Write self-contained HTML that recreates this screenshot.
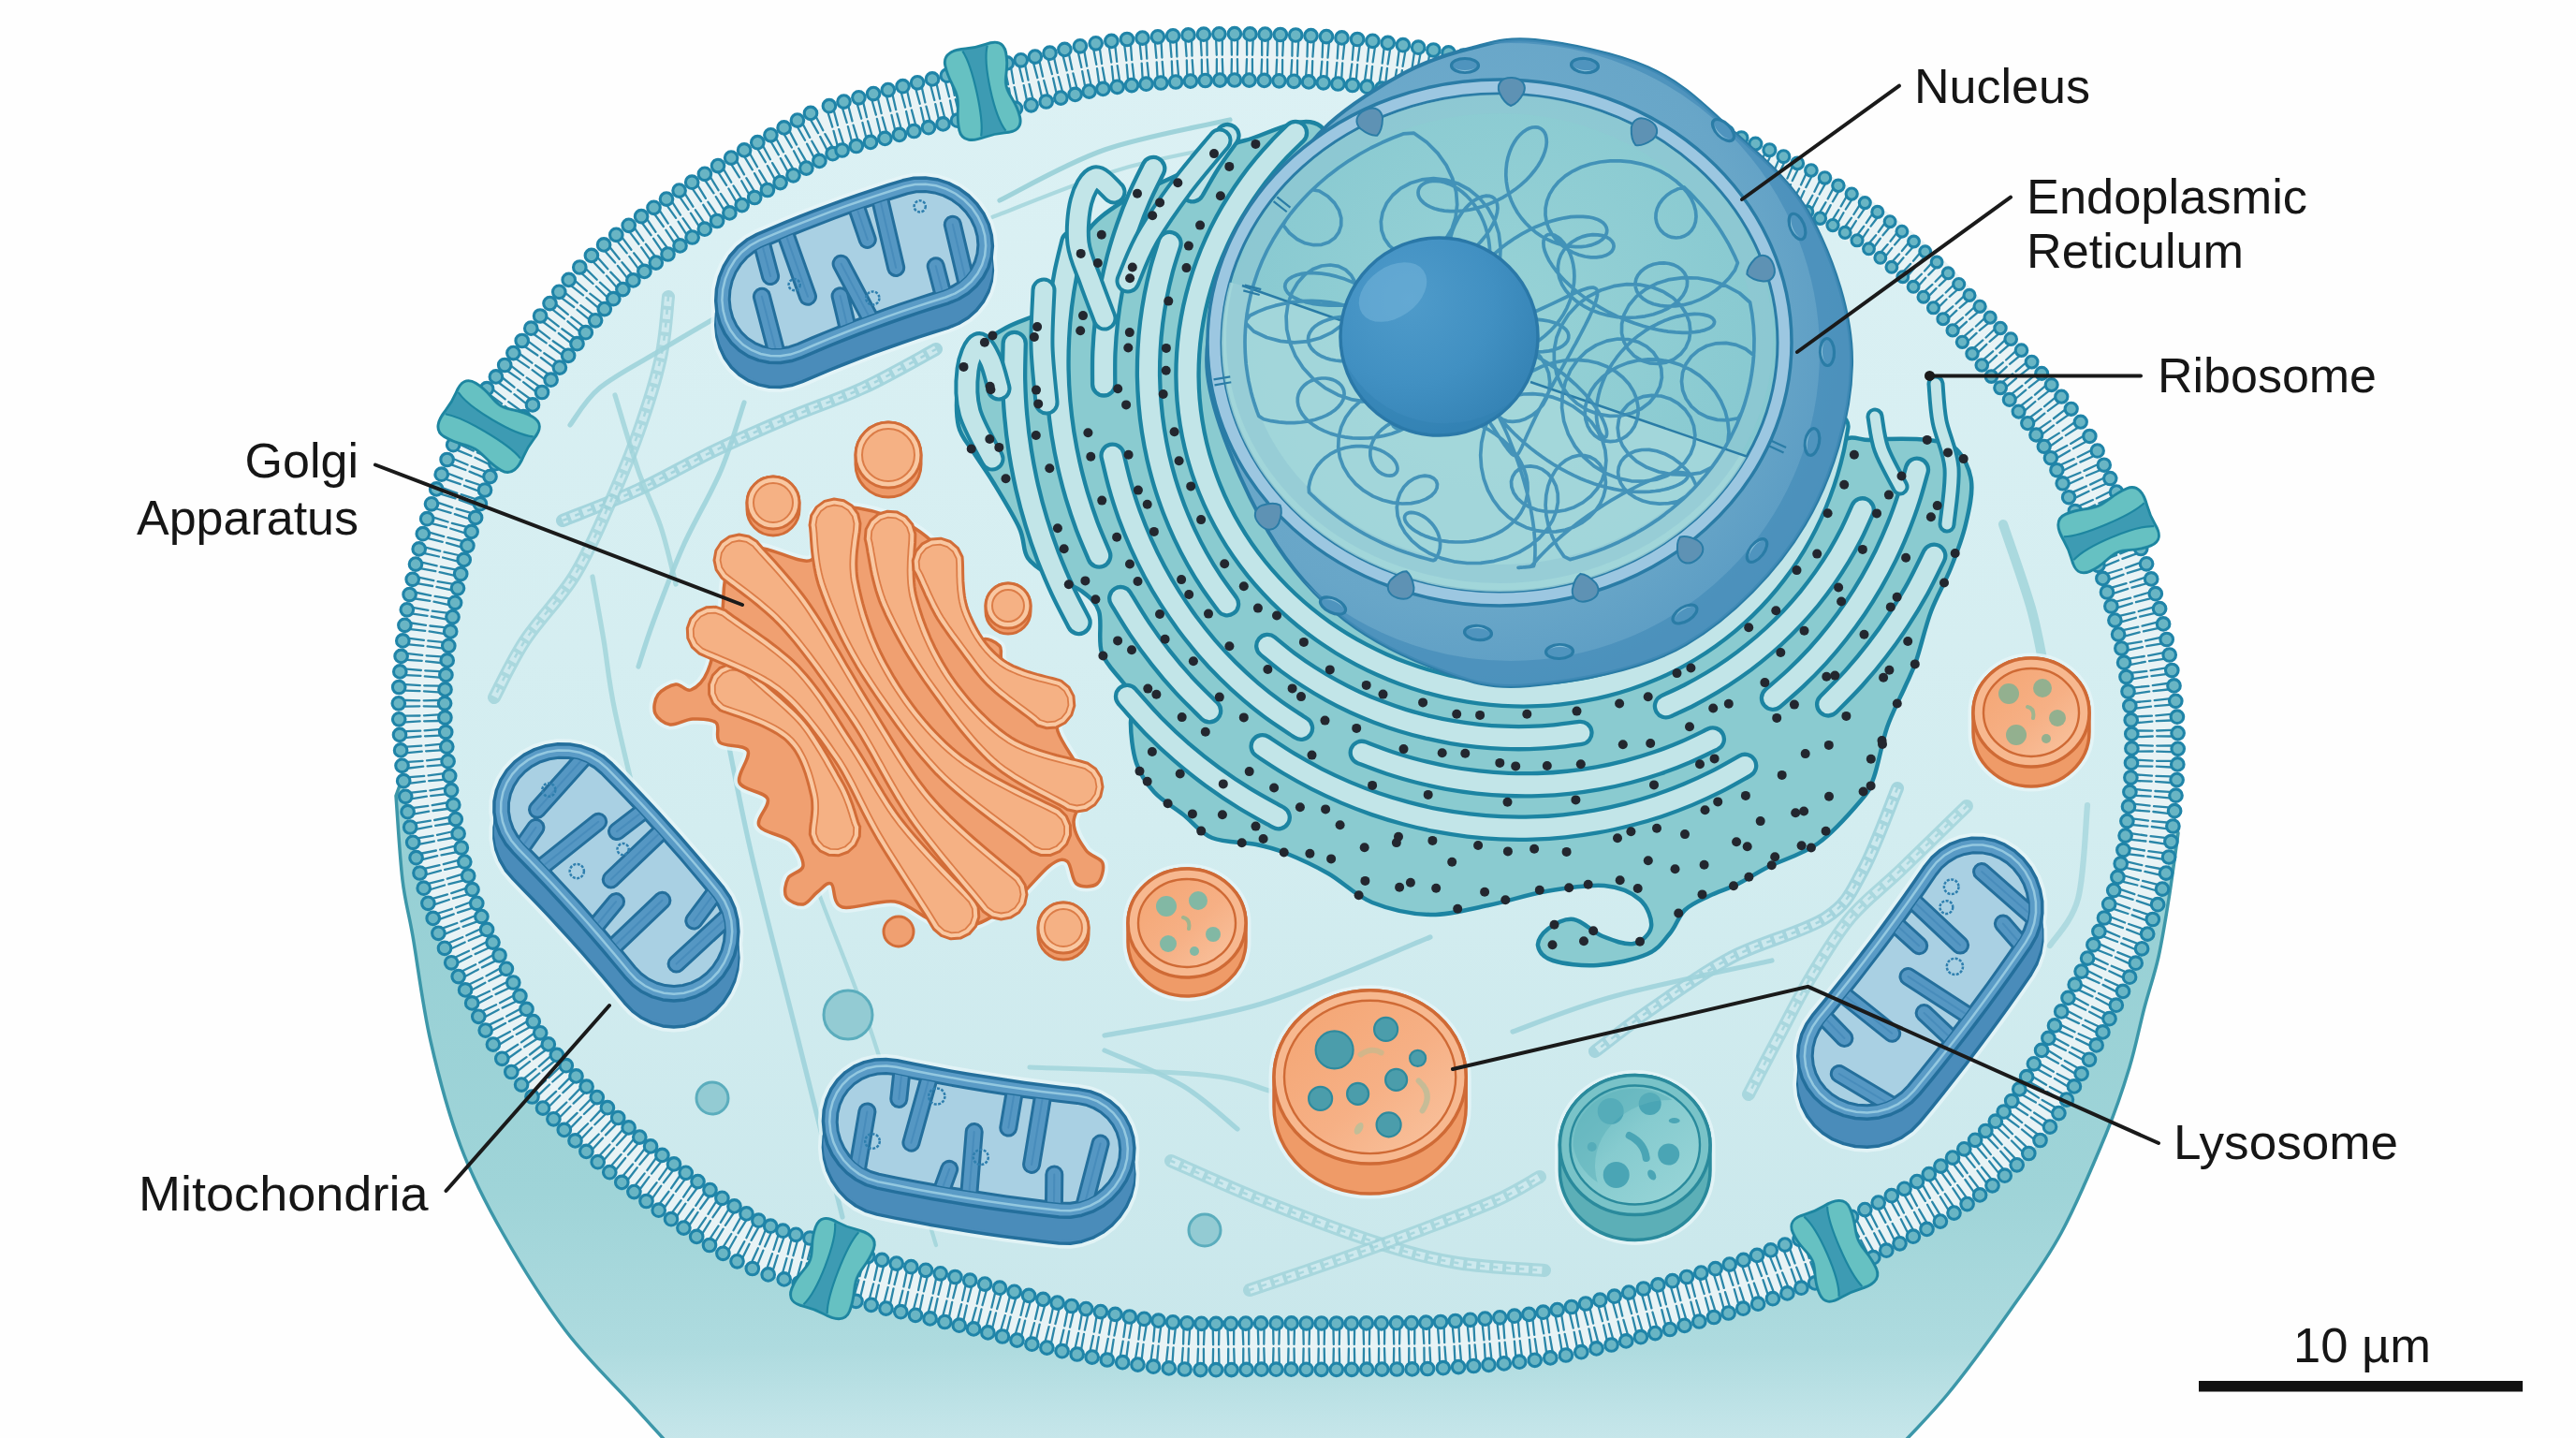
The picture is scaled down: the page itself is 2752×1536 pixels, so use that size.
<!DOCTYPE html><html><head><meta charset="utf-8"><title>Cell</title><style>html,body{margin:0;padding:0;background:#fefefe;overflow:hidden}svg{display:block}text{font-family:"Liberation Sans",sans-serif;fill:#161616}</style></head><body><svg width="2752" height="1536" viewBox="0 0 2752 1536"><defs><linearGradient id="gBody" gradientUnits="userSpaceOnUse" x1="0" y1="850" x2="0" y2="1536"><stop offset="0" stop-color="#95cfd4"/><stop offset="0.62" stop-color="#9fd4d8"/><stop offset="0.86" stop-color="#aedbdf"/><stop offset="1" stop-color="#c6e6ea"/></linearGradient><linearGradient id="gCyto" gradientUnits="userSpaceOnUse" x1="0" y1="60" x2="0" y2="1440"><stop offset="0" stop-color="#dcf1f4"/><stop offset="0.6" stop-color="#d3edf0"/><stop offset="1" stop-color="#c9e7eb"/></linearGradient><radialGradient id="gNuc" gradientUnits="userSpaceOnUse" cx="1560" cy="330" r="430"><stop offset="0" stop-color="#74b0d0"/><stop offset="0.75" stop-color="#68a6c8"/><stop offset="1" stop-color="#5a9bc3"/></radialGradient><radialGradient id="gNcl" gradientUnits="userSpaceOnUse" cx="1505" cy="320" r="150"><stop offset="0" stop-color="#4f9bca"/><stop offset="0.6" stop-color="#4190c2"/><stop offset="1" stop-color="#3684b6"/></radialGradient><radialGradient id="gNin" gradientUnits="userSpaceOnUse" cx="1600" cy="330" r="330"><stop offset="0" stop-color="#97d2d6"/><stop offset="1" stop-color="#86c8d0"/></radialGradient><clipPath id="cNuc"><path d="M1640 43C1671.7 46.3 1726.2 57 1760 72C1793.8 87 1813.8 106.2 1843 133C1872.2 159.8 1912.5 190.2 1935 233C1957.5 275.8 1979.2 335.5 1978 390C1976.8 444.5 1957.5 510.3 1928 560C1898.5 609.7 1850 659.3 1801 688C1752 716.7 1678.5 727.7 1634 732C1589.5 736.3 1568.5 727 1534 714C1499.5 701 1458.2 680.7 1427 654C1395.8 627.3 1369.8 596.3 1347 554C1324.2 511.7 1295.2 445.7 1290 400C1284.8 354.3 1302.7 314 1316 280C1329.3 246 1352.7 220.7 1370 196C1387.3 171.3 1398.3 151.7 1420 132C1441.7 112.3 1475 91.3 1500 78C1525 64.7 1546.7 57.8 1570 52C1593.3 46.2 1608.3 39.7 1640 43Z"/></clipPath><clipPath id="cRing"><ellipse cx="1602" cy="366" rx="297" ry="266"/></clipPath><linearGradient id="gLo" x1="0" y1="0" x2="1" y2="1"><stop offset="0" stop-color="#f4a573"/><stop offset="0.55" stop-color="#f6b085"/><stop offset="1" stop-color="#f9c4a0"/></linearGradient><linearGradient id="gLt" x1="0" y1="0" x2="1" y2="1"><stop offset="0" stop-color="#63b6be"/><stop offset="0.45" stop-color="#86cbcf"/><stop offset="1" stop-color="#9ad6d8"/></linearGradient><clipPath id="cm1"><path d="M969.5 206.8L978.9 204.8L988.7 204.5L998.4 205.9L1007.9 208.9L1016.8 213.4L1024.9 219.4L1031.8 226.4L1037.5 234.5L1041.6 243.2L1044.1 252.4L1044.9 261.7L1044 270.9L1041.4 279.8L1037.2 287.9L1031.5 295.2L1024.5 301.5L1016.5 306.4L1007.6 310L991.8 315L976 320.1L960.2 325.4L944.6 330.9L929 336.6L913.4 342.4L898 348.5L882.6 354.7L867.2 361L851.9 367.6L842.9 370.7L833.6 372.1L824.2 371.9L815.2 370.1L806.7 366.6L798.9 361.6L792.2 355.2L786.8 347.6L782.7 339L780.2 329.7L779.2 319.9L779.9 310L782.1 300.3L785.9 291L791.2 282.6L797.7 275.2L805.3 269.1L813.8 264.4L829.1 257.9L844.4 251.5L859.8 245.3L875.3 239.3L890.8 233.4L906.4 227.7L922.1 222.2L937.8 216.9L953.6 211.8Z"/></clipPath><clipPath id="cm2"><path d="M761.6 958.2L767.1 966.4L771.2 975.4L773.6 985.1L774.4 995.2L773.6 1005.2L771.1 1015L767 1024.2L761.5 1032.5L754.8 1039.7L747.1 1045.6L738.5 1049.9L729.4 1052.5L720.1 1053.4L710.7 1052.6L701.5 1050L693 1045.9L685.2 1040.2L678.4 1033.2L667.1 1019.4L655.6 1005.8L644 992.3L632.3 978.9L620.5 965.6L608.5 952.4L596.4 939.4L584.2 926.4L571.8 913.6L559.3 900.9L553.1 893.4L548.2 885.1L545 876.1L543.4 866.8L543.5 857.4L545.4 848.1L549 839.4L554.2 831.3L560.8 824.2L568.6 818.3L577.5 813.7L587 810.7L597 809.2L607.1 809.4L617.1 811.2L626.4 814.7L635 819.6L642.5 826L655 838.7L667.4 851.5L679.6 864.4L691.7 877.5L703.7 890.7L715.5 903.9L727.3 917.3L738.8 930.9L750.3 944.5Z"/></clipPath><clipPath id="cm3"><path d="M1150.7 1178.4L1159.9 1180.2L1168.6 1183.6L1176.4 1188.3L1183.3 1194.4L1188.9 1201.5L1193.1 1209.6L1195.7 1218.4L1196.7 1227.6L1196.1 1236.9L1193.8 1246.1L1189.9 1254.9L1184.6 1263L1178 1270.1L1170.4 1276.1L1161.8 1280.7L1152.7 1283.8L1143.2 1285.3L1133.8 1285.1L1114.2 1282.9L1094.6 1280.5L1075.1 1277.9L1055.6 1275.1L1036.1 1272.1L1016.7 1268.9L997.3 1265.6L977.9 1262L958.5 1258.2L939.2 1254.3L930.1 1251.5L921.6 1247.2L913.9 1241.4L907.2 1234.4L901.8 1226.3L897.7 1217.5L895.1 1208.2L894.2 1198.6L894.8 1189.2L897.1 1180.1L900.9 1171.7L906.1 1164.2L912.6 1157.8L920.2 1152.7L928.5 1149.1L937.5 1147L946.8 1146.5L956.1 1147.6L975.4 1151.6L994.8 1155.3L1014.2 1158.9L1033.6 1162.3L1053 1165.4L1072.5 1168.4L1092 1171.2L1111.5 1173.8L1131.1 1176.2Z"/></clipPath><clipPath id="cm4"><path d="M2068.2 934.5L2074.3 926.9L2081.6 920.6L2089.8 915.7L2098.7 912.4L2108 910.8L2117.4 910.9L2126.7 912.7L2135.6 916.3L2143.9 921.4L2151.2 928L2157.3 935.8L2162.2 944.6L2165.5 954.1L2167.2 964L2167.3 974.1L2165.7 984L2162.4 993.3L2157.6 1001.9L2146.4 1018.2L2135 1034.4L2123.5 1050.5L2111.8 1066.5L2100 1082.4L2088 1098.1L2075.8 1113.8L2063.5 1129.3L2051.1 1144.7L2038.5 1160L2031.6 1167L2023.5 1172.7L2014.4 1176.9L2004.7 1179.7L1994.7 1180.7L1984.6 1180.2L1974.8 1178L1965.6 1174.2L1957.3 1169L1950.1 1162.5L1944.2 1154.9L1939.9 1146.5L1937.2 1137.4L1936.2 1128L1937 1118.6L1939.4 1109.3L1943.5 1100.6L1949 1092.6L1961.6 1077.3L1974.1 1061.9L1986.4 1046.4L1998.5 1030.7L2010.5 1015L2022.4 999.1L2034 983.1L2045.6 967L2057 950.8Z"/></clipPath></defs><path d="M423 850C424.2 865 427 915 430 940C433 965 436 971.3 441 1000C446 1028.7 451.5 1074.7 460 1112C468.5 1149.3 479.2 1189.8 492 1224C504.8 1258.2 518.3 1284.2 537 1317C555.7 1349.8 580.5 1390 604 1421C627.5 1452 657 1479.8 678 1503C699 1526.2 721.3 1550.5 730 1560L2015 1560C2025.8 1548.3 2057.8 1516.8 2080 1490C2102.2 1463.2 2127.7 1427.8 2148 1399C2168.3 1370.2 2185 1348.3 2202 1317C2219 1285.7 2237.8 1240.5 2250 1211C2262.2 1181.5 2268.2 1162.5 2275 1140C2281.8 1117.5 2285.8 1095.7 2291 1076C2296.2 1056.3 2301.7 1041.3 2306 1022C2310.3 1002.7 2313.5 982 2317 960C2320.5 938 2325.3 901.7 2327 890L2302 800C2301.7 792.2 2302 772.2 2300 753C2298 733.8 2294.7 707.7 2290 685C2285.3 662.3 2278 636.2 2272 617C2266 597.8 2260.3 585.3 2254 570C2247.7 554.7 2242 542 2234 525C2226 508 2218.3 487.5 2206 468C2193.7 448.5 2174.3 425.7 2160 408C2145.7 390.3 2138.3 382.2 2120 362C2101.7 341.8 2075.8 310.3 2050 287C2024.2 263.7 1998.3 241.8 1965 222C1931.7 202.2 1894.2 185.3 1850 168C1805.8 150.7 1748.3 132 1700 118C1651.7 104 1602.8 92.7 1560 84C1517.2 75.3 1480.5 69.8 1443 66C1405.5 62.2 1366.7 61.5 1335 61C1303.3 60.5 1280.2 61.3 1253 63C1225.8 64.7 1198.7 66.7 1172 71C1145.3 75.3 1113 84.7 1093 89C1073 93.3 1069.7 93.2 1052 97C1034.3 100.8 1012.5 105.7 987 112C961.5 118.3 919.2 128.8 899 135C878.8 141.2 888.5 136.8 866 149C843.5 161.2 798.3 186 764 208C729.7 230 686 259.3 660 281C634 302.7 625 317.2 608 338C591 358.8 572.2 386.7 558 406C543.8 425.3 532.8 437.7 523 454C513.2 470.3 506.8 483.8 499 504C491.2 524.2 482.5 550.7 476 575C469.5 599.3 464 626.3 460 650C456 673.7 453.5 696.7 452 717C450.5 737.3 451.2 762.8 451 772Z" fill="url(#gBody)" stroke="#3c97a9" stroke-width="3.5" stroke-linejoin="round"/><path d="M1335 61C1366.7 61.5 1405.5 62.2 1443 66C1480.5 69.8 1517.2 75.3 1560 84C1602.8 92.7 1651.7 104 1700 118C1748.3 132 1805.8 150.7 1850 168C1894.2 185.3 1931.7 202.2 1965 222C1998.3 241.8 2024.2 263.7 2050 287C2075.8 310.3 2101.7 341.8 2120 362C2138.3 382.2 2145.7 390.3 2160 408C2174.3 425.7 2193.7 448.5 2206 468C2218.3 487.5 2226 508 2234 525C2242 542 2247.7 554.7 2254 570C2260.3 585.3 2266 597.8 2272 617C2278 636.2 2285.3 662.3 2290 685C2294.7 707.7 2298 733.8 2300 753C2302 772.2 2302.2 782.3 2302 800C2301.8 817.7 2301 837.8 2299 859C2297 880.2 2294.2 906.7 2290 927C2285.8 947.3 2280.3 963 2274 981C2267.7 999 2260.2 1016.8 2252 1035C2243.8 1053.2 2233.3 1073.3 2225 1090C2216.7 1106.7 2213.8 1115 2202 1135C2190.2 1155 2174.3 1187.3 2154 1210C2133.7 1232.7 2106 1253.2 2080 1271C2054 1288.8 2018 1306.2 1998 1317C1978 1327.8 1973 1330.3 1960 1336C1947 1341.7 1936.3 1345 1920 1351C1903.7 1357 1887.5 1364 1862 1372C1836.5 1380 1800.8 1390.2 1767 1399C1733.2 1407.8 1695.2 1418.8 1659 1425C1622.8 1431.2 1581.5 1433.8 1550 1436C1518.5 1438.2 1501.3 1437.7 1470 1438C1438.7 1438.3 1398.2 1438.2 1362 1438C1325.8 1437.8 1289.3 1440 1253 1437C1216.7 1434 1180.2 1427.3 1144 1420C1107.8 1412.7 1073.2 1402 1036 1393C998.8 1384 947 1372.8 921 1366C895 1359.2 900.5 1358.8 880 1352C859.5 1345.2 830.7 1342.5 798 1325C765.3 1307.5 716 1272 684 1247C652 1222 627 1196.3 606 1175C585 1153.7 572 1139.5 558 1119C544 1098.5 532.8 1073.2 522 1052C511.2 1030.8 501.3 1013.2 493 992C484.7 970.8 477.8 948.7 472 925C466.2 901.3 461.5 875.5 458 850C454.5 824.5 452 794.2 451 772C450 749.8 450.5 737.3 452 717C453.5 696.7 456 673.7 460 650C464 626.3 469.5 599.3 476 575C482.5 550.7 491.2 524.2 499 504C506.8 483.8 513.2 470.3 523 454C532.8 437.7 543.8 425.3 558 406C572.2 386.7 591 358.8 608 338C625 317.2 634 302.7 660 281C686 259.3 729.7 230 764 208C798.3 186 843.5 161.2 866 149C888.5 136.8 878.8 141.2 899 135C919.2 128.8 961.5 118.3 987 112C1012.5 105.7 1034.3 100.8 1052 97C1069.7 93.2 1073 93.3 1093 89C1113 84.7 1145.3 75.3 1172 71C1198.7 66.7 1225.8 64.7 1253 63C1280.2 61.3 1303.3 60.5 1335 61Z" fill="url(#gCyto)"/><path d="M1000 373C987.2 379.8 949.2 401.8 923 414C896.8 426.2 869.8 434.7 843 446C816.2 457.3 788.8 469.2 762 482C735.2 494.8 708.8 510.7 682 523C655.2 535.3 614.5 550.5 601 556" fill="none" stroke="#9fd2da" stroke-width="14" stroke-linecap="round" opacity="0.9"/><path d="M1000 373C987.2 379.8 949.2 401.8 923 414C896.8 426.2 869.8 434.7 843 446C816.2 457.3 788.8 469.2 762 482C735.2 494.8 708.8 510.7 682 523C655.2 535.3 614.5 550.5 601 556" fill="none" stroke="#cfeaee" stroke-width="8" stroke-dasharray="10 4" opacity="0.95"/><path d="M1000 373C987.2 379.8 949.2 401.8 923 414C896.8 426.2 869.8 434.7 843 446C816.2 457.3 788.8 469.2 762 482C735.2 494.8 708.8 510.7 682 523C655.2 535.3 614.5 550.5 601 556" fill="none" stroke="#9fd2da" stroke-width="2.5" stroke-dasharray="5 9" opacity="0.9"/><path d="M714 317C712.7 327.8 711.3 357.8 706 382C700.7 406.2 691.5 435.2 682 462C672.5 488.8 660.5 517.3 649 543C637.5 568.7 627.7 592.5 613 616C598.3 639.5 575.2 662.5 561 684C546.8 705.5 533.5 734.8 528 745" fill="none" stroke="#9fd2da" stroke-width="14" stroke-linecap="round" opacity="0.8"/><path d="M714 317C712.7 327.8 711.3 357.8 706 382C700.7 406.2 691.5 435.2 682 462C672.5 488.8 660.5 517.3 649 543C637.5 568.7 627.7 592.5 613 616C598.3 639.5 575.2 662.5 561 684C546.8 705.5 533.5 734.8 528 745" fill="none" stroke="#cfeaee" stroke-width="8" stroke-dasharray="10 4" opacity="0.95"/><path d="M714 317C712.7 327.8 711.3 357.8 706 382C700.7 406.2 691.5 435.2 682 462C672.5 488.8 660.5 517.3 649 543C637.5 568.7 627.7 592.5 613 616C598.3 639.5 575.2 662.5 561 684C546.8 705.5 533.5 734.8 528 745" fill="none" stroke="#9fd2da" stroke-width="2.5" stroke-dasharray="5 9" opacity="0.8"/><path d="M1068 214C1086.7 205 1139 174.3 1180 160C1221 145.7 1291.7 133.3 1314 128" fill="none" stroke="#9fd3da" stroke-width="5.2" stroke-linecap="round" opacity="1"/><path d="M1060 232C1083.3 223.3 1153.3 193.7 1200 180C1246.7 166.3 1316.7 155 1340 150" fill="none" stroke="#9fd3da" stroke-width="4.2" stroke-linecap="round" opacity="0.8"/><path d="M762 341C752.7 346.5 726.2 361.8 706 374C685.8 386.2 657.2 400.7 641 414C624.8 427.3 614.3 447.3 609 454" fill="none" stroke="#9fd3da" stroke-width="5.2" stroke-linecap="round" opacity="0.9"/><path d="M795 430C790.8 442.2 780.8 477.5 770 503C759.2 528.5 742 556.2 730 583C718 609.8 706 642.5 698 664C690 685.5 684.7 704 682 712" fill="none" stroke="#9fd3da" stroke-width="5.2" stroke-linecap="round" opacity="0.9"/><path d="M657 422C661.2 435.5 673.8 479.5 682 503C690.2 526.5 699.3 542.8 706 563C712.7 583.2 719.3 613.8 722 624" fill="none" stroke="#9fd3da" stroke-width="5.2" stroke-linecap="round" opacity="0.8"/><path d="M633 616C635 627.3 641 660 645 684C649 708 649.5 724 657 760C664.5 796 684.5 876.7 690 900" fill="none" stroke="#9fd3da" stroke-width="5.2" stroke-linecap="round" opacity="0.8"/><path d="M760 700C766.7 733.3 785 833.3 800 900C815 966.7 833.3 1033.3 850 1100C866.7 1166.7 891.7 1266.7 900 1300" fill="none" stroke="#9fd3da" stroke-width="5.2" stroke-linecap="round" opacity="0.9"/><path d="M800 640C808.3 680 828.3 803.3 850 880C871.7 956.7 905 1025 930 1100C955 1175 988.3 1291.7 1000 1330" fill="none" stroke="#9fd3da" stroke-width="4.2" stroke-linecap="round" opacity="0.8"/><path d="M2027 842C2020.8 856.7 2002.7 907 1990 930C1977.3 953 1974.2 964.7 1951 980C1927.8 995.3 1881.7 1006 1851 1022C1820.3 1038 1791.5 1059.2 1767 1076C1742.5 1092.8 1714.5 1115.2 1704 1123" fill="none" stroke="#9fd2da" stroke-width="14" stroke-linecap="round" opacity="0.9"/><path d="M2027 842C2020.8 856.7 2002.7 907 1990 930C1977.3 953 1974.2 964.7 1951 980C1927.8 995.3 1881.7 1006 1851 1022C1820.3 1038 1791.5 1059.2 1767 1076C1742.5 1092.8 1714.5 1115.2 1704 1123" fill="none" stroke="#cfeaee" stroke-width="8" stroke-dasharray="10 4" opacity="0.95"/><path d="M2027 842C2020.8 856.7 2002.7 907 1990 930C1977.3 953 1974.2 964.7 1951 980C1927.8 995.3 1881.7 1006 1851 1022C1820.3 1038 1791.5 1059.2 1767 1076C1742.5 1092.8 1714.5 1115.2 1704 1123" fill="none" stroke="#9fd2da" stroke-width="2.5" stroke-dasharray="5 9" opacity="0.9"/><path d="M2101 861C2089.2 872.5 2050.7 910.2 2030 930C2009.3 949.8 1992.8 961.2 1977 980C1961.2 998.8 1947.7 1022 1935 1043C1922.3 1064 1912.2 1085 1901 1106C1889.8 1127 1873.5 1158.5 1868 1169" fill="none" stroke="#9fd2da" stroke-width="14" stroke-linecap="round" opacity="0.8"/><path d="M2101 861C2089.2 872.5 2050.7 910.2 2030 930C2009.3 949.8 1992.8 961.2 1977 980C1961.2 998.8 1947.7 1022 1935 1043C1922.3 1064 1912.2 1085 1901 1106C1889.8 1127 1873.5 1158.5 1868 1169" fill="none" stroke="#cfeaee" stroke-width="8" stroke-dasharray="10 4" opacity="0.95"/><path d="M2101 861C2089.2 872.5 2050.7 910.2 2030 930C2009.3 949.8 1992.8 961.2 1977 980C1961.2 998.8 1947.7 1022 1935 1043C1922.3 1064 1912.2 1085 1901 1106C1889.8 1127 1873.5 1158.5 1868 1169" fill="none" stroke="#9fd2da" stroke-width="2.5" stroke-dasharray="5 9" opacity="0.8"/><path d="M1251 1240C1267.2 1247 1311 1267.3 1348 1282C1385 1296.7 1438.2 1316.8 1473 1328C1507.8 1339.2 1527.5 1344.2 1557 1349C1586.5 1353.8 1634.5 1355.7 1650 1357" fill="none" stroke="#9fd2da" stroke-width="14" stroke-linecap="round" opacity="0.8"/><path d="M1251 1240C1267.2 1247 1311 1267.3 1348 1282C1385 1296.7 1438.2 1316.8 1473 1328C1507.8 1339.2 1527.5 1344.2 1557 1349C1586.5 1353.8 1634.5 1355.7 1650 1357" fill="none" stroke="#cfeaee" stroke-width="8" stroke-dasharray="10 4" opacity="0.95"/><path d="M1251 1240C1267.2 1247 1311 1267.3 1348 1282C1385 1296.7 1438.2 1316.8 1473 1328C1507.8 1339.2 1527.5 1344.2 1557 1349C1586.5 1353.8 1634.5 1355.7 1650 1357" fill="none" stroke="#9fd2da" stroke-width="2.5" stroke-dasharray="5 9" opacity="0.8"/><path d="M1335 1378C1351.2 1372.5 1402 1355.5 1432 1345C1462 1334.5 1487.2 1325.5 1515 1315C1542.8 1304.5 1577.3 1291.7 1599 1282C1620.7 1272.3 1637.3 1261.2 1645 1257" fill="none" stroke="#9fd2da" stroke-width="14" stroke-linecap="round" opacity="0.8"/><path d="M1335 1378C1351.2 1372.5 1402 1355.5 1432 1345C1462 1334.5 1487.2 1325.5 1515 1315C1542.8 1304.5 1577.3 1291.7 1599 1282C1620.7 1272.3 1637.3 1261.2 1645 1257" fill="none" stroke="#cfeaee" stroke-width="8" stroke-dasharray="10 4" opacity="0.95"/><path d="M1335 1378C1351.2 1372.5 1402 1355.5 1432 1345C1462 1334.5 1487.2 1325.5 1515 1315C1542.8 1304.5 1577.3 1291.7 1599 1282C1620.7 1272.3 1637.3 1261.2 1645 1257" fill="none" stroke="#9fd2da" stroke-width="2.5" stroke-dasharray="5 9" opacity="0.8"/><path d="M1180 1106C1208 1100.3 1290 1089.5 1348 1072C1406 1054.5 1498 1012.8 1528 1001" fill="none" stroke="#9fd3da" stroke-width="5.2" stroke-linecap="round" opacity="0.9"/><path d="M1616 1102C1634.2 1095.7 1678.8 1076.7 1725 1064C1771.2 1051.3 1865 1032.3 1893 1026" fill="none" stroke="#9fd3da" stroke-width="5.2" stroke-linecap="round" opacity="0.9"/><path d="M1180 1122C1194 1128.3 1240.3 1146 1264 1160C1287.7 1174 1312.3 1198.3 1322 1206" fill="none" stroke="#9fd3da" stroke-width="5.2" stroke-linecap="round" opacity="0.9"/><path d="M1100 1140C1130.8 1141.3 1242.3 1143.8 1285 1148C1327.7 1152.2 1344.2 1162.2 1356 1165" fill="none" stroke="#9fd3da" stroke-width="5.2" stroke-linecap="round" opacity="0.8"/><path d="M2140 560C2145 575 2162.5 623.3 2170 650C2177.5 676.7 2182.5 708.3 2185 720" fill="none" stroke="#9fd3da" stroke-width="10.2" stroke-linecap="round" opacity="0.8"/><path d="M2230 860C2228.3 876.7 2226.7 935 2220 960C2213.3 985 2195 1001.7 2190 1010" fill="none" stroke="#9fd3da" stroke-width="6.2" stroke-linecap="round" opacity="0.7"/><path d="M1335 61C1366.7 61.5 1405.5 62.2 1443 66C1480.5 69.8 1517.2 75.3 1560 84C1602.8 92.7 1651.7 104 1700 118C1748.3 132 1805.8 150.7 1850 168C1894.2 185.3 1931.7 202.2 1965 222C1998.3 241.8 2024.2 263.7 2050 287C2075.8 310.3 2101.7 341.8 2120 362C2138.3 382.2 2145.7 390.3 2160 408C2174.3 425.7 2193.7 448.5 2206 468C2218.3 487.5 2226 508 2234 525C2242 542 2247.7 554.7 2254 570C2260.3 585.3 2266 597.8 2272 617C2278 636.2 2285.3 662.3 2290 685C2294.7 707.7 2298 733.8 2300 753C2302 772.2 2302.2 782.3 2302 800C2301.8 817.7 2301 837.8 2299 859C2297 880.2 2294.2 906.7 2290 927C2285.8 947.3 2280.3 963 2274 981C2267.7 999 2260.2 1016.8 2252 1035C2243.8 1053.2 2233.3 1073.3 2225 1090C2216.7 1106.7 2213.8 1115 2202 1135C2190.2 1155 2174.3 1187.3 2154 1210C2133.7 1232.7 2106 1253.2 2080 1271C2054 1288.8 2018 1306.2 1998 1317C1978 1327.8 1973 1330.3 1960 1336C1947 1341.7 1936.3 1345 1920 1351C1903.7 1357 1887.5 1364 1862 1372C1836.5 1380 1800.8 1390.2 1767 1399C1733.2 1407.8 1695.2 1418.8 1659 1425C1622.8 1431.2 1581.5 1433.8 1550 1436C1518.5 1438.2 1501.3 1437.7 1470 1438C1438.7 1438.3 1398.2 1438.2 1362 1438C1325.8 1437.8 1289.3 1440 1253 1437C1216.7 1434 1180.2 1427.3 1144 1420C1107.8 1412.7 1073.2 1402 1036 1393C998.8 1384 947 1372.8 921 1366C895 1359.2 900.5 1358.8 880 1352C859.5 1345.2 830.7 1342.5 798 1325C765.3 1307.5 716 1272 684 1247C652 1222 627 1196.3 606 1175C585 1153.7 572 1139.5 558 1119C544 1098.5 532.8 1073.2 522 1052C511.2 1030.8 501.3 1013.2 493 992C484.7 970.8 477.8 948.7 472 925C466.2 901.3 461.5 875.5 458 850C454.5 824.5 452 794.2 451 772C450 749.8 450.5 737.3 452 717C453.5 696.7 456 673.7 460 650C464 626.3 469.5 599.3 476 575C482.5 550.7 491.2 524.2 499 504C506.8 483.8 513.2 470.3 523 454C532.8 437.7 543.8 425.3 558 406C572.2 386.7 591 358.8 608 338C625 317.2 634 302.7 660 281C686 259.3 729.7 230 764 208C798.3 186 843.5 161.2 866 149C888.5 136.8 878.8 141.2 899 135C919.2 128.8 961.5 118.3 987 112C1012.5 105.7 1034.3 100.8 1052 97C1069.7 93.2 1073 93.3 1093 89C1113 84.7 1145.3 75.3 1172 71C1198.7 66.7 1225.8 64.7 1253 63C1280.2 61.3 1303.3 60.5 1335 61Z" fill="none" stroke="#e8f3f5" stroke-width="50"/><path d="M1332 43.3L1332.1 58.8M1338.6 43.4L1338 58.8M1331.4 78.6L1332 63.2M1338 78.7L1337.9 63.2M1348.1 43.6L1348.2 59M1354.7 43.7L1354.1 59.1M1347.5 78.9L1348.1 63.4M1354.1 79L1354 63.5M1364.3 43.9L1364.3 59.4M1370.9 44.1L1370.2 59.5M1363.4 79.2L1364.1 63.7M1370 79.4L1370.1 63.9M1380.6 44.4L1380.4 59.8M1387.2 44.6L1386.3 60M1379.3 79.6L1380.2 64.2M1385.9 79.9L1386.1 64.4M1396.9 45L1396.5 60.5M1403.5 45.3L1402.4 60.7M1395.2 80.3L1396.3 64.8M1401.7 80.6L1402.2 65.1M1413.2 45.9L1412.6 61.3M1419.8 46.3L1418.5 61.7M1411 81.1L1412.3 65.7M1417.5 81.5L1418.2 66.1M1429.6 47.1L1428.7 62.5M1436.2 47.6L1434.6 63M1426.7 82.2L1428.3 66.9M1433.3 82.8L1434.2 67.4M1446 48.6L1444.7 64M1452.6 49.3L1450.6 64.6M1442.3 83.7L1444.3 68.3M1448.9 84.4L1450.2 69M1462.3 50.4L1460.7 65.7M1468.8 51.1L1466.6 66.4M1458.1 85.4L1460.2 70.1M1464.6 86.2L1466.1 70.8M1478.5 52.4L1476.7 67.7M1485 53.2L1482.6 68.5M1473.8 87.4L1476.2 72.1M1480.3 88.2L1482 72.9M1494.6 54.6L1492.7 69.9M1501.2 55.6L1498.6 70.8M1489.5 89.5L1492.1 74.3M1496 90.5L1497.9 75.2M1510.8 57.1L1508.6 72.4M1517.3 58.2L1514.5 73.4M1505.1 91.9L1507.9 76.7M1511.6 93L1513.8 77.7M1526.9 59.8L1524.5 75.1M1533.4 60.9L1530.4 76.1M1520.7 94.5L1523.8 79.4M1527.2 95.7L1529.6 80.4M1542.9 62.7L1540.4 77.9M1549.4 63.9L1546.2 79M1536.4 97.4L1539.6 82.3M1542.9 98.6L1545.4 83.4M1558.9 65.8L1556.2 81M1565.4 67.1L1562 82.2M1552 100.4L1555.3 85.3M1558.5 101.7L1561.2 86.5M1574.9 69L1572 84.2M1581.3 70.4L1577.8 85.4M1567.6 103.6L1571.1 88.5M1574 104.9L1576.9 89.7M1590.7 72.4L1587.7 87.6M1597.2 73.8L1593.6 88.8M1583.2 106.9L1586.8 91.9M1589.7 108.3L1592.6 93.1M1606.6 75.9L1603.5 91M1613 77.4L1609.3 92.4M1598.8 110.3L1602.5 95.3M1605.2 111.8L1608.3 96.7M1622.4 79.6L1619.2 94.7M1628.8 81.1L1625 96M1614.3 113.9L1618.2 98.9M1620.7 115.4L1623.9 100.3M1638.2 83.3L1634.8 98.4M1644.6 84.9L1640.6 99.8M1629.8 117.6L1633.8 102.7M1636.2 119.2L1639.6 104.1M1654 87.3L1650.5 102.3M1660.4 88.9L1656.2 103.8M1645.2 121.4L1649.4 106.6M1651.6 123.1L1655.1 108M1669.7 91.3L1666.1 106.3M1676.1 93L1671.8 107.9M1660.7 125.4L1664.9 110.6M1667 127.1L1670.7 112.1M1685.4 95.6L1681.6 110.5M1691.8 97.4L1687.4 112.1M1676 129.5L1680.5 114.8M1682.4 131.3L1686.2 116.4M1701.1 100L1697.1 114.9M1707.4 101.8L1702.8 116.5M1691.3 133.8L1695.9 119.1M1697.7 135.6L1701.6 120.8M1716.7 104.6L1712.6 119.4M1723 106.5L1718.3 121.1M1706.6 138.2L1711.3 123.6M1712.9 140.1L1717 125.3M1732.2 109.3L1728 124M1738.5 111.2L1733.7 125.8M1721.9 142.8L1726.7 128.2M1728.2 144.7L1732.4 130M1747.7 114.1L1743.4 128.8M1754 116.1L1749.1 130.6M1737.2 147.4L1742.1 133M1743.5 149.4L1747.8 134.8M1763.1 119.1L1758.8 133.6M1769.4 121.1L1764.4 135.5M1752.5 152.2L1757.4 137.8M1758.7 154.2L1763.1 139.6M1778.5 124.1L1774.1 138.6M1784.8 126.2L1779.7 140.5M1767.7 157.1L1772.7 142.8M1773.9 159.1L1778.3 144.7M1793.9 129.4L1789.4 143.7M1800.1 131.5L1795 145.6M1782.8 162L1788 147.9M1789.1 164.1L1793.6 149.8M1809.2 134.8L1804.6 148.9M1815.4 136.9L1810.2 150.9M1797.9 167.1L1803.1 153.1M1804.2 169.2L1808.8 155.1M1824.5 140.3L1819.8 154.3M1830.7 142.6L1825.4 156.3M1813 172.2L1818.3 158.5M1819.2 174.5L1823.9 160.5M1839.8 146.1L1834.9 159.9M1846 148.5L1840.5 162M1827.9 177.5L1833.4 164M1834.1 179.8L1838.9 166.1M1854.9 152.2L1850 165.6M1861.1 154.6L1855.5 167.8M1842.8 182.9L1848.4 169.7M1848.9 185.4L1853.9 171.9M1869.9 158.4L1864.9 171.6M1876.1 160.9L1870.5 173.8M1857.7 188.6L1863.3 175.7M1863.8 191.1L1868.8 177.9M1884.9 164.8L1879.9 177.7M1891 167.4L1885.3 180M1872.5 194.4L1878.1 181.8M1878.6 196.9L1883.6 184.1M1899.9 171.6L1894.7 184M1905.9 174.2L1900.1 186.4M1887.1 200.3L1892.9 188.1M1893.2 203L1898.3 190.5M1914.6 178.5L1909.4 190.6M1920.6 181.3L1914.8 193.1M1901.7 206.5L1907.6 194.6M1907.7 209.2L1913 197.1M1929.3 185.9L1924 197.5M1935.3 188.8L1929.3 200.1M1916.1 212.9L1922.1 201.5M1922.1 215.8L1927.4 204.1M1943.9 193.6L1938.4 204.8M1949.8 196.6L1943.7 207.5M1930.3 219.6L1936.4 208.7M1936.2 222.6L1941.7 211.4M1958.3 201.6L1952.7 212.4M1964.1 204.9L1957.9 215.3M1944.3 226.6L1950.5 216.2M1950.1 229.9L1955.7 219.1M1972.5 210.2L1966.7 220.4M1978.1 213.6L1971.8 223.5M1958.1 234.1L1964.4 224.2M1963.7 237.5L1969.5 227.3M1986.5 219.3L1980.4 229M1992 222.9L1985.4 232.3M1971.3 242L1978 232.7M1976.8 245.7L1982.9 236M2000 228.8L1993.8 238.1M2005.4 232.7L1998.6 241.6M1984.4 250.6L1991.2 241.7M1989.8 254.4L1996 245.1M2013.3 238.8L2006.8 247.7M2018.5 242.9L2011.5 251.3M1997.1 259.6L2004.1 251.2M2002.3 263.7L2008.8 254.8M2026.1 249.1L2019.5 257.7M2031.2 253.3L2024.1 261.5M2009.6 269.2L2016.7 261.1M2014.7 273.4L2021.3 264.9M2038.6 259.7L2031.9 268M2043.6 264L2036.4 271.9M2021.7 279.3L2029 271.4M2026.7 283.6L2033.5 275.3M2050.9 270.5L2044 278.7M2055.8 274.8L2048.4 282.6M2033.7 289.7L2041.1 281.9M2038.6 294.1L2045.5 285.9M2063.2 281.5L2056 289.5M2067.9 286L2060.3 293.6M2045.3 300.3L2052.9 292.7M2050.1 304.8L2057.2 296.8M2075.2 293L2067.6 300.8M2079.7 297.7L2071.7 305.1M2056.3 311.2L2064.4 303.9M2060.9 316L2068.5 308.1M2086.6 304.7L2078.7 312.5M2091.1 309.5L2082.7 316.8M2067.1 322.8L2075.5 315.5M2071.6 327.6L2079.5 319.8M2097.8 316.6L2089.6 324.4M2102.2 321.5L2093.6 328.8M2077.7 334.6L2086.3 327.3M2082.1 339.5L2090.3 331.7M2108.8 328.5L2100.3 336.4M2113.2 333.4L2104.2 340.9M2088 346.8L2097 339.3M2092.4 351.7L2100.9 343.8M2119.7 340.3L2110.9 348.5M2124 345.3L2114.8 352.9M2098.4 359.1L2107.6 351.4M2102.8 364L2111.5 355.9M2130.5 352L2121.6 360.5M2134.9 356.8L2125.6 364.9M2109 371.5L2118.3 363.4M2113.4 376.4L2122.3 367.8M2141.6 363.7L2132.4 372.4M2146 368.6L2136.4 376.8M2119.5 383.6L2129.1 375.3M2123.9 388.5L2133.1 379.8M2152.8 375.7L2143.1 384.5M2157.1 380.7L2147 388.9M2129.8 395.6L2139.8 387.3M2134.1 400.6L2143.7 391.8M2163.7 388L2153.6 396.7M2167.9 393.1L2157.4 401.3M2139.7 407.8L2150.2 399.5M2143.9 412.9L2154 404.1M2174.2 400.3L2163.8 409.2M2178.4 405.4L2167.6 413.8M2149.6 420.4L2160.4 412M2153.8 425.5L2164.2 416.6M2184.6 412.6L2174 421.7M2188.8 417.7L2177.7 426.3M2159.5 433L2170.6 424.4M2163.7 438.1L2174.3 429M2195.1 425.2L2184.1 434.2M2199.2 430.3L2187.8 438.9M2169.3 445.5L2180.7 436.9M2173.3 450.7L2184.3 441.6M2205.4 438.1L2194 447M2209.4 443.4L2197.5 451.8M2178.6 457.9L2190.5 449.6M2182.6 463.2L2194 454.4M2215.5 451.7L2203.5 460.1M2219.1 457.2L2206.8 465.1M2187.4 470.5L2199.8 462.6M2191.1 476L2203.1 467.5M2224.9 466.3L2212.1 473.9M2228.1 472.1L2215 479.1M2195.2 483L2208.3 476M2198.4 488.8L2211.2 481.2M2233.1 481.5L2219.7 488.2M2235.9 487.5L2222.3 493.6M2202.1 496.3L2215.7 490.1M2204.9 502.2L2218.3 495.5M2240.2 496.5L2226.5 502.9M2242.8 502.5L2228.9 508.3M2208.6 510.5L2222.5 504.7M2211.2 516.5L2224.9 510.1M2246.7 511L2233 517.6M2249.4 517L2235.5 523M2215.1 525.4L2229 519.4M2217.8 531.4L2231.5 524.8M2253.5 525.5L2239.8 532.2M2256.2 531.5L2242.3 537.6M2221.8 540.1L2235.8 534M2224.6 546.1L2238.3 539.4M2279.5 585.5L2265.2 591.4M2281.9 591.6L2267.4 596.9M2246.7 598.3L2261.1 593M2249.1 604.4L2263.3 598.5M2285.4 601.4L2270.9 606.6M2287.5 607.6L2272.8 612.2M2252 612.5L2266.7 608M2254.1 618.8L2268.6 613.6M2290.5 617.2L2275.8 622M2292.4 623.5L2277.5 627.6M2256.8 627.3L2271.6 623.2M2258.7 633.7L2273.3 628.9M2295.2 633L2280.4 637.4M2296.9 639.3L2282 643.1M2261.2 642.5L2276.2 638.6M2263 648.8L2277.8 644.3M2299.5 648.8L2284.7 653M2301.2 655.2L2286.2 658.7M2265.4 657.7L2280.4 654.1M2267 664.1L2281.9 659.8M2303.6 664.8L2288.6 668.6M2305.1 671.2L2290 674.4M2269.2 672.8L2284.3 669.6M2270.7 679.3L2285.7 675.4M2307.2 681.1L2292.1 684.4M2308.5 687.6L2293.3 690.2M2272.6 687.9L2287.8 685.3M2273.9 694.4L2289 691.1M2310.3 697.4L2295.1 700.3M2311.4 703.9L2296.1 706.1M2275.5 703.3L2290.8 701M2276.6 709.8L2291.8 706.9M2312.9 713.7L2297.6 716.2M2313.8 720.2L2298.5 722.1M2277.9 718.7L2293.3 716.9M2278.9 725.2L2294.1 722.7M2315.1 730L2299.8 732.2M2315.9 736.5L2300.5 738.1M2280.1 734.3L2295.5 732.8M2280.9 740.9L2296.2 738.6M2317 746.3L2301.7 748.2M2317.7 752.8L2302.3 754.1M2281.9 750L2297.3 748.7M2282.6 756.5L2298 754.6M2318.7 762.9L2303.3 764.3M2319.1 769.5L2303.7 770.2M2283.4 765.4L2298.9 764.6M2283.9 772L2299.3 770.6M2319.6 779.9L2304.1 780.5M2319.7 786.5L2304.2 786.4M2284.3 780.5L2299.7 780.6M2284.4 787.1L2299.8 786.5M2319.7 796.5L2304.2 796.6M2319.6 803.1L2304.2 802.6M2284.4 796.1L2299.8 796.6M2284.3 802.7L2299.8 802.5M2319.4 812.9L2304 812.8M2319.2 819.5L2303.8 818.7M2284.1 811.8L2299.6 812.6M2283.9 818.4L2299.4 818.6M2318.8 829.4L2303.4 828.9M2318.5 836L2303 834.8M2283.6 827.5L2299 828.7M2283.2 834.1L2298.7 834.6M2317.8 845.9L2302.4 845M2317.3 852.4L2301.9 850.9M2282.6 843.2L2298 844.7M2282.1 849.8L2297.5 850.6M2316.4 862.3L2301 861.1M2315.8 868.8L2300.4 867M2281.3 858.8L2296.6 860.7M2280.6 865.4L2296.1 866.6M2314.8 878.5L2299.4 877.1M2314.1 885.1L2298.8 883M2279.7 874.6L2295 876.6M2279 881.2L2294.4 882.6M2312.9 894.8L2297.6 893.2M2312.1 901.4L2296.8 899M2277.9 890.3L2293.2 892.6M2277.1 896.8L2292.4 898.5M2310.7 911.2L2295.4 909.1M2309.7 917.7L2294.4 915M2275.8 905.8L2291 908.5M2274.8 912.3L2290.1 914.3M2307.8 928L2292.6 925.1M2306.5 934.4L2291.4 930.9M2273.3 920.7L2288.3 924.2M2271.9 927.2L2287.1 930M2304.1 944.6L2289.1 940.9M2302.4 951L2287.5 946.7M2270 935.5L2284.8 939.8M2268.3 941.9L2283.3 945.5M2299.4 960.9L2284.6 956.5M2297.4 967.2L2282.8 962.2M2265.8 950.1L2280.4 955.2M2263.8 956.4L2278.6 960.8M2294.2 976.6L2279.5 971.8M2292.1 982.8L2277.6 977.4M2260.9 965L2275.4 970.4M2258.7 971.2L2273.4 976M2288.8 992.1L2274.2 987M2286.5 998.3L2272.1 992.6M2255.7 979.8L2270.1 985.5M2253.4 986L2268 991.1M2282.9 1007.6L2268.4 1002.1M2280.4 1013.7L2266.2 1007.6M2250.1 994.4L2264.3 1000.5M2247.7 1000.5L2262.1 1006M2276.6 1022.9L2262.3 1017.1M2274 1028.9L2259.9 1022.5M2244.2 1008.9L2258.2 1015.3M2241.6 1015L2255.9 1020.8M2270.1 1037.9L2255.8 1031.8M2267.4 1043.9L2253.4 1037.3M2237.9 1023.4L2251.8 1030M2235.2 1029.4L2249.4 1035.5M2263.2 1052.9L2249.1 1046.5M2260.3 1058.9L2246.5 1051.9M2231.4 1037.6L2245.1 1044.6M2228.5 1043.6L2242.6 1050M2256 1067.6L2242 1061M2253.1 1073.5L2239.4 1066.3M2224.4 1051.9L2238.1 1059M2221.5 1057.8L2235.5 1064.4M2248.8 1082.1L2234.8 1075.4M2245.8 1088L2232.1 1080.7M2217.3 1066.1L2230.9 1073.4M2214.3 1072L2228.2 1078.7M2241.6 1096.3L2227.6 1089.7M2238.6 1102.2L2224.9 1095.1M2210 1080.6L2223.6 1087.8M2207 1086.5L2221 1093.1M2234.7 1110.5L2220.6 1104.2M2231.9 1116.4L2218.1 1109.6M2202.8 1095.4L2216.6 1102.3M2200 1101.4L2214.1 1107.7M2227.4 1125.7L2213.5 1118.8M2224.3 1131.5L2210.8 1124M2196.1 1109.2L2209.7 1116.7M2193.1 1115.1L2206.9 1122M2219.2 1140.5L2205.8 1133M2215.9 1146.2L2202.7 1138.1M2188.8 1122.6L2202 1130.7M2185.5 1128.3L2199 1135.8M2211.4 1154.1L2197.7 1146.9M2208.2 1159.9L2194.9 1152M2180.6 1136.9L2193.9 1144.7M2177.4 1142.6L2191 1149.9M2203.5 1168.3L2189.9 1160.9M2200.2 1174L2186.9 1166.1M2172.8 1150.8L2186.1 1158.7M2169.5 1156.5L2183.1 1163.9M2195.1 1182.6L2181.7 1174.9M2191.7 1188.2L2178.7 1179.9M2165 1164.3L2178 1172.6M2161.5 1169.9L2174.9 1177.6M2186.1 1196.9L2173.1 1188.5M2182.4 1202.4L2169.8 1193.5M2156.8 1177.2L2169.5 1186.1M2153.1 1182.6L2166.1 1191M2176 1211L2163.7 1201.8M2172 1216.2L2160 1206.4M2148.2 1189.3L2160.2 1199.1M2144.2 1194.5L2156.5 1203.7M2164.5 1224.7L2153.2 1214.2M2159.9 1229.5L2149 1218.5M2139.1 1200.2L2150 1211.2M2134.5 1205L2145.9 1215.5M2152.4 1236.9L2141.7 1225.7M2147.5 1241.3L2137.3 1229.7M2128.5 1210.9L2138.7 1222.5M2123.6 1215.4L2134.3 1226.5M2139.8 1248.2L2129.6 1236.5M2134.7 1252.4L2125.1 1240.3M2117.2 1221.1L2126.8 1233.1M2112.1 1225.3L2122.2 1236.9M2126.8 1258.8L2117.1 1246.7M2121.6 1262.8L2112.4 1250.4M2105.2 1230.8L2114.4 1243.3M2100 1234.9L2109.7 1246.9M2113.6 1268.8L2104.2 1256.5M2108.3 1272.7L2099.4 1260M2092.8 1240.3L2101.7 1253M2087.5 1244.2L2096.9 1256.5M2100.3 1278.4L2091.2 1265.9M2094.8 1282.2L2086.3 1269.3M2080.1 1249.5L2088.6 1262.3M2074.7 1253.2L2083.8 1265.7M2086.5 1287.9L2077.8 1275.1M2080.9 1291.5L2072.9 1278.3M2067.4 1258.3L2075.5 1271.4M2061.8 1261.8L2070.5 1274.7M2072.2 1296.9L2064.1 1283.7M2066.5 1300.2L2059 1286.7M2054.4 1266.4L2061.9 1279.9M2048.7 1269.8L2056.8 1282.9M2057.9 1305.1L2050.2 1291.8M2052.2 1308.3L2045 1294.7M2040.8 1274.3L2048 1288M2035 1277.5L2042.8 1290.8M2043.5 1313L2036 1299.5M2037.7 1316.1L2030.8 1302.3M2027 1281.8L2033.9 1295.6M2021.2 1284.9L2028.7 1298.4M2029.2 1320.6L2021.7 1307M2023.3 1323.6L2016.5 1309.8M2012.9 1289.3L2019.7 1303.1M2007 1292.3L2014.4 1305.9M2015 1328L2007.5 1314.4M2009.2 1331L2002.2 1317.2M1998.5 1296.7L2005.4 1310.6M1992.7 1299.8L2000.2 1313.3M2000.9 1335.5L1993.3 1322M1995.1 1338.6L1988.1 1324.8M1984.2 1304.4L1991.2 1318.2M1978.4 1307.5L1986 1321M1939.7 1362.7L1934.3 1348.2M1933.5 1364.9L1928.7 1350.2M1927.9 1329.4L1932.8 1344.1M1921.7 1331.6L1927.2 1346.1M1924.9 1368L1919.2 1353.6M1918.7 1370.3L1913.6 1355.7M1912.5 1335L1917.6 1349.5M1906.3 1337.3L1912.1 1351.6M1910 1373.7L1904.1 1359.4M1903.8 1376.1L1898.6 1361.5M1897.3 1340.7L1902.6 1355.3M1891.2 1343.1L1897 1357.4M1894.6 1379.5L1889.1 1365.1M1888.4 1381.8L1883.5 1367.1M1882.6 1346.3L1887.6 1361M1876.4 1348.6L1882 1363M1879 1385L1873.8 1370.5M1872.7 1387.1L1868.2 1372.3M1867.9 1351.5L1872.4 1366.3M1861.6 1353.6L1866.8 1368.2M1863.3 1390.1L1858.5 1375.4M1857 1392L1852.8 1377.2M1852.9 1356.3L1857.2 1371.2M1846.6 1358.3L1851.5 1372.9M1847.7 1394.8L1843 1380.1M1841.4 1396.7L1837.4 1381.8M1837.7 1361L1841.8 1375.9M1831.4 1362.8L1836.1 1377.6M1832.2 1399.4L1827.6 1384.6M1825.9 1401.2L1821.9 1386.3M1822.4 1365.5L1826.4 1380.4M1816.1 1367.3L1820.7 1382M1816.6 1403.8L1812.1 1389M1810.2 1405.6L1806.4 1390.6M1807.1 1369.8L1810.9 1384.8M1800.7 1371.6L1805.2 1386.4M1801 1408.2L1796.6 1393.4M1794.6 1409.9L1790.9 1394.9M1791.7 1374.1L1795.4 1389.1M1785.3 1375.9L1789.7 1390.7M1785.4 1412.4L1781.1 1397.6M1779 1414.1L1775.3 1399.1M1776.3 1378.3L1779.9 1393.3M1769.9 1380L1774.2 1394.8M1769.8 1416.5L1765.5 1401.7M1763.4 1418.2L1759.7 1403.2M1760.7 1382.4L1764.4 1397.4M1754.4 1384.1L1758.6 1398.9M1754.3 1420.6L1749.9 1405.8M1747.9 1422.3L1744.2 1407.3M1745.1 1386.5L1748.8 1401.5M1738.8 1388.2L1743.1 1403.1M1738.7 1424.8L1734.4 1409.9M1732.3 1426.5L1728.6 1411.5M1729.7 1390.7L1733.3 1405.7M1723.3 1392.3L1727.5 1407.2M1722.9 1428.9L1718.8 1414M1716.5 1430.5L1713.1 1415.5M1714.2 1394.7L1717.7 1409.7M1707.8 1396.3L1712 1411.2M1707.1 1432.9L1703.2 1417.9M1700.7 1434.4L1697.4 1419.3M1698.8 1398.5L1702.1 1413.6M1692.4 1400.1L1696.4 1415M1691 1436.6L1687.5 1421.6M1684.6 1438L1681.7 1422.9M1683.6 1402.1L1686.5 1417.3M1677.1 1403.5L1680.7 1418.6M1674.9 1440L1671.7 1424.9M1668.4 1441.3L1665.8 1426M1668.3 1405.4L1670.8 1420.6M1661.8 1406.6L1665 1421.7M1658.5 1443L1655.8 1427.8M1652 1444L1649.9 1428.7M1653 1408.1L1655.1 1423.4M1646.4 1409.2L1649.2 1424.4M1642.1 1445.4L1639.8 1430.1M1635.5 1446.3L1633.9 1430.9M1637.6 1410.4L1639.2 1425.8M1631.1 1411.2L1633.3 1426.5M1625.7 1447.4L1623.8 1432.1M1619.2 1448.1L1617.9 1432.7M1622 1412.3L1623.3 1427.7M1615.4 1413L1617.4 1428.4M1609.5 1449.1L1607.7 1433.7M1602.9 1449.7L1601.8 1434.3M1606.2 1414L1607.3 1429.4M1599.7 1414.6L1601.4 1429.9M1593.3 1450.5L1591.7 1435.2M1586.7 1451.1L1585.8 1435.6M1590.4 1415.4L1591.3 1430.8M1583.8 1415.9L1585.4 1431.3M1577.1 1451.8L1575.6 1436.4M1570.5 1452.3L1569.7 1436.8M1574.5 1416.6L1575.3 1432M1567.9 1417.1L1569.4 1432.5M1560.9 1452.9L1559.6 1437.5M1554.4 1453.4L1553.6 1438M1558.5 1417.7L1559.3 1433.2M1551.9 1418.2L1553.3 1433.6M1544.7 1454L1543.5 1438.6M1538.1 1454.4L1537.5 1439M1542.7 1418.8L1543.2 1434.2M1536.1 1419.2L1537.3 1434.6M1528.2 1454.9L1527.4 1439.4M1521.6 1455.1L1521.4 1439.6M1527 1419.6L1527.2 1435M1520.4 1419.8L1521.3 1435.2M1511.8 1455.3L1511.2 1439.9M1505.2 1455.4L1505.3 1440M1511.3 1420L1511.2 1435.5M1504.7 1420.1L1505.2 1435.6M1495.5 1455.5L1495.1 1440M1488.9 1455.5L1489.2 1440.1M1495.4 1420.2L1495.1 1435.6M1488.8 1420.2L1489.2 1435.7M1479.5 1455.6L1479 1440.1M1472.9 1455.6L1473.1 1440.2M1479.2 1420.3L1479 1435.7M1472.6 1420.3L1473.1 1435.8M1463.4 1455.7L1463 1440.3M1456.8 1455.8L1457 1440.3M1463.2 1420.4L1462.9 1435.9M1456.6 1420.5L1457 1435.9M1447.2 1455.8L1446.9 1440.4M1440.6 1455.8L1440.9 1440.4M1447.1 1420.5L1446.8 1436M1440.5 1420.5L1440.9 1436M1431.1 1455.8L1430.8 1440.4M1424.5 1455.8L1424.8 1440.4M1431.1 1420.5L1430.8 1436M1424.5 1420.5L1424.8 1436M1415 1455.8L1414.7 1440.4M1408.4 1455.8L1408.7 1440.4M1415 1420.5L1414.7 1436M1408.4 1420.5L1408.7 1436M1398.9 1455.8L1398.6 1440.3M1392.3 1455.8L1392.6 1440.3M1399 1420.5L1398.6 1435.9M1392.4 1420.5L1392.7 1435.9M1382.8 1455.7L1382.5 1440.3M1376.2 1455.7L1376.5 1440.3M1382.9 1420.4L1382.5 1435.9M1376.3 1420.4L1376.6 1435.9M1366.7 1455.7L1366.4 1440.2M1360.1 1455.6L1360.5 1440.2M1366.8 1420.4L1366.4 1435.8M1360.2 1420.3L1360.5 1435.8M1350.8 1455.7L1350.3 1440.2M1344.2 1455.7L1344.4 1440.3M1350.5 1420.4L1350.3 1435.8M1343.9 1420.4L1344.4 1435.9M1334.8 1455.8L1334.3 1440.4M1328.2 1455.9L1328.3 1440.5M1334.3 1420.6L1334.2 1436M1327.7 1420.7L1328.3 1436.1M1318.7 1456.1L1318.2 1440.6M1312.1 1456.2L1312.2 1440.7M1318.2 1420.8L1318.1 1436.2M1311.6 1420.9L1312.2 1436.3M1302.4 1456.2L1302.1 1440.8M1295.8 1456.3L1296.1 1440.8M1302.4 1420.9L1302.1 1436.4M1295.8 1421L1296.1 1436.4M1286 1456.2L1285.9 1440.7M1279.4 1456L1280 1440.6M1286.6 1420.9L1286 1436.3M1280 1420.7L1280.1 1436.2M1269.3 1455.7L1269.8 1440.3M1262.7 1455.4L1263.8 1440M1271.1 1420.5L1270 1435.9M1264.5 1420.1L1264.1 1435.6M1252.6 1454.7L1253.6 1439.3M1246.1 1454.1L1247.7 1438.8M1255.7 1419.5L1254 1434.9M1249.1 1418.9L1248.1 1434.4M1236.2 1453.1L1237.6 1437.7M1229.6 1452.4L1231.7 1437.1M1240.1 1418L1238.1 1433.4M1233.5 1417.3L1232.2 1432.7M1219.8 1451.1L1221.5 1435.8M1213.2 1450.2L1215.7 1435M1224.6 1416.2L1222.1 1431.4M1218 1415.3L1216.3 1430.6M1203.5 1448.8L1205.6 1433.5M1197 1447.8L1199.7 1432.6M1209 1413.9L1206.3 1429.1M1202.5 1412.9L1200.4 1428.2M1187.3 1446.2L1189.7 1430.9M1180.8 1445L1183.8 1429.9M1193.4 1411.4L1190.4 1426.6M1186.9 1410.3L1184.6 1425.5M1171.3 1443.3L1173.8 1428.1M1164.8 1442.1L1168 1427M1177.8 1408.6L1174.6 1423.7M1171.3 1407.4L1168.8 1422.6M1155.3 1440.3L1158 1425M1148.8 1439L1152.1 1423.9M1162.1 1405.6L1158.8 1420.7M1155.7 1404.3L1153 1419.6M1139.3 1437.1L1142.2 1421.9M1132.8 1435.7L1136.4 1420.6M1146.6 1402.5L1143.1 1417.6M1140.2 1401.2L1137.3 1416.3M1123.2 1433.5L1126.4 1418.4M1116.8 1432L1120.6 1417.1M1131.3 1399.2L1127.4 1414.1M1124.8 1397.7L1121.6 1412.8M1107.3 1429.7L1110.7 1414.6M1100.9 1428.1L1105 1413.2M1115.9 1395.5L1111.8 1410.4M1109.5 1393.9L1106 1408.9M1091.5 1425.7L1095.1 1410.6M1085.1 1424L1089.4 1409.1M1100.5 1391.5L1096.2 1406.4M1094.1 1389.9L1090.5 1404.9M1075.9 1421.5L1079.6 1406.5M1069.5 1419.8L1073.8 1405M1085 1387.4L1080.7 1402.3M1078.6 1385.7L1074.9 1400.8M1060.4 1417.4L1064 1402.4M1054 1415.7L1058.3 1400.9M1069.4 1383.3L1065.1 1398.1M1063 1381.6L1059.4 1396.6M1045 1413.4L1048.5 1398.4M1038.6 1411.8L1042.7 1396.9M1053.6 1379.2L1049.5 1394.1M1047.2 1377.6L1043.8 1392.6M1029.6 1409.6L1032.9 1394.5M1023.2 1408.1L1027.1 1393.1M1037.8 1375.3L1033.9 1390.2M1031.4 1373.7L1028.1 1388.8M1014.1 1405.9L1017.2 1390.8M1007.6 1404.4L1011.4 1389.5M1022 1371.5L1018.2 1386.5M1015.6 1370.1L1012.4 1385.2M998.4 1402.3L1001.6 1387.2M992 1400.8L995.8 1385.9M1006.3 1367.9L1002.5 1382.9M999.9 1366.4L996.8 1381.6M982.8 1398.7L985.9 1383.6M976.3 1397.3L980.1 1382.3M990.6 1364.3L986.9 1379.3M984.2 1362.8L981.1 1378M967.1 1395.1L970.2 1380M960.6 1393.7L964.4 1378.7M975 1360.7L971.2 1375.7M968.5 1359.3L965.4 1374.4M951.3 1391.5L954.5 1376.4M944.9 1390L948.7 1375M959.3 1357.1L955.5 1372.1M952.9 1355.6L949.7 1370.8M935.5 1387.8L938.8 1372.7M929.1 1386.3L933.1 1371.3M943.8 1353.5L939.9 1368.4M937.4 1351.9L934.1 1367M919.5 1383.9L923.2 1368.8M913.1 1382.2L917.4 1367.3M928.6 1349.7L924.3 1364.6M922.2 1348.1L918.5 1363.1M858.7 1364.4L862 1349.3M852.2 1362.9L856.2 1347.9M866.9 1330.1L863 1345.1M860.5 1328.6L857.2 1343.7M842.7 1360.5L846.3 1345.5M836.3 1358.8L840.5 1344M851.7 1326.4L847.4 1341.2M845.3 1324.7L841.7 1339.7M826.1 1355.8L830.7 1341.1M819.8 1353.7L825 1339.2M837.3 1322.4L832.1 1336.9M831.1 1320.3L826.4 1335M809.6 1349.9L815.4 1335.6M803.5 1347.3L809.9 1333.2M823.5 1317.5L817.1 1331.5M817.4 1314.9L811.6 1329.2M793.7 1342.7L800.6 1328.8M787.9 1339.6L795.3 1326.1M810.1 1311.4L802.6 1324.9M804.2 1308.3L797.4 1322.2M778.8 1334.5L786.4 1321M773.1 1331.1L781.3 1318M796.8 1304.1L788.6 1317.2M791.1 1300.7L783.5 1314.2M764.6 1325.8L772.6 1312.6M759 1322.3L767.6 1309.4M783.5 1296L774.9 1308.9M777.9 1292.5L769.9 1305.7M750.8 1316.9L759 1303.9M745.3 1313.3L754.1 1300.6M770.3 1287.5L761.5 1300.2M764.8 1283.9L756.5 1296.9M737.1 1307.8L745.6 1294.9M731.7 1304L740.8 1291.5M757.2 1278.7L748.1 1291.2M751.8 1275L743.3 1287.9M723.7 1298.4L732.4 1285.7M718.4 1294.6L727.6 1282.2M744.2 1269.7L735 1282.1M738.8 1265.8L730.1 1278.6M710.5 1289L719.3 1276.3M705.1 1285.1L714.5 1272.8M731.3 1260.4L721.9 1272.7M725.9 1256.5L717.1 1269.2M697.4 1279.3L706.3 1266.7M692.1 1275.4L701.6 1263.2M718.4 1251L708.9 1263.2M713.1 1247.1L704.2 1259.7M684.3 1269.5L693.4 1257.1M679.1 1265.5L688.7 1253.4M705.8 1241.5L696.1 1253.6M700.5 1237.5L691.4 1250M671.3 1259.5L680.7 1247.2M666.1 1255.3L676 1243.5M693.3 1231.9L683.4 1243.8M688.2 1227.8L678.8 1240M658.4 1249L668.1 1237M653.4 1244.7L663.6 1233.1M681.2 1222.1L671 1233.6M676.2 1217.8L666.5 1229.8M645.9 1238.2L655.9 1226.4M641 1233.8L651.5 1222.5M669.4 1211.9L658.9 1223.2M664.5 1207.5L654.4 1219.2M633.6 1227L644 1215.6M628.8 1222.5L639.7 1211.5M657.8 1201.4L647 1212.4M653 1196.8L642.7 1208.3M621.7 1215.7L632.3 1204.5M617 1211.1L628.1 1200.3M646.4 1190.5L635.4 1201.3M641.7 1185.9L631.1 1197.2M610.1 1204.3L620.8 1193.1M605.5 1199.6L616.6 1188.9M635.1 1179.4L623.9 1190M630.5 1174.7L619.8 1185.8M598.7 1192.8L609.5 1181.7M594.1 1188.1L605.3 1177.5M623.9 1168L612.6 1178.6M619.2 1163.3L608.5 1174.4M587.3 1181.2L598.2 1170.2M582.7 1176.4L594.1 1165.9M612.7 1156.7L601.4 1167.1M608.1 1151.9L597.3 1162.9M575.9 1169.2L587.1 1158.5M571.4 1164.3L583 1154.1M601.9 1145.3L590.3 1155.5M597.4 1140.5L586.3 1151.2M564.6 1156.6L576.3 1146.5M560.4 1151.6L572.4 1141.9M591.7 1134L579.6 1143.6M587.4 1128.9L575.8 1139.1M553.9 1143.4L566 1133.9M549.9 1138.1L562.5 1129.1M582.1 1122.3L569.6 1131.3M578.2 1117L566 1126.5M543.9 1129.7L556.5 1120.8M540.2 1124.2L553.2 1115.8M573.2 1110L560.2 1118.3M569.5 1104.5L556.9 1113.4M534.6 1115L547.8 1107M531.3 1109.2L544.9 1101.9M565.3 1097.5L551.7 1104.9M562 1091.8L548.7 1099.7M526.5 1100.3L540 1092.9M523.4 1094.4L537.3 1087.6M557.8 1084L543.9 1090.9M554.7 1078.2L541.2 1085.6M519 1085.7L532.7 1078.5M516.1 1079.7L530.1 1073.2M550.6 1070L536.6 1076.6M547.7 1064.1L534 1071.2M511.9 1071.2L525.6 1064.1M509 1065.3L523 1058.8M543.5 1055.5L529.5 1062.1M540.6 1049.6L526.9 1056.8M504.8 1057.1L518.4 1049.7M501.8 1051.3L515.6 1044.5M536.2 1040.9L522.3 1047.7M533.1 1035.1L519.5 1042.4M497.4 1042.8L511 1035.5M494.4 1037L508.2 1030.2M528.7 1026.6L514.9 1033.4M525.7 1020.8L512.1 1028.2M489.9 1028.1L503.6 1021.1M487 1022.2L501 1015.7M521.6 1012.7L507.6 1019.1M518.7 1006.7L505 1013.8M482.7 1013L496.7 1006.5M480 1007L494.3 1001M515 998.8L500.7 1004.7M512.3 992.7L498.3 999.3M476.1 997.4L490.4 991.5M473.8 991.2L488.3 986M509.1 984.7L494.6 989.9M506.7 978.5L492.4 984.4M470.3 981.7L484.8 976.4M468.2 975.5L482.9 970.8M503.7 970.2L489 974.9M501.6 964L487.1 969.3M465.1 965.9L479.8 961M463.1 959.6L478 955.4M498.8 955.5L484 959.7M496.9 949.2L482.2 954.1M460.3 950L475.1 945.5M458.6 943.6L473.6 939.8M494.4 940.6L479.4 944.4M492.6 934.2L477.8 938.6M456 934L471 929.9M454.5 927.6L469.5 924.2M490.3 925.5L475.2 928.9M488.7 919.1L473.8 923.1M452.2 917.9L467.2 914.2M450.8 911.5L465.9 908.5M486.7 910.3L471.5 913.3M485.2 903.8L470.2 907.5M448.7 901.7L463.8 898.5M447.5 895.2L462.7 892.6M483.4 895L468.2 897.6M482.1 888.5L467 891.8M445.7 885.6L460.9 882.6M444.6 879.1L459.9 876.7M480.5 879.5L465.2 881.8M479.4 873L464.2 876M443 869.4L458.2 866.7M442 862.8L457.3 860.8M477.9 864L462.6 866M476.9 857.5L461.7 860.1M440.6 853.1L455.9 850.7M439.7 846.6L455.1 844.8M475.6 848.4L460.2 850.1M474.7 841.9L459.4 844.3M438.5 836.7L453.9 834.7M437.8 830.2L453.2 828.8M473.6 832.9L458.2 834.2M472.9 826.3L457.6 828.3M436.8 820.5L452.2 818.7M436.2 813.9L451.6 812.8M472 817.1L456.6 818.3M471.3 810.6L456 812.4M435.4 804.2L450.8 802.6M434.9 797.6L450.3 796.7M470.6 801.4L455.1 802.3M470.1 794.8L454.7 796.4M434.2 787.8L449.6 786.5M433.8 781.2L449.2 780.6M469.4 785.7L454 786.3M469 779.1L453.6 780.3M433.3 771.3L448.7 770.4M433 764.7L448.5 764.5M468.6 770L453.1 770.3M468.3 763.4L452.9 764.3M432.8 754.6L448.3 754.3M432.8 748L448.3 748.3M468.1 754.6L452.7 754.3M468.1 748L452.7 748.3M433.1 737.7L448.5 738.1M433.4 731.1L448.8 732.1M468.3 739.3L452.9 738.3M468.6 732.7L453.2 732.3M434 721.2L449.4 721.9M434.5 714.6L449.9 716M469.2 723.7L453.8 722.3M469.7 717.1L454.2 716.3M435.3 704.8L450.7 705.9M435.9 698.2L451.2 699.9M470.4 708L455.1 706.3M471 701.4L455.6 700.3M436.9 688.4L452.3 689.8M437.6 681.9L452.9 683.9M472 692.3L456.6 690.3M472.7 685.8L457.3 684.4M438.8 672.1L454.2 673.8M439.7 665.5L455 667.9M473.8 676.8L458.6 674.4M474.7 670.2L459.4 668.5M441.2 655.7L456.5 657.8M442.2 649.2L457.4 651.9M476.1 661.3L460.8 658.5M477.1 654.7L461.8 652.6M443.9 639.5L459.2 641.9M445.1 633L460.2 636.1M478.6 645.8L463.5 642.7M479.8 639.3L464.6 636.8M446.9 623.4L462.1 626M448.2 616.9L463.3 620.2M481.5 630.2L466.4 626.9M482.8 623.7L467.6 621.1M450.2 607.3L465.3 610.2M451.6 600.9L466.6 604.4M484.7 614.7L469.6 611.2M486.1 608.3L470.9 605.4M453.8 591.2L468.9 594.5M455.3 584.8L470.2 588.7M488.1 599.4L473.1 595.5M489.6 593L474.5 589.7M457.7 575.2L472.7 578.8M459.4 568.8L474.2 573.1M491.8 584.2L477 579.9M493.5 577.8L478.5 574.2M462 559.3L477 563.2M463.9 552.9L478.6 557.5M495.9 569.1L481.2 564.5M497.8 562.7L482.8 558.8M466.7 543.5L481.6 547.8M468.7 537.2L483.3 542.1M500.4 554L485.8 549.1M502.4 547.7L487.5 543.4M471.7 527.8L486.5 532.4M473.9 521.5L488.4 526.8M505.2 539.1L490.7 533.8M507.3 532.8L492.6 528.2M477.1 512.2L491.8 517.2M479.4 506L493.8 511.6M510.3 524.2L495.9 518.7M512.6 518L497.9 513.1M482.9 496.7L497.4 502M485.3 490.5L499.6 496.5M515.7 509.6L501.5 503.6M518.2 503.5L503.7 498.1M489.3 481.1L503.5 487M491.9 475L505.9 481.6M521.5 495.4L507.5 488.8M524.2 489.4L509.9 483.4M523.6 422L536.1 431.1M527.6 416.8L539.7 426.4M551.7 443.5L539.6 433.8M555.7 438.2L543.2 429.1M533.4 409.3L545.9 418.4M537.5 404L549.5 413.7M561.5 430.7L549.4 421.1M565.5 425.5L553 416.4M542.9 396.8L555.6 405.6M546.8 391.4L559.1 400.8M571.4 417.6L559.1 408.2M575.3 412.2L562.6 403.4M552.2 383.9L565 392.6M556 378.5L568.4 387.7M580.9 404.4L568.6 395.1M584.8 399L572 390.3M561.5 370.8L574.3 379.5M565.4 365.4L577.7 374.6M590.3 391.3L577.9 382M594.1 385.9L581.3 377.2M571 357.5L583.7 366.4M574.9 352.2L587.2 361.6M599.5 378.3L587.2 369M603.4 373L590.7 364.2M580.7 344.3L593.2 353.4M584.7 339.1L596.8 348.6M608.9 365.6L596.8 356M612.9 360.3L600.3 351.3M590.9 331.1L603.1 340.6M595 326L606.8 335.9M618.3 353.3L606.5 343.3M622.5 348.2L610.3 338.7M600.8 318.8L613.2 328M604.9 313.6L616.8 323.4M628.6 340.6L616.6 330.8M632.6 335.4L620.3 326.1M611 305.8L623.1 315.4M615.2 300.7L626.9 310.8M638.3 328.2L626.5 318.2M642.5 323.1L630.3 313.6M622.1 292.7L633.6 303M626.7 287.9L637.7 298.7M647.9 316.8L636.9 306M652.4 312L640.9 301.7M634.3 280.2L645 291.4M639.1 275.8L649.3 287.3M658.2 306.2L648 294.6M663.1 301.7L652.3 290.6M647 268.9L657.1 280.6M652.1 264.7L661.7 276.8M669.4 296.1L659.9 284M674.5 291.9L664.5 280.2M660 258.4L669.7 270.4M665.2 254.4L674.4 266.8M681.5 286.4L672.3 273.9M686.7 282.3L677.1 270.3M673.1 248.4L682.5 260.7M678.5 244.5L687.3 257.2M694 276.9L685.1 264.2M699.3 273L689.9 260.7M686.4 238.8L695.6 251.2M691.8 235L700.5 247.8M706.8 267.6L698.1 254.8M712.2 263.8L703 251.4M699.8 229.5L708.8 242M705.2 225.7L713.7 238.6M719.8 258.5L711.3 245.6M725.2 254.8L716.2 242.2M713.2 220.3L722.1 232.9M718.7 216.6L727 229.6M732.9 249.6L724.6 236.6M738.4 245.9L729.5 233.2M726.7 211.2L735.5 223.9M732.2 207.6L740.4 220.7M746.1 240.7L737.9 227.6M751.7 237.1L742.9 224.3M740.3 202.3L749 215.1M745.8 198.7L753.9 211.9M759.5 231.9L751.3 218.8M765 228.3L756.3 215.6M753.9 193.5L762.5 206.4M759.5 190L767.5 203.2M772.9 223.3L764.8 210.1M778.4 219.7L769.9 206.9M767.8 184.8L776.1 197.8M773.4 181.3L781.2 194.7M786.2 214.9L778.4 201.5M791.8 211.5L783.5 198.4M781.8 176.3L789.9 189.4M787.5 172.9L795 186.4M799.8 206.7L792.2 193.2M805.4 203.3L797.3 190.2M795.8 168.1L803.8 181.3M801.5 164.8L809 178.3M813.5 198.6L806 185.1M819.2 195.3L811.2 182.1M809.9 160L817.8 173.2M815.6 156.7L822.9 170.3M827.3 190.6L819.9 177.1M833 187.4L825.1 174.1M824 152L831.8 165.3M829.7 148.8L837 162.4M841.2 182.8L833.9 169.1M846.9 179.6L839.1 166.3M838.1 144.1L845.9 157.5M843.9 140.9L851.1 154.6M855.2 175L848 161.3M860.9 171.8L853.2 158.5M852.3 136.3L860 149.8M858.1 133.2L865.2 146.9M869.2 167.4L862.1 153.6M875 164.2L867.3 150.8M866.4 128.6L874.1 142.1M872.2 125.5L879.3 139.2M883.3 159.6L876.2 145.9M889.1 156.5L881.4 143.1M884.7 120.8L889.3 135.6M891 119L895 133.9M894.5 154.7L890.5 139.8M900.9 152.9L896.2 138.1M900.2 116.2L904.7 131M906.6 114.4L910.5 129.4M909.8 150.2L905.9 135.2M916.1 148.4L911.6 133.6M916 111.9L920.3 126.7M922.4 110.2L926 125.2M925.1 146L921.4 131M931.4 144.3L927.1 129.4M931.7 107.7L935.9 122.6M938.1 106.1L941.6 121.1M940.5 141.9L936.9 126.9M946.9 140.3L942.7 125.4M947.3 103.7L951.4 118.6M953.7 102.1L957.2 117.2M956 138L952.5 122.9M962.4 136.3L958.3 121.4M963 99.8L967.1 114.7M969.4 98.2L972.8 113.3M971.5 134L968.1 119M977.9 132.4L973.9 117.5M978.6 95.9L982.7 110.8M985 94.3L988.4 109.4M987.1 130.2L983.7 115.1M993.5 128.6L989.5 113.6M994.4 92L998.3 107M1000.8 90.5L1004.1 105.6M1002.6 126.3L999.3 111.2M1009 124.8L1005.1 109.9M1010.2 88.3L1014 103.3M1016.6 86.8L1019.8 101.9M1018.1 122.7L1015 107.5M1024.6 121.2L1020.8 106.2M1073.8 74.9L1077 90M1080.3 73.6L1082.9 88.9M1080.5 109.5L1077.9 94.3M1086.9 108.3L1083.7 93.2M1089 71.8L1092.7 86.8M1095.4 70.4L1098.5 85.5M1096.8 106.2L1093.7 91.1M1103.2 104.8L1099.5 89.8M1104.3 68.2L1108.3 83.1M1110.7 66.6L1114.1 81.7M1112.8 102.5L1109.4 87.4M1119.2 100.9L1115.2 86M1119.9 64.3L1124 79.2M1126.3 62.7L1129.7 77.8M1128.4 98.6L1125 83.5M1134.8 97L1130.8 82.1M1135.8 60.4L1139.6 75.4M1142.2 58.9L1145.4 74.1M1143.8 94.8L1140.6 79.7M1150.2 93.3L1146.4 78.4M1152 56.8L1155.4 71.9M1158.5 55.5L1161.2 70.7M1159 91.4L1156.2 76.2M1165.4 90.1L1162.1 75M1168.5 53.7L1171.3 68.9M1175 52.6L1177.1 68M1174.1 88.5L1172 73.2M1180.6 87.5L1177.8 72.3M1185 51.3L1187.3 66.5M1191.5 50.4L1193.2 65.8M1189.4 86.3L1187.8 70.9M1196 85.4L1193.7 70.2M1201.4 49.3L1203.3 64.7M1208 48.7L1209.2 64.1M1205 84.5L1203.7 69.1M1211.5 83.8L1209.7 68.5M1217.8 47.8L1219.4 63.2M1224.3 47.3L1225.3 62.7M1220.6 83L1219.7 67.6M1227.2 82.4L1225.6 67.1M1234 46.5L1235.4 61.9M1240.6 46.1L1241.4 61.5M1236.5 81.8L1235.7 66.3M1243 81.3L1241.7 65.9M1250.2 45.5L1251.5 60.9M1256.8 45.1L1257.4 60.5M1252.4 80.7L1251.8 65.3M1259 80.3L1257.7 64.9M1266.5 44.6L1267.6 60M1273.1 44.2L1273.5 59.7M1268.2 79.8L1267.8 64.4M1274.8 79.5L1273.7 64.1M1282.8 43.8L1283.7 59.3M1289.4 43.6L1289.6 59.1M1284 79.1L1283.8 63.7M1290.6 78.9L1289.8 63.5M1299.2 43.4L1299.8 58.8M1305.8 43.3L1305.8 58.7M1299.8 78.7L1299.9 63.2M1306.4 78.6L1305.8 63.1M1315.6 43.2L1315.9 58.7M1322.2 43.2L1321.9 58.7M1315.6 78.5L1315.9 63.1M1322.2 78.5L1321.9 63.1" fill="none" stroke="#2a86a8" stroke-width="2.3" stroke-linecap="round"/><g fill="#69b5c4" stroke="#1f84a8" stroke-width="3.1"><circle cx="1335.4" cy="36.4" r="6.8"/><circle cx="1334.6" cy="85.6" r="6.8"/><circle cx="1351.5" cy="36.6" r="6.8"/><circle cx="1350.6" cy="85.9" r="6.8"/><circle cx="1367.8" cy="37" r="6.8"/><circle cx="1366.5" cy="86.3" r="6.8"/><circle cx="1384.2" cy="37.5" r="6.8"/><circle cx="1382.3" cy="86.8" r="6.8"/><circle cx="1400.5" cy="38.2" r="6.8"/><circle cx="1398.1" cy="87.4" r="6.8"/><circle cx="1417" cy="39.1" r="6.8"/><circle cx="1413.8" cy="88.3" r="6.8"/><circle cx="1433.5" cy="40.4" r="6.8"/><circle cx="1429.4" cy="89.5" r="6.8"/><circle cx="1450.1" cy="42" r="6.8"/><circle cx="1444.8" cy="91" r="6.8"/><circle cx="1466.4" cy="43.8" r="6.8"/><circle cx="1460.5" cy="92.7" r="6.8"/><circle cx="1482.7" cy="45.9" r="6.8"/><circle cx="1476.1" cy="94.7" r="6.8"/><circle cx="1498.9" cy="48.2" r="6.8"/><circle cx="1491.7" cy="96.9" r="6.8"/><circle cx="1515.2" cy="50.7" r="6.8"/><circle cx="1507.2" cy="99.4" r="6.8"/><circle cx="1531.4" cy="53.5" r="6.8"/><circle cx="1522.7" cy="102" r="6.8"/><circle cx="1547.5" cy="56.4" r="6.8"/><circle cx="1538.3" cy="104.9" r="6.8"/><circle cx="1563.5" cy="59.6" r="6.8"/><circle cx="1553.8" cy="107.9" r="6.8"/><circle cx="1579.5" cy="62.9" r="6.8"/><circle cx="1569.4" cy="111.1" r="6.8"/><circle cx="1595.4" cy="66.3" r="6.8"/><circle cx="1584.9" cy="114.4" r="6.8"/><circle cx="1611.4" cy="69.8" r="6.8"/><circle cx="1600.4" cy="117.9" r="6.8"/><circle cx="1627.2" cy="73.5" r="6.8"/><circle cx="1615.9" cy="121.5" r="6.8"/><circle cx="1643" cy="77.3" r="6.8"/><circle cx="1631.4" cy="125.2" r="6.8"/><circle cx="1658.9" cy="81.3" r="6.8"/><circle cx="1646.7" cy="129" r="6.8"/><circle cx="1674.7" cy="85.4" r="6.8"/><circle cx="1662" cy="133" r="6.8"/><circle cx="1690.5" cy="89.7" r="6.8"/><circle cx="1677.3" cy="137.1" r="6.8"/><circle cx="1706.2" cy="94.2" r="6.8"/><circle cx="1692.6" cy="141.4" r="6.8"/><circle cx="1721.8" cy="98.9" r="6.8"/><circle cx="1707.8" cy="145.8" r="6.8"/><circle cx="1737.4" cy="103.6" r="6.8"/><circle cx="1723" cy="150.4" r="6.8"/><circle cx="1752.9" cy="108.5" r="6.8"/><circle cx="1738.3" cy="155" r="6.8"/><circle cx="1768.3" cy="113.5" r="6.8"/><circle cx="1753.5" cy="159.8" r="6.8"/><circle cx="1783.8" cy="118.6" r="6.7"/><circle cx="1768.6" cy="164.6" r="6.7"/><circle cx="1799.2" cy="124" r="6.7"/><circle cx="1783.7" cy="169.5" r="6.7"/><circle cx="1814.5" cy="129.4" r="6.7"/><circle cx="1798.8" cy="174.6" r="6.7"/><circle cx="1829.9" cy="135.1" r="6.7"/><circle cx="1813.8" cy="179.7" r="6.7"/><circle cx="1845.2" cy="141.1" r="6.6"/><circle cx="1828.6" cy="184.9" r="6.6"/><circle cx="1860.4" cy="147.3" r="6.6"/><circle cx="1843.5" cy="190.3" r="6.6"/><circle cx="1875.4" cy="153.6" r="6.5"/><circle cx="1858.3" cy="195.8" r="6.5"/><circle cx="1890.4" cy="160.3" r="6.5"/><circle cx="1873" cy="201.5" r="6.5"/><circle cx="1905.4" cy="167.2" r="6.4"/><circle cx="1887.6" cy="207.3" r="6.4"/><circle cx="1920.2" cy="174.4" r="6.4"/><circle cx="1902.2" cy="213.4" r="6.4"/><circle cx="1934.9" cy="182" r="6.3"/><circle cx="1916.5" cy="219.7" r="6.3"/><circle cx="1949.5" cy="189.9" r="6.2"/><circle cx="1930.6" cy="226.3" r="6.2"/><circle cx="1963.9" cy="198.3" r="6.2"/><circle cx="1944.4" cy="233.2" r="6.2"/><circle cx="1978.2" cy="207.1" r="6.1"/><circle cx="1958" cy="240.6" r="6.1"/><circle cx="1992.3" cy="216.6" r="6"/><circle cx="1971.1" cy="248.4" r="6"/><circle cx="2005.8" cy="226.4" r="6"/><circle cx="1984" cy="256.8" r="6"/><circle cx="2019.1" cy="236.7" r="5.9"/><circle cx="1996.5" cy="265.8" r="5.9"/><circle cx="2031.9" cy="247.2" r="5.9"/><circle cx="2008.8" cy="275.3" r="5.9"/><circle cx="2044.5" cy="258" r="5.9"/><circle cx="2020.9" cy="285.3" r="5.9"/><circle cx="2056.7" cy="268.8" r="5.9"/><circle cx="2032.8" cy="295.7" r="5.9"/><circle cx="2069.1" cy="280" r="5.9"/><circle cx="2044.1" cy="306.3" r="5.9"/><circle cx="2081.2" cy="291.8" r="5.9"/><circle cx="2054.9" cy="317.2" r="5.9"/><circle cx="2092.7" cy="303.5" r="6"/><circle cx="2065.5" cy="328.8" r="6"/><circle cx="2104" cy="315.4" r="6"/><circle cx="2075.9" cy="340.7" r="6"/><circle cx="2115.1" cy="327.3" r="6.1"/><circle cx="2086.1" cy="352.9" r="6.1"/><circle cx="2126.1" cy="339.1" r="6.1"/><circle cx="2096.4" cy="365.3" r="6.1"/><circle cx="2137" cy="350.5" r="6.2"/><circle cx="2107" cy="377.8" r="6.2"/><circle cx="2148.2" cy="362.2" r="6.3"/><circle cx="2117.3" cy="390" r="6.3"/><circle cx="2159.5" cy="374.2" r="6.3"/><circle cx="2127.4" cy="402.1" r="6.3"/><circle cx="2170.6" cy="386.6" r="6.4"/><circle cx="2137.1" cy="414.3" r="6.4"/><circle cx="2181.2" cy="398.9" r="6.5"/><circle cx="2146.8" cy="426.9" r="6.5"/><circle cx="2191.7" cy="411.1" r="6.5"/><circle cx="2156.6" cy="439.6" r="6.5"/><circle cx="2202.3" cy="423.7" r="6.6"/><circle cx="2166.2" cy="452.1" r="6.6"/><circle cx="2212.7" cy="436.8" r="6.6"/><circle cx="2175.3" cy="464.5" r="6.6"/><circle cx="2222.8" cy="450.7" r="6.6"/><circle cx="2183.7" cy="476.9" r="6.6"/><circle cx="2232.4" cy="465.9" r="6.7"/><circle cx="2190.9" cy="489.2" r="6.7"/><circle cx="2240.7" cy="481.5" r="6.7"/><circle cx="2197.4" cy="502.2" r="6.7"/><circle cx="2247.8" cy="496.7" r="6.7"/><circle cx="2203.6" cy="516.3" r="6.7"/><circle cx="2254.3" cy="511.1" r="6.7"/><circle cx="2210.1" cy="531.2" r="6.7"/><circle cx="2261.1" cy="525.6" r="6.8"/><circle cx="2216.9" cy="546" r="6.8"/><circle cx="2287.2" cy="586" r="6.8"/><circle cx="2241.4" cy="603.9" r="6.8"/><circle cx="2293.1" cy="602.3" r="6.8"/><circle cx="2246.4" cy="617.9" r="6.8"/><circle cx="2298.2" cy="618.4" r="6.8"/><circle cx="2251" cy="632.5" r="6.8"/><circle cx="2302.8" cy="634.2" r="6.8"/><circle cx="2255.4" cy="647.5" r="6.8"/><circle cx="2307.1" cy="650.2" r="6.8"/><circle cx="2259.4" cy="662.6" r="6.8"/><circle cx="2311.1" cy="666.4" r="6.8"/><circle cx="2263.1" cy="677.6" r="6.8"/><circle cx="2314.7" cy="683" r="6.8"/><circle cx="2266.4" cy="692.5" r="6.8"/><circle cx="2317.7" cy="699.5" r="6.8"/><circle cx="2269.1" cy="707.7" r="6.8"/><circle cx="2320.3" cy="716" r="6.8"/><circle cx="2271.5" cy="723" r="6.8"/><circle cx="2322.5" cy="732.4" r="6.8"/><circle cx="2273.5" cy="738.5" r="6.8"/><circle cx="2324.3" cy="748.8" r="6.8"/><circle cx="2275.3" cy="754" r="6.8"/><circle cx="2325.9" cy="765.7" r="6.8"/><circle cx="2276.7" cy="769.2" r="6.8"/><circle cx="2326.6" cy="783.1" r="6.8"/><circle cx="2277.3" cy="783.9" r="6.8"/><circle cx="2326.7" cy="799.8" r="6.8"/><circle cx="2277.4" cy="799.4" r="6.8"/><circle cx="2326.3" cy="816.4" r="6.8"/><circle cx="2277" cy="814.9" r="6.8"/><circle cx="2325.6" cy="833.1" r="6.8"/><circle cx="2276.4" cy="830.5" r="6.8"/><circle cx="2324.5" cy="849.7" r="6.8"/><circle cx="2275.4" cy="845.9" r="6.8"/><circle cx="2323.1" cy="866.2" r="6.8"/><circle cx="2274" cy="861.4" r="6.8"/><circle cx="2321.4" cy="882.5" r="6.8"/><circle cx="2272.4" cy="877.1" r="6.8"/><circle cx="2319.4" cy="899" r="6.8"/><circle cx="2270.6" cy="892.6" r="6.8"/><circle cx="2317.1" cy="915.5" r="6.8"/><circle cx="2268.4" cy="908" r="6.8"/><circle cx="2314" cy="932.6" r="6.8"/><circle cx="2265.7" cy="922.5" r="6.8"/><circle cx="2310" cy="949.6" r="6.8"/><circle cx="2262.4" cy="936.9" r="6.8"/><circle cx="2305.1" cy="966.2" r="6.8"/><circle cx="2258.2" cy="951.1" r="6.8"/><circle cx="2299.8" cy="982" r="6.8"/><circle cx="2253.2" cy="965.8" r="6.8"/><circle cx="2294.2" cy="997.6" r="6.8"/><circle cx="2248" cy="980.5" r="6.8"/><circle cx="2288.1" cy="1013.3" r="6.8"/><circle cx="2242.4" cy="994.9" r="6.8"/><circle cx="2281.7" cy="1028.7" r="6.8"/><circle cx="2236.4" cy="1009.2" r="6.8"/><circle cx="2275.1" cy="1043.7" r="6.8"/><circle cx="2230.1" cy="1023.6" r="6.8"/><circle cx="2268" cy="1058.9" r="6.8"/><circle cx="2223.6" cy="1037.6" r="6.8"/><circle cx="2260.8" cy="1073.7" r="6.8"/><circle cx="2216.7" cy="1051.7" r="6.8"/><circle cx="2253.5" cy="1088.2" r="6.8"/><circle cx="2209.5" cy="1065.9" r="6.8"/><circle cx="2246.4" cy="1102.4" r="6.8"/><circle cx="2202.2" cy="1080.4" r="6.8"/><circle cx="2239.6" cy="1116.4" r="6.8"/><circle cx="2195" cy="1095.4" r="6.8"/><circle cx="2232" cy="1131.8" r="6.8"/><circle cx="2188.4" cy="1108.9" r="6.8"/><circle cx="2223.6" cy="1146.9" r="6.8"/><circle cx="2181.1" cy="1121.9" r="6.8"/><circle cx="2215.9" cy="1160.4" r="6.8"/><circle cx="2172.9" cy="1136.3" r="6.8"/><circle cx="2207.9" cy="1174.6" r="6.8"/><circle cx="2165.1" cy="1150.2" r="6.8"/><circle cx="2199.4" cy="1189.1" r="6.8"/><circle cx="2157.3" cy="1163.4" r="6.8"/><circle cx="2190" cy="1203.6" r="6.8"/><circle cx="2149.2" cy="1176" r="6.8"/><circle cx="2179.5" cy="1218" r="6.8"/><circle cx="2140.7" cy="1187.5" r="6.8"/><circle cx="2167.3" cy="1232" r="6.8"/><circle cx="2131.8" cy="1197.7" r="6.8"/><circle cx="2154.7" cy="1244.3" r="6.8"/><circle cx="2121.3" cy="1208" r="6.8"/><circle cx="2141.7" cy="1255.7" r="6.8"/><circle cx="2110.1" cy="1217.8" r="6.8"/><circle cx="2128.5" cy="1266.3" r="6.8"/><circle cx="2098.3" cy="1227.3" r="6.8"/><circle cx="2115.1" cy="1276.4" r="6.8"/><circle cx="2086" cy="1236.6" r="6.8"/><circle cx="2101.6" cy="1286.1" r="6.8"/><circle cx="2073.4" cy="1245.6" r="6.8"/><circle cx="2087.5" cy="1295.6" r="6.8"/><circle cx="2060.8" cy="1254.2" r="6.8"/><circle cx="2072.9" cy="1304.6" r="6.8"/><circle cx="2048" cy="1262.1" r="6.8"/><circle cx="2058.5" cy="1312.9" r="6.8"/><circle cx="2034.5" cy="1269.8" r="6.8"/><circle cx="2043.9" cy="1320.7" r="6.8"/><circle cx="2020.8" cy="1277.2" r="6.8"/><circle cx="2029.5" cy="1328.3" r="6.8"/><circle cx="2006.7" cy="1284.6" r="6.8"/><circle cx="2015.3" cy="1335.7" r="6.8"/><circle cx="1992.3" cy="1292.1" r="6.8"/><circle cx="2001.3" cy="1343.2" r="6.8"/><circle cx="1978" cy="1299.8" r="6.8"/><circle cx="1939" cy="1370.4" r="6.8"/><circle cx="1922.5" cy="1323.9" r="6.8"/><circle cx="1924.3" cy="1375.7" r="6.8"/><circle cx="1906.9" cy="1329.6" r="6.8"/><circle cx="1909.4" cy="1381.4" r="6.8"/><circle cx="1891.7" cy="1335.4" r="6.8"/><circle cx="1893.9" cy="1387.2" r="6.8"/><circle cx="1877.1" cy="1340.9" r="6.8"/><circle cx="1878.1" cy="1392.7" r="6.8"/><circle cx="1862.6" cy="1345.9" r="6.8"/><circle cx="1862.2" cy="1397.7" r="6.8"/><circle cx="1847.7" cy="1350.6" r="6.8"/><circle cx="1846.6" cy="1402.5" r="6.8"/><circle cx="1832.6" cy="1355.2" r="6.8"/><circle cx="1831" cy="1407" r="6.8"/><circle cx="1817.3" cy="1359.6" r="6.8"/><circle cx="1815.3" cy="1411.5" r="6.8"/><circle cx="1802" cy="1364" r="6.8"/><circle cx="1799.6" cy="1415.8" r="6.8"/><circle cx="1786.7" cy="1368.2" r="6.8"/><circle cx="1784" cy="1420" r="6.8"/><circle cx="1771.3" cy="1372.4" r="6.8"/><circle cx="1768.3" cy="1424.1" r="6.8"/><circle cx="1755.8" cy="1376.5" r="6.8"/><circle cx="1752.9" cy="1428.2" r="6.8"/><circle cx="1740.1" cy="1380.6" r="6.8"/><circle cx="1737.2" cy="1432.4" r="6.8"/><circle cx="1724.7" cy="1384.7" r="6.8"/><circle cx="1721.5" cy="1436.5" r="6.8"/><circle cx="1709.3" cy="1388.7" r="6.8"/><circle cx="1705.5" cy="1440.4" r="6.8"/><circle cx="1694" cy="1392.5" r="6.8"/><circle cx="1689.3" cy="1444.2" r="6.8"/><circle cx="1678.9" cy="1396" r="6.8"/><circle cx="1672.9" cy="1447.5" r="6.8"/><circle cx="1663.7" cy="1399.1" r="6.8"/><circle cx="1656.3" cy="1450.4" r="6.8"/><circle cx="1648.6" cy="1401.7" r="6.8"/><circle cx="1639.7" cy="1452.8" r="6.8"/><circle cx="1633.4" cy="1403.9" r="6.8"/><circle cx="1623.2" cy="1454.7" r="6.8"/><circle cx="1617.9" cy="1405.7" r="6.8"/><circle cx="1606.8" cy="1456.4" r="6.8"/><circle cx="1602.3" cy="1407.3" r="6.8"/><circle cx="1590.5" cy="1457.8" r="6.8"/><circle cx="1586.5" cy="1408.6" r="6.8"/><circle cx="1574.3" cy="1459" r="6.8"/><circle cx="1570.7" cy="1409.8" r="6.8"/><circle cx="1558.1" cy="1460.1" r="6.8"/><circle cx="1554.8" cy="1411" r="6.8"/><circle cx="1541.8" cy="1461.2" r="6.8"/><circle cx="1539" cy="1412" r="6.8"/><circle cx="1525.1" cy="1462" r="6.8"/><circle cx="1523.5" cy="1412.7" r="6.8"/><circle cx="1508.6" cy="1462.4" r="6.8"/><circle cx="1507.9" cy="1413.1" r="6.8"/><circle cx="1492.3" cy="1462.5" r="6.8"/><circle cx="1492" cy="1413.2" r="6.8"/><circle cx="1476.3" cy="1462.6" r="6.8"/><circle cx="1475.8" cy="1413.3" r="6.8"/><circle cx="1460.1" cy="1462.7" r="6.8"/><circle cx="1459.8" cy="1413.4" r="6.8"/><circle cx="1444" cy="1462.8" r="6.8"/><circle cx="1443.8" cy="1413.5" r="6.8"/><circle cx="1427.8" cy="1462.8" r="6.8"/><circle cx="1427.8" cy="1413.5" r="6.8"/><circle cx="1411.7" cy="1462.8" r="6.8"/><circle cx="1411.7" cy="1413.5" r="6.8"/><circle cx="1395.5" cy="1462.8" r="6.8"/><circle cx="1395.7" cy="1413.5" r="6.8"/><circle cx="1379.4" cy="1462.7" r="6.8"/><circle cx="1379.6" cy="1413.4" r="6.8"/><circle cx="1363.3" cy="1462.7" r="6.8"/><circle cx="1363.6" cy="1413.4" r="6.8"/><circle cx="1347.6" cy="1462.7" r="6.8"/><circle cx="1347.1" cy="1413.4" r="6.8"/><circle cx="1331.6" cy="1462.9" r="6.8"/><circle cx="1330.9" cy="1413.6" r="6.8"/><circle cx="1315.5" cy="1463.1" r="6.8"/><circle cx="1314.9" cy="1413.8" r="6.8"/><circle cx="1299.1" cy="1463.2" r="6.8"/><circle cx="1299.1" cy="1413.9" r="6.8"/><circle cx="1282.5" cy="1463.1" r="6.8"/><circle cx="1283.5" cy="1413.8" r="6.8"/><circle cx="1265.6" cy="1462.5" r="6.8"/><circle cx="1268.2" cy="1413.3" r="6.8"/><circle cx="1248.8" cy="1461.4" r="6.8"/><circle cx="1253" cy="1412.3" r="6.8"/><circle cx="1232.1" cy="1459.7" r="6.8"/><circle cx="1237.6" cy="1410.7" r="6.8"/><circle cx="1215.5" cy="1457.6" r="6.8"/><circle cx="1222.3" cy="1408.8" r="6.8"/><circle cx="1199.2" cy="1455.2" r="6.8"/><circle cx="1206.8" cy="1406.5" r="6.8"/><circle cx="1182.8" cy="1452.5" r="6.8"/><circle cx="1191.4" cy="1403.9" r="6.8"/><circle cx="1166.7" cy="1449.6" r="6.8"/><circle cx="1175.8" cy="1401.1" r="6.8"/><circle cx="1150.7" cy="1446.5" r="6.8"/><circle cx="1160.2" cy="1398.1" r="6.8"/><circle cx="1134.6" cy="1443.2" r="6.8"/><circle cx="1144.8" cy="1395" r="6.8"/><circle cx="1118.4" cy="1439.6" r="6.8"/><circle cx="1129.6" cy="1391.6" r="6.8"/><circle cx="1102.4" cy="1435.7" r="6.8"/><circle cx="1114.4" cy="1387.9" r="6.8"/><circle cx="1086.5" cy="1431.6" r="6.8"/><circle cx="1099.1" cy="1383.9" r="6.8"/><circle cx="1070.9" cy="1427.5" r="6.8"/><circle cx="1083.6" cy="1379.8" r="6.8"/><circle cx="1055.4" cy="1423.4" r="6.8"/><circle cx="1068" cy="1375.7" r="6.8"/><circle cx="1040.1" cy="1419.4" r="6.8"/><circle cx="1052.1" cy="1371.6" r="6.8"/><circle cx="1024.8" cy="1415.7" r="6.8"/><circle cx="1036.2" cy="1367.7" r="6.8"/><circle cx="1009.3" cy="1412" r="6.8"/><circle cx="1020.4" cy="1364" r="6.8"/><circle cx="993.6" cy="1408.4" r="6.8"/><circle cx="1004.7" cy="1360.3" r="6.8"/><circle cx="978" cy="1404.8" r="6.8"/><circle cx="989" cy="1356.8" r="6.8"/><circle cx="962.3" cy="1401.2" r="6.8"/><circle cx="973.3" cy="1353.2" r="6.8"/><circle cx="946.5" cy="1397.6" r="6.8"/><circle cx="957.7" cy="1349.6" r="6.8"/><circle cx="930.7" cy="1393.8" r="6.8"/><circle cx="942.2" cy="1345.9" r="6.8"/><circle cx="914.5" cy="1389.8" r="6.8"/><circle cx="927.2" cy="1342.1" r="6.8"/><circle cx="853.8" cy="1370.5" r="6.8"/><circle cx="865.4" cy="1322.5" r="6.8"/><circle cx="837.7" cy="1366.4" r="6.8"/><circle cx="850.3" cy="1318.8" r="6.8"/><circle cx="820.7" cy="1361.4" r="6.8"/><circle cx="836.4" cy="1314.7" r="6.8"/><circle cx="803.8" cy="1355" r="6.8"/><circle cx="823.2" cy="1309.7" r="6.8"/><circle cx="787.5" cy="1347.3" r="6.8"/><circle cx="810.4" cy="1303.7" r="6.8"/><circle cx="772.4" cy="1338.8" r="6.8"/><circle cx="797.5" cy="1296.4" r="6.8"/><circle cx="758" cy="1330" r="6.8"/><circle cx="784.5" cy="1288.4" r="6.8"/><circle cx="744.2" cy="1320.9" r="6.8"/><circle cx="771.4" cy="1279.8" r="6.8"/><circle cx="730.4" cy="1311.6" r="6.8"/><circle cx="758.5" cy="1271.1" r="6.8"/><circle cx="717" cy="1302.2" r="6.8"/><circle cx="745.5" cy="1262.1" r="6.8"/><circle cx="703.7" cy="1292.7" r="6.8"/><circle cx="732.7" cy="1252.8" r="6.8"/><circle cx="690.5" cy="1283" r="6.8"/><circle cx="720" cy="1243.4" r="6.8"/><circle cx="677.4" cy="1273.1" r="6.8"/><circle cx="707.4" cy="1233.9" r="6.8"/><circle cx="664.3" cy="1262.9" r="6.8"/><circle cx="695.1" cy="1224.4" r="6.8"/><circle cx="651.3" cy="1252.2" r="6.8"/><circle cx="683.3" cy="1214.6" r="6.8"/><circle cx="638.7" cy="1241.2" r="6.8"/><circle cx="671.6" cy="1204.4" r="6.8"/><circle cx="626.4" cy="1229.9" r="6.8"/><circle cx="660.2" cy="1194" r="6.8"/><circle cx="614.5" cy="1218.4" r="6.8"/><circle cx="648.9" cy="1183.2" r="6.8"/><circle cx="602.8" cy="1206.9" r="6.8"/><circle cx="637.8" cy="1172.1" r="6.8"/><circle cx="591.4" cy="1195.3" r="6.8"/><circle cx="626.6" cy="1160.7" r="6.8"/><circle cx="580" cy="1183.6" r="6.8"/><circle cx="615.5" cy="1149.4" r="6.8"/><circle cx="568.5" cy="1171.5" r="6.8"/><circle cx="604.8" cy="1138.2" r="6.8"/><circle cx="557.1" cy="1158.6" r="6.8"/><circle cx="594.9" cy="1126.9" r="6.8"/><circle cx="546.3" cy="1145" r="6.8"/><circle cx="585.8" cy="1115.4" r="6.8"/><circle cx="536.3" cy="1130.8" r="6.8"/><circle cx="577.2" cy="1103.3" r="6.8"/><circle cx="526.9" cy="1115.6" r="6.8"/><circle cx="569.7" cy="1091.2" r="6.8"/><circle cx="518.7" cy="1100.6" r="6.8"/><circle cx="562.5" cy="1077.9" r="6.8"/><circle cx="511.3" cy="1085.8" r="6.8"/><circle cx="555.4" cy="1063.9" r="6.8"/><circle cx="504.2" cy="1071.4" r="6.8"/><circle cx="548.3" cy="1049.5" r="6.8"/><circle cx="497.1" cy="1057.4" r="6.8"/><circle cx="540.9" cy="1034.8" r="6.8"/><circle cx="489.7" cy="1043.1" r="6.8"/><circle cx="533.5" cy="1020.5" r="6.8"/><circle cx="482.2" cy="1028.3" r="6.8"/><circle cx="526.5" cy="1006.6" r="6.8"/><circle cx="475" cy="1012.8" r="6.8"/><circle cx="520.1" cy="992.9" r="6.8"/><circle cx="468.4" cy="996.8" r="6.8"/><circle cx="514.4" cy="979.1" r="6.8"/><circle cx="462.7" cy="980.9" r="6.8"/><circle cx="509.3" cy="964.8" r="6.8"/><circle cx="457.4" cy="964.8" r="6.8"/><circle cx="504.5" cy="950.2" r="6.8"/><circle cx="452.7" cy="948.7" r="6.8"/><circle cx="500.2" cy="935.5" r="6.8"/><circle cx="448.5" cy="932.5" r="6.8"/><circle cx="496.3" cy="920.6" r="6.8"/><circle cx="444.6" cy="916.2" r="6.8"/><circle cx="492.8" cy="905.5" r="6.8"/><circle cx="441.2" cy="899.8" r="6.8"/><circle cx="489.6" cy="890.4" r="6.8"/><circle cx="438.2" cy="883.5" r="6.8"/><circle cx="486.8" cy="875.1" r="6.8"/><circle cx="435.6" cy="867.2" r="6.8"/><circle cx="484.3" cy="859.7" r="6.8"/><circle cx="433.2" cy="850.8" r="6.8"/><circle cx="482.1" cy="844.2" r="6.8"/><circle cx="431.2" cy="834.2" r="6.8"/><circle cx="480.2" cy="828.8" r="6.8"/><circle cx="429.5" cy="817.8" r="6.8"/><circle cx="478.6" cy="813.2" r="6.8"/><circle cx="428.1" cy="801.4" r="6.8"/><circle cx="477.3" cy="797.6" r="6.8"/><circle cx="427" cy="784.9" r="6.8"/><circle cx="476.2" cy="782" r="6.8"/><circle cx="426.2" cy="768.3" r="6.8"/><circle cx="475.4" cy="766.5" r="6.8"/><circle cx="425.8" cy="751.3" r="6.8"/><circle cx="475.1" cy="751.3" r="6.8"/><circle cx="426.2" cy="734" r="6.8"/><circle cx="475.5" cy="736.4" r="6.8"/><circle cx="427.3" cy="717.4" r="6.8"/><circle cx="476.4" cy="720.9" r="6.8"/><circle cx="428.6" cy="700.9" r="6.8"/><circle cx="477.7" cy="705.4" r="6.8"/><circle cx="430.3" cy="684.4" r="6.8"/><circle cx="479.3" cy="689.8" r="6.8"/><circle cx="432.4" cy="667.8" r="6.8"/><circle cx="481.2" cy="674.4" r="6.8"/><circle cx="434.8" cy="651.3" r="6.8"/><circle cx="483.5" cy="659.1" r="6.8"/><circle cx="437.6" cy="635" r="6.8"/><circle cx="486.1" cy="643.8" r="6.8"/><circle cx="440.7" cy="618.8" r="6.8"/><circle cx="489" cy="628.3" r="6.8"/><circle cx="444" cy="602.6" r="6.8"/><circle cx="492.2" cy="613" r="6.8"/><circle cx="447.7" cy="586.4" r="6.8"/><circle cx="495.7" cy="597.9" r="6.8"/><circle cx="451.8" cy="570.2" r="6.8"/><circle cx="499.4" cy="582.8" r="6.8"/><circle cx="456.2" cy="554.2" r="6.8"/><circle cx="503.6" cy="567.9" r="6.8"/><circle cx="461" cy="538.3" r="6.8"/><circle cx="508.1" cy="552.9" r="6.8"/><circle cx="466.2" cy="522.4" r="6.8"/><circle cx="512.9" cy="538.2" r="6.8"/><circle cx="471.7" cy="506.7" r="6.8"/><circle cx="518" cy="523.5" r="6.8"/><circle cx="477.6" cy="491" r="6.8"/><circle cx="523.5" cy="509.1" r="6.8"/><circle cx="484.2" cy="475.2" r="6.8"/><circle cx="529.3" cy="495.2" r="6.8"/><circle cx="520.1" cy="415.2" r="6.8"/><circle cx="559.2" cy="445.1" r="6.8"/><circle cx="529.9" cy="402.4" r="6.8"/><circle cx="569" cy="432.4" r="6.8"/><circle cx="539.2" cy="390" r="6.8"/><circle cx="579" cy="419" r="6.8"/><circle cx="548.4" cy="377.1" r="6.8"/><circle cx="588.6" cy="405.7" r="6.8"/><circle cx="557.7" cy="364" r="6.8"/><circle cx="597.9" cy="392.6" r="6.8"/><circle cx="567.3" cy="350.7" r="6.8"/><circle cx="607.1" cy="379.8" r="6.8"/><circle cx="577.1" cy="337.5" r="6.8"/><circle cx="616.5" cy="367.2" r="6.8"/><circle cx="587.5" cy="324.1" r="6.8"/><circle cx="625.8" cy="355.2" r="6.8"/><circle cx="597.3" cy="311.8" r="6.8"/><circle cx="636.1" cy="342.3" r="6.8"/><circle cx="607.7" cy="298.9" r="6.8"/><circle cx="645.8" cy="330.1" r="6.8"/><circle cx="619.3" cy="285.5" r="6.8"/><circle cx="655.3" cy="319.2" r="6.8"/><circle cx="631.9" cy="272.9" r="6.8"/><circle cx="665.4" cy="309.1" r="6.8"/><circle cx="645.1" cy="261.4" r="6.8"/><circle cx="676.4" cy="299.4" r="6.8"/><circle cx="658.3" cy="250.8" r="6.8"/><circle cx="688.4" cy="289.9" r="6.8"/><circle cx="671.7" cy="240.8" r="6.8"/><circle cx="700.8" cy="280.6" r="6.8"/><circle cx="685.1" cy="231.2" r="6.8"/><circle cx="713.5" cy="271.5" r="6.8"/><circle cx="698.5" cy="221.8" r="6.8"/><circle cx="726.5" cy="262.4" r="6.8"/><circle cx="712" cy="212.6" r="6.8"/><circle cx="739.6" cy="253.5" r="6.8"/><circle cx="725.6" cy="203.6" r="6.8"/><circle cx="752.8" cy="244.7" r="6.8"/><circle cx="739.2" cy="194.7" r="6.8"/><circle cx="766.1" cy="236" r="6.8"/><circle cx="752.9" cy="185.8" r="6.8"/><circle cx="779.4" cy="227.4" r="6.8"/><circle cx="767" cy="177.1" r="6.8"/><circle cx="792.7" cy="219.1" r="6.8"/><circle cx="781.1" cy="168.6" r="6.8"/><circle cx="806.2" cy="211" r="6.8"/><circle cx="795.1" cy="160.4" r="6.8"/><circle cx="819.9" cy="203" r="6.8"/><circle cx="809.3" cy="152.2" r="6.8"/><circle cx="833.6" cy="195.1" r="6.8"/><circle cx="823.4" cy="144.3" r="6.8"/><circle cx="847.5" cy="187.3" r="6.8"/><circle cx="837.6" cy="136.4" r="6.8"/><circle cx="861.4" cy="179.6" r="6.8"/><circle cx="851.9" cy="128.6" r="6.8"/><circle cx="875.4" cy="171.9" r="6.8"/><circle cx="866" cy="120.9" r="6.8"/><circle cx="889.6" cy="164.2" r="6.8"/><circle cx="885.9" cy="113.2" r="6.8"/><circle cx="899.6" cy="160.5" r="6.8"/><circle cx="901.5" cy="108.6" r="6.8"/><circle cx="914.8" cy="156" r="6.8"/><circle cx="917.4" cy="104.3" r="6.8"/><circle cx="930" cy="151.9" r="6.8"/><circle cx="933.1" cy="100.1" r="6.8"/><circle cx="945.4" cy="147.9" r="6.8"/><circle cx="948.8" cy="96.1" r="6.8"/><circle cx="960.9" cy="143.9" r="6.8"/><circle cx="964.5" cy="92.2" r="6.8"/><circle cx="976.4" cy="140" r="6.8"/><circle cx="980.1" cy="88.3" r="6.8"/><circle cx="992" cy="136.2" r="6.8"/><circle cx="996" cy="84.4" r="6.8"/><circle cx="1007.5" cy="132.4" r="6.8"/><circle cx="1011.8" cy="80.7" r="6.8"/><circle cx="1022.9" cy="128.7" r="6.8"/><circle cx="1075.7" cy="67.4" r="6.8"/><circle cx="1085" cy="115.8" r="6.8"/><circle cx="1090.7" cy="64.3" r="6.8"/><circle cx="1101.6" cy="112.3" r="6.8"/><circle cx="1105.8" cy="60.6" r="6.8"/><circle cx="1117.7" cy="108.5" r="6.8"/><circle cx="1121.5" cy="56.7" r="6.8"/><circle cx="1133.3" cy="104.6" r="6.8"/><circle cx="1137.4" cy="52.9" r="6.8"/><circle cx="1148.6" cy="100.9" r="6.8"/><circle cx="1153.9" cy="49.3" r="6.8"/><circle cx="1163.6" cy="97.6" r="6.8"/><circle cx="1170.7" cy="46.3" r="6.8"/><circle cx="1178.4" cy="94.9" r="6.8"/><circle cx="1187.4" cy="43.9" r="6.8"/><circle cx="1193.6" cy="92.8" r="6.8"/><circle cx="1204" cy="42" r="6.8"/><circle cx="1209" cy="91.1" r="6.8"/><circle cx="1220.5" cy="40.6" r="6.8"/><circle cx="1224.5" cy="89.7" r="6.8"/><circle cx="1236.9" cy="39.3" r="6.8"/><circle cx="1240.2" cy="88.5" r="6.8"/><circle cx="1253.1" cy="38.3" r="6.8"/><circle cx="1256.1" cy="87.5" r="6.8"/><circle cx="1269.5" cy="37.4" r="6.8"/><circle cx="1271.9" cy="86.6" r="6.8"/><circle cx="1285.9" cy="36.7" r="6.8"/><circle cx="1287.6" cy="86" r="6.8"/><circle cx="1302.4" cy="36.3" r="6.8"/><circle cx="1303.2" cy="85.6" r="6.8"/><circle cx="1318.9" cy="36.2" r="6.8"/><circle cx="1318.9" cy="85.5" r="6.8"/></g><g transform="translate(1048.8 97.7) rotate(-12.3) scale(0.9 0.93)"><path d="M-36 -38C-36 -52 -22 -54 -8 -52C0 -51 8 -51 16 -52C30 -54 38 -50 38 -38C38 -20 30 -12 30 0C30 12 38 20 38 38C38 50 30 54 16 52C8 51 0 51 -8 52C-22 54 -36 52 -36 38C-36 20 -30 12 -30 0C-30 -12 -36 -20 -36 -38Z" fill="#3d9bb3" stroke="#1d86a0" stroke-width="3" stroke-linejoin="round"/><path d="M-34 -38C-34 -50 -22 -52 -12 -50C-4 -30 -4 30 -12 50C-22 52 -34 50 -34 38C-34 20 -28 12 -28 0C-28 -12 -34 -20 -34 -38Z" fill="#66c1c2"/><path d="M36 -38C36 -50 28 -52 18 -50C8 -30 8 30 18 50C28 52 36 50 36 38C36 20 28 12 28 0C28 -12 36 -20 36 -38Z" fill="#66c1c2"/><path d="M-12 -50C-4 -30 -4 30 -12 50M18 -50C8 -30 8 30 18 50" fill="none" stroke="#1d86a0" stroke-width="2.4"/></g><g transform="translate(521.4 456.6) rotate(-59.4) scale(0.9 0.93)"><path d="M-36 -38C-36 -52 -22 -54 -8 -52C0 -51 8 -51 16 -52C30 -54 38 -50 38 -38C38 -20 30 -12 30 0C30 12 38 20 38 38C38 50 30 54 16 52C8 51 0 51 -8 52C-22 54 -36 52 -36 38C-36 20 -30 12 -30 0C-30 -12 -36 -20 -36 -38Z" fill="#3d9bb3" stroke="#1d86a0" stroke-width="3" stroke-linejoin="round"/><path d="M-34 -38C-34 -50 -22 -52 -12 -50C-4 -30 -4 30 -12 50C-22 52 -34 50 -34 38C-34 20 -28 12 -28 0C-28 -12 -34 -20 -34 -38Z" fill="#66c1c2"/><path d="M36 -38C36 -50 28 -52 18 -50C8 -30 8 30 18 50C28 52 36 50 36 38C36 20 28 12 28 0C28 -12 36 -20 36 -38Z" fill="#66c1c2"/><path d="M-12 -50C-4 -30 -4 30 -12 50M18 -50C8 -30 8 30 18 50" fill="none" stroke="#1d86a0" stroke-width="2.4"/></g><g transform="translate(2252 565.2) rotate(67.2) scale(0.9 0.93)"><path d="M-36 -38C-36 -52 -22 -54 -8 -52C0 -51 8 -51 16 -52C30 -54 38 -50 38 -38C38 -20 30 -12 30 0C30 12 38 20 38 38C38 50 30 54 16 52C8 51 0 51 -8 52C-22 54 -36 52 -36 38C-36 20 -30 12 -30 0C-30 -12 -36 -20 -36 -38Z" fill="#3d9bb3" stroke="#1d86a0" stroke-width="3" stroke-linejoin="round"/><path d="M-34 -38C-34 -50 -22 -52 -12 -50C-4 -30 -4 30 -12 50C-22 52 -34 50 -34 38C-34 20 -28 12 -28 0C-28 -12 -34 -20 -34 -38Z" fill="#66c1c2"/><path d="M36 -38C36 -50 28 -52 18 -50C8 -30 8 30 18 50C28 52 36 50 36 38C36 20 28 12 28 0C28 -12 36 -20 36 -38Z" fill="#66c1c2"/><path d="M-12 -50C-4 -30 -4 30 -12 50M18 -50C8 -30 8 30 18 50" fill="none" stroke="#1d86a0" stroke-width="2.4"/></g><g transform="translate(890.4 1355.7) rotate(-158.8) scale(0.9 0.93)"><path d="M-36 -38C-36 -52 -22 -54 -8 -52C0 -51 8 -51 16 -52C30 -54 38 -50 38 -38C38 -20 30 -12 30 0C30 12 38 20 38 38C38 50 30 54 16 52C8 51 0 51 -8 52C-22 54 -36 52 -36 38C-36 20 -30 12 -30 0C-30 -12 -36 -20 -36 -38Z" fill="#3d9bb3" stroke="#1d86a0" stroke-width="3" stroke-linejoin="round"/><path d="M-34 -38C-34 -50 -22 -52 -12 -50C-4 -30 -4 30 -12 50C-22 52 -34 50 -34 38C-34 20 -28 12 -28 0C-28 -12 -34 -20 -34 -38Z" fill="#66c1c2"/><path d="M36 -38C36 -50 28 -52 18 -50C8 -30 8 30 18 50C28 52 36 50 36 38C36 20 28 12 28 0C28 -12 36 -20 36 -38Z" fill="#66c1c2"/><path d="M-12 -50C-4 -30 -4 30 -12 50M18 -50C8 -30 8 30 18 50" fill="none" stroke="#1d86a0" stroke-width="2.4"/></g><g transform="translate(1960.8 1335.7) rotate(156.4) scale(0.9 0.93)"><path d="M-36 -38C-36 -52 -22 -54 -8 -52C0 -51 8 -51 16 -52C30 -54 38 -50 38 -38C38 -20 30 -12 30 0C30 12 38 20 38 38C38 50 30 54 16 52C8 51 0 51 -8 52C-22 54 -36 52 -36 38C-36 20 -30 12 -30 0C-30 -12 -36 -20 -36 -38Z" fill="#3d9bb3" stroke="#1d86a0" stroke-width="3" stroke-linejoin="round"/><path d="M-34 -38C-34 -50 -22 -52 -12 -50C-4 -30 -4 30 -12 50C-22 52 -34 50 -34 38C-34 20 -28 12 -28 0C-28 -12 -34 -20 -34 -38Z" fill="#66c1c2"/><path d="M36 -38C36 -50 28 -52 18 -50C8 -30 8 30 18 50C28 52 36 50 36 38C36 20 28 12 28 0C28 -12 36 -20 36 -38Z" fill="#66c1c2"/><path d="M-12 -50C-4 -30 -4 30 -12 50M18 -50C8 -30 8 30 18 50" fill="none" stroke="#1d86a0" stroke-width="2.4"/></g><path d="M1420 150C1408.3 108.3 1356.3 144.2 1330 150C1303.7 155.8 1283.7 174.2 1262 185C1240.3 195.8 1217 204.2 1200 215C1183 225.8 1168.3 235.8 1160 250C1151.7 264.2 1156.7 286.7 1150 300C1143.3 313.3 1132.5 321.7 1120 330C1107.5 338.3 1088.3 342.5 1075 350C1061.7 357.5 1048.5 365 1040 375C1031.5 385 1026.7 396.7 1024 410C1021.3 423.3 1021.3 442.8 1024 455C1026.7 467.2 1033.8 473 1040 483C1046.2 493 1052.8 501.5 1061 515C1069.2 528.5 1082.8 550.5 1089 564C1095.2 577.5 1092.2 587.3 1098 596C1103.8 604.7 1114.5 610.2 1124 616C1133.5 621.8 1146.7 624.8 1155 631C1163.3 637.2 1170.3 642 1174 653C1177.7 664 1172.8 684.5 1177 697C1181.2 709.5 1192.7 719.5 1199 728C1205.3 736.5 1213.5 740.8 1215 748C1216.5 755.2 1208.2 759.8 1208 771C1207.8 782.2 1209.8 802.5 1214 815C1218.2 827.5 1224.7 836.8 1233 846C1241.3 855.2 1253.7 861.8 1264 870C1274.3 878.2 1282 889.7 1295 895C1308 900.3 1329 899.3 1342 902C1355 904.7 1360.2 905.8 1373 911C1385.8 916.2 1403.5 924.2 1419 933C1434.5 941.8 1447.8 956.7 1466 964C1484.2 971.3 1507.3 976.5 1528 977C1548.7 977.5 1569.3 971.2 1590 967C1610.7 962.8 1631.3 955.5 1652 952C1672.7 948.5 1697.3 944.5 1714 946C1730.7 947.5 1743.7 953.7 1752 961C1760.3 968.3 1765.2 982.2 1764 990C1762.8 997.8 1753.7 1006.3 1745 1008C1736.3 1009.7 1722.7 1004.3 1712 1000C1701.3 995.7 1690.7 983.3 1681 982C1671.3 980.7 1660.3 987.3 1654 992C1647.7 996.7 1642.2 1004.3 1643 1010C1643.8 1015.7 1648.3 1022.5 1659 1026C1669.7 1029.5 1690.2 1032.2 1707 1031C1723.8 1029.8 1747.2 1024.7 1760 1019C1772.8 1013.3 1777.3 1004.8 1784 997C1790.7 989.2 1793 978.7 1800 972C1807 965.3 1816.5 961.7 1826 957C1835.5 952.3 1846.5 949.2 1857 944C1867.5 938.8 1874.8 933.2 1889 926C1903.2 918.8 1925.5 912.8 1942 901C1958.5 889.2 1978 866.8 1988 855C1998 843.2 1997.3 843 2002 830C2006.7 817 2010.5 793 2016 777C2021.5 761 2029.8 745.8 2035 734C2040.2 722.2 2042.3 719.5 2047 706C2051.7 692.5 2056.8 669.5 2063 653C2069.2 636.5 2077.8 622.5 2084 607C2090.2 591.5 2096.3 575.5 2100 560C2103.7 544.5 2107.7 527.3 2106 514C2104.3 500.7 2097.7 487.3 2090 480C2082.3 472.7 2075 471.7 2060 470C2045 468.3 2016.7 468.3 2000 470C1983.3 471.7 1976.7 458.3 1960 480C1943.3 501.7 1943.3 563.3 1900 600C1856.7 636.7 1766.7 691.7 1700 700C1633.3 708.3 1550 700 1500 650C1450 600 1413.3 483.3 1400 400C1386.7 316.7 1431.7 191.7 1420 150Z" fill="#8acbd0" stroke="#1c84a2" stroke-width="4.5" stroke-linejoin="round"/><path d="M1962.4 455.4C1961.6 459.4 1959.7 471.4 1957.9 479.4C1956.1 487.3 1954.1 495.2 1951.7 503C1949.4 510.8 1946.8 518.6 1943.9 526.2C1941.1 533.9 1937.9 541.5 1934.5 548.9C1931.1 556.3 1927.4 563.7 1923.4 570.8C1919.5 578 1915.2 585.1 1910.7 591.9C1906.3 598.8 1901.5 605.5 1896.5 612.1C1891.6 618.6 1886.3 625 1880.8 631.1C1875.4 637.2 1869.7 643.2 1863.8 648.9C1857.9 654.6 1851.7 660.1 1845.4 665.4C1839.1 670.6 1832.5 675.6 1825.8 680.4C1819.1 685.2 1812.2 689.7 1805.2 693.9C1798.1 698.2 1790.9 702.1 1783.6 705.9C1776.3 709.6 1768.8 713 1761.2 716.1C1753.7 719.3 1746 722.2 1738.2 724.7C1730.4 727.3 1722.6 729.6 1714.6 731.6C1706.7 733.7 1698.7 735.4 1690.7 736.8C1682.7 738.3 1674.6 739.4 1666.5 740.3C1658.4 741.2 1650.3 741.8 1642.1 742.1C1634 742.5 1625.9 742.5 1617.8 742.3C1609.6 742.1 1601.5 741.6 1593.5 740.8C1585.4 740 1577.3 739 1569.3 737.7C1561.4 736.4 1553.4 734.9 1545.5 733.1C1537.6 731.2 1529.8 729.2 1522 726.9C1514.3 724.6 1506.6 722 1499 719.2C1491.5 716.4 1483.9 713.3 1476.6 710C1469.2 706.7 1461.9 703.2 1454.7 699.4C1447.6 695.6 1440.5 691.6 1433.6 687.4C1426.7 683.1 1419.9 678.7 1413.3 674C1406.7 669.3 1400.2 664.4 1393.9 659.2C1387.6 654.1 1381.5 648.7 1375.5 643.1C1369.6 637.6 1363.8 631.8 1358.3 625.8C1352.7 619.8 1347.3 613.7 1342.2 607.3C1337.1 600.9 1332.2 594.4 1327.5 587.6C1322.9 580.9 1318.4 574 1314.3 566.9C1310.1 559.9 1306.2 552.6 1302.6 545.3C1298.9 537.9 1295.5 530.4 1292.5 522.8C1289.4 515.2 1286.6 507.4 1284.1 499.6C1281.6 491.8 1279.3 483.8 1277.4 475.8C1275.5 467.8 1273.9 459.8 1272.6 451.6C1271.3 443.5 1270.3 435.3 1269.6 427.1C1268.9 418.9 1268.6 410.7 1268.5 402.5C1268.4 394.3 1268.7 386.1 1269.2 377.9C1269.7 369.7 1270.6 361.5 1271.7 353.4C1272.9 345.3 1274.3 337.2 1276 329.2C1277.8 321.2 1279.8 313.2 1282.1 305.4C1284.4 297.5 1286.9 289.8 1289.8 282.1C1292.6 274.5 1295.7 266.9 1299.1 259.5C1302.4 252.1 1306 244.8 1309.9 237.6C1313.7 230.5 1317.8 223.4 1322.2 216.6C1326.5 209.7 1331 203 1335.8 196.4C1340.5 189.8 1345.5 183.4 1350.7 177.2C1355.8 171 1361.2 164.9 1366.8 159C1372.3 153.1 1381.1 144.8 1384 141.9" fill="none" stroke="#1c84a2" stroke-width="28.5" stroke-linecap="round" stroke-linejoin="round" /><path d="M1962.4 455.4C1961.6 459.4 1959.7 471.4 1957.9 479.4C1956.1 487.3 1954.1 495.2 1951.7 503C1949.4 510.8 1946.8 518.6 1943.9 526.2C1941.1 533.9 1937.9 541.5 1934.5 548.9C1931.1 556.3 1927.4 563.7 1923.4 570.8C1919.5 578 1915.2 585.1 1910.7 591.9C1906.3 598.8 1901.5 605.5 1896.5 612.1C1891.6 618.6 1886.3 625 1880.8 631.1C1875.4 637.2 1869.7 643.2 1863.8 648.9C1857.9 654.6 1851.7 660.1 1845.4 665.4C1839.1 670.6 1832.5 675.6 1825.8 680.4C1819.1 685.2 1812.2 689.7 1805.2 693.9C1798.1 698.2 1790.9 702.1 1783.6 705.9C1776.3 709.6 1768.8 713 1761.2 716.1C1753.7 719.3 1746 722.2 1738.2 724.7C1730.4 727.3 1722.6 729.6 1714.6 731.6C1706.7 733.7 1698.7 735.4 1690.7 736.8C1682.7 738.3 1674.6 739.4 1666.5 740.3C1658.4 741.2 1650.3 741.8 1642.1 742.1C1634 742.5 1625.9 742.5 1617.8 742.3C1609.6 742.1 1601.5 741.6 1593.5 740.8C1585.4 740 1577.3 739 1569.3 737.7C1561.4 736.4 1553.4 734.9 1545.5 733.1C1537.6 731.2 1529.8 729.2 1522 726.9C1514.3 724.6 1506.6 722 1499 719.2C1491.5 716.4 1483.9 713.3 1476.6 710C1469.2 706.7 1461.9 703.2 1454.7 699.4C1447.6 695.6 1440.5 691.6 1433.6 687.4C1426.7 683.1 1419.9 678.7 1413.3 674C1406.7 669.3 1400.2 664.4 1393.9 659.2C1387.6 654.1 1381.5 648.7 1375.5 643.1C1369.6 637.6 1363.8 631.8 1358.3 625.8C1352.7 619.8 1347.3 613.7 1342.2 607.3C1337.1 600.9 1332.2 594.4 1327.5 587.6C1322.9 580.9 1318.4 574 1314.3 566.9C1310.1 559.9 1306.2 552.6 1302.6 545.3C1298.9 537.9 1295.5 530.4 1292.5 522.8C1289.4 515.2 1286.6 507.4 1284.1 499.6C1281.6 491.8 1279.3 483.8 1277.4 475.8C1275.5 467.8 1273.9 459.8 1272.6 451.6C1271.3 443.5 1270.3 435.3 1269.6 427.1C1268.9 418.9 1268.6 410.7 1268.5 402.5C1268.4 394.3 1268.7 386.1 1269.2 377.9C1269.7 369.7 1270.6 361.5 1271.7 353.4C1272.9 345.3 1274.3 337.2 1276 329.2C1277.8 321.2 1279.8 313.2 1282.1 305.4C1284.4 297.5 1286.9 289.8 1289.8 282.1C1292.6 274.5 1295.7 266.9 1299.1 259.5C1302.4 252.1 1306 244.8 1309.9 237.6C1313.7 230.5 1317.8 223.4 1322.2 216.6C1326.5 209.7 1331 203 1335.8 196.4C1340.5 189.8 1345.5 183.4 1350.7 177.2C1355.8 171 1361.2 164.9 1366.8 159C1372.3 153.1 1381.1 144.8 1384 141.9" fill="none" stroke="#c2e5e8" stroke-width="19.9" stroke-linecap="round" stroke-linejoin="round" /><path d="M1989.7 544.4C1987.8 548.6 1982.3 561.4 1978.1 569.7C1973.9 577.9 1969.4 586.1 1964.7 594C1959.9 601.9 1954.8 609.7 1949.5 617.3C1944.2 624.8 1938.6 632.2 1932.8 639.4C1926.9 646.5 1920.8 653.5 1914.5 660.2C1908.2 666.9 1901.6 673.4 1894.9 679.6C1888.1 685.9 1881.1 691.9 1873.9 697.6C1866.8 703.4 1859.4 708.9 1851.9 714.1C1844.3 719.4 1836.6 724.4 1828.8 729.1C1820.9 733.8 1812.9 738.3 1804.8 742.5C1796.6 746.7 1784.1 752.3 1780 754.3" fill="none" stroke="#1c84a2" stroke-width="28.5" stroke-linecap="round" stroke-linejoin="round" /><path d="M1989.7 544.4C1987.8 548.6 1982.3 561.4 1978.1 569.7C1973.9 577.9 1969.4 586.1 1964.7 594C1959.9 601.9 1954.8 609.7 1949.5 617.3C1944.2 624.8 1938.6 632.2 1932.8 639.4C1926.9 646.5 1920.8 653.5 1914.5 660.2C1908.2 666.9 1901.6 673.4 1894.9 679.6C1888.1 685.9 1881.1 691.9 1873.9 697.6C1866.8 703.4 1859.4 708.9 1851.9 714.1C1844.3 719.4 1836.6 724.4 1828.8 729.1C1820.9 733.8 1812.9 738.3 1804.8 742.5C1796.6 746.7 1784.1 752.3 1780 754.3" fill="none" stroke="#c2e5e8" stroke-width="19.9" stroke-linecap="round" stroke-linejoin="round" /><path d="M1688.4 782.9C1683.9 783.5 1670.2 785.5 1661.1 786.4C1652 787.2 1642.9 787.7 1633.7 788C1624.6 788.2 1615.4 788.2 1606.3 787.8C1597.1 787.5 1588 786.8 1578.9 785.8C1569.8 784.9 1560.8 783.7 1551.7 782.1C1542.7 780.6 1533.7 778.7 1524.9 776.6C1516 774.5 1507.1 772.1 1498.4 769.4C1489.6 766.7 1480.9 763.7 1472.4 760.4C1463.8 757.1 1455.3 753.5 1447 749.7C1438.7 745.8 1430.5 741.7 1422.4 737.2C1414.4 732.8 1406.4 728.1 1398.7 723.1C1390.9 718.2 1383.3 712.9 1375.9 707.4C1368.6 701.9 1357.9 692.9 1354.3 690" fill="none" stroke="#1c84a2" stroke-width="28.5" stroke-linecap="round" stroke-linejoin="round" /><path d="M1688.4 782.9C1683.9 783.5 1670.2 785.5 1661.1 786.4C1652 787.2 1642.9 787.7 1633.7 788C1624.6 788.2 1615.4 788.2 1606.3 787.8C1597.1 787.5 1588 786.8 1578.9 785.8C1569.8 784.9 1560.8 783.7 1551.7 782.1C1542.7 780.6 1533.7 778.7 1524.9 776.6C1516 774.5 1507.1 772.1 1498.4 769.4C1489.6 766.7 1480.9 763.7 1472.4 760.4C1463.8 757.1 1455.3 753.5 1447 749.7C1438.7 745.8 1430.5 741.7 1422.4 737.2C1414.4 732.8 1406.4 728.1 1398.7 723.1C1390.9 718.2 1383.3 712.9 1375.9 707.4C1368.6 701.9 1357.9 692.9 1354.3 690" fill="none" stroke="#c2e5e8" stroke-width="19.9" stroke-linecap="round" stroke-linejoin="round" /><path d="M1311 645.2C1308.2 641.2 1299.4 629.6 1294 621.5C1288.6 613.4 1283.5 605 1278.8 596.6C1274 588.1 1269.6 579.4 1265.5 570.7C1261.4 561.9 1257.6 552.9 1254.1 543.9C1250.7 534.8 1247.5 525.7 1244.7 516.4C1241.9 507.2 1239.5 497.8 1237.3 488.4C1235.2 479 1233.4 469.5 1231.9 459.9C1230.4 450.4 1229.3 440.8 1228.5 431.2C1227.7 421.6 1227.2 412 1227 402.3C1226.9 392.7 1227.1 383.1 1227.6 373.5C1228.1 363.8 1228.9 354.2 1230.1 344.7C1231.3 335.1 1232.8 325.6 1234.6 316.1C1236.4 306.6 1238.6 297.2 1241 287.9C1243.5 278.5 1248.1 264.8 1249.5 260.1" fill="none" stroke="#1c84a2" stroke-width="28.5" stroke-linecap="round" stroke-linejoin="round" /><path d="M1311 645.2C1308.2 641.2 1299.4 629.6 1294 621.5C1288.6 613.4 1283.5 605 1278.8 596.6C1274 588.1 1269.6 579.4 1265.5 570.7C1261.4 561.9 1257.6 552.9 1254.1 543.9C1250.7 534.8 1247.5 525.7 1244.7 516.4C1241.9 507.2 1239.5 497.8 1237.3 488.4C1235.2 479 1233.4 469.5 1231.9 459.9C1230.4 450.4 1229.3 440.8 1228.5 431.2C1227.7 421.6 1227.2 412 1227 402.3C1226.9 392.7 1227.1 383.1 1227.6 373.5C1228.1 363.8 1228.9 354.2 1230.1 344.7C1231.3 335.1 1232.8 325.6 1234.6 316.1C1236.4 306.6 1238.6 297.2 1241 287.9C1243.5 278.5 1248.1 264.8 1249.5 260.1" fill="none" stroke="#c2e5e8" stroke-width="19.9" stroke-linecap="round" stroke-linejoin="round" /><path d="M1274 203.2C1276.9 198.2 1285.2 183 1291.4 173.4C1297.6 163.7 1308 149.8 1311.4 145.1" fill="none" stroke="#1c84a2" stroke-width="28.5" stroke-linecap="round" stroke-linejoin="round" /><path d="M1274 203.2C1276.9 198.2 1285.2 183 1291.4 173.4C1297.6 163.7 1308 149.8 1311.4 145.1" fill="none" stroke="#c2e5e8" stroke-width="19.9" stroke-linecap="round" stroke-linejoin="round" /><path d="M2047.9 501.7C2046.4 506.9 2042.3 522.6 2038.9 532.9C2035.6 543.2 2031.8 553.4 2027.8 563.4C2023.7 573.5 2019.3 583.4 2014.6 593.2C2009.8 602.9 2004.7 612.5 1999.3 621.9C1993.8 631.3 1988.1 640.5 1982 649.5C1975.9 658.5 1969.4 667.3 1962.7 675.8C1956 684.4 1948.9 692.7 1941.6 700.8C1934.2 708.8 1926.6 716.6 1918.6 724.1C1910.7 731.6 1898.1 742.1 1894 745.7" fill="none" stroke="#1c84a2" stroke-width="28.5" stroke-linecap="round" stroke-linejoin="round" /><path d="M2047.9 501.7C2046.4 506.9 2042.3 522.6 2038.9 532.9C2035.6 543.2 2031.8 553.4 2027.8 563.4C2023.7 573.5 2019.3 583.4 2014.6 593.2C2009.8 602.9 2004.7 612.5 1999.3 621.9C1993.8 631.3 1988.1 640.5 1982 649.5C1975.9 658.5 1969.4 667.3 1962.7 675.8C1956 684.4 1948.9 692.7 1941.6 700.8C1934.2 708.8 1926.6 716.6 1918.6 724.1C1910.7 731.6 1898.1 742.1 1894 745.7" fill="none" stroke="#c2e5e8" stroke-width="19.9" stroke-linecap="round" stroke-linejoin="round" /><path d="M1829.8 789.5C1824.9 791.8 1810.4 799.2 1800.4 803.4C1790.5 807.7 1780.3 811.6 1770.1 815C1759.9 818.5 1749.5 821.6 1739.1 824.3C1728.6 827 1718 829.4 1707.4 831.3C1696.8 833.2 1686.1 834.7 1675.4 835.8C1664.7 837 1654 837.7 1643.2 838.1C1632.5 838.4 1621.7 838.4 1611 837.9C1600.3 837.5 1589.5 836.7 1578.9 835.5C1568.2 834.3 1557.6 832.8 1547.1 830.9C1536.5 828.9 1526 826.6 1515.7 824C1505.3 821.4 1495 818.3 1484.9 815C1474.7 811.7 1459.8 805.8 1454.8 803.9" fill="none" stroke="#1c84a2" stroke-width="28.5" stroke-linecap="round" stroke-linejoin="round" /><path d="M1829.8 789.5C1824.9 791.8 1810.4 799.2 1800.4 803.4C1790.5 807.7 1780.3 811.6 1770.1 815C1759.9 818.5 1749.5 821.6 1739.1 824.3C1728.6 827 1718 829.4 1707.4 831.3C1696.8 833.2 1686.1 834.7 1675.4 835.8C1664.7 837 1654 837.7 1643.2 838.1C1632.5 838.4 1621.7 838.4 1611 837.9C1600.3 837.5 1589.5 836.7 1578.9 835.5C1568.2 834.3 1557.6 832.8 1547.1 830.9C1536.5 828.9 1526 826.6 1515.7 824C1505.3 821.4 1495 818.3 1484.9 815C1474.7 811.7 1459.8 805.8 1454.8 803.9" fill="none" stroke="#c2e5e8" stroke-width="19.9" stroke-linecap="round" stroke-linejoin="round" /><path d="M1390 777.8C1385.4 774.7 1371.3 765.8 1362.3 759.3C1353.4 752.8 1344.6 745.9 1336.2 738.7C1327.8 731.5 1319.6 724 1311.8 716.2C1304 708.4 1296.4 700.3 1289.2 691.9C1282 683.5 1275.1 674.9 1268.5 666C1262 657.1 1255.8 648 1249.9 638.7C1244 629.4 1238.5 619.9 1233.3 610.2C1228.1 600.5 1223.3 590.6 1218.8 580.5C1214.4 570.5 1210.3 560.3 1206.5 550C1202.8 539.6 1199.4 529.2 1196.5 518.6C1193.5 508.1 1189.9 492 1188.6 486.7" fill="none" stroke="#1c84a2" stroke-width="28.5" stroke-linecap="round" stroke-linejoin="round" /><path d="M1390 777.8C1385.4 774.7 1371.3 765.8 1362.3 759.3C1353.4 752.8 1344.6 745.9 1336.2 738.7C1327.8 731.5 1319.6 724 1311.8 716.2C1304 708.4 1296.4 700.3 1289.2 691.9C1282 683.5 1275.1 674.9 1268.5 666C1262 657.1 1255.8 648 1249.9 638.7C1244 629.4 1238.5 619.9 1233.3 610.2C1228.1 600.5 1223.3 590.6 1218.8 580.5C1214.4 570.5 1210.3 560.3 1206.5 550C1202.8 539.6 1199.4 529.2 1196.5 518.6C1193.5 508.1 1189.9 492 1188.6 486.7" fill="none" stroke="#c2e5e8" stroke-width="19.9" stroke-linecap="round" stroke-linejoin="round" /><path d="M1179.2 410.4C1179.2 404.7 1178.9 387.7 1179.4 376.3C1179.9 365 1180.8 353.6 1182.1 342.3C1183.4 331.1 1185.1 319.8 1187.2 308.6C1189.4 297.5 1191.9 286.4 1194.8 275.4C1197.8 264.4 1201.1 253.5 1204.9 242.7C1208.6 232 1212.8 221.3 1217.3 210.9C1221.9 200.4 1229.7 185.2 1232.2 180" fill="none" stroke="#1c84a2" stroke-width="28.5" stroke-linecap="round" stroke-linejoin="round" /><path d="M1179.2 410.4C1179.2 404.7 1178.9 387.7 1179.4 376.3C1179.9 365 1180.8 353.6 1182.1 342.3C1183.4 331.1 1185.1 319.8 1187.2 308.6C1189.4 297.5 1191.9 286.4 1194.8 275.4C1197.8 264.4 1201.1 253.5 1204.9 242.7C1208.6 232 1212.8 221.3 1217.3 210.9C1221.9 200.4 1229.7 185.2 1232.2 180" fill="none" stroke="#c2e5e8" stroke-width="19.9" stroke-linecap="round" stroke-linejoin="round" /><path d="M2066.2 593.7C2063.3 599.5 2054.9 617.2 2048.6 628.7C2042.3 640.1 2035.5 651.3 2028.3 662.2C2021.2 673.1 2013.6 683.8 2005.6 694.1C1997.7 704.5 1989.3 714.5 1980.6 724.2C1971.8 733.9 1957.8 747.7 1953.2 752.4" fill="none" stroke="#1c84a2" stroke-width="28.5" stroke-linecap="round" stroke-linejoin="round" /><path d="M2066.2 593.7C2063.3 599.5 2054.9 617.2 2048.6 628.7C2042.3 640.1 2035.5 651.3 2028.3 662.2C2021.2 673.1 2013.6 683.8 2005.6 694.1C1997.7 704.5 1989.3 714.5 1980.6 724.2C1971.8 733.9 1957.8 747.7 1953.2 752.4" fill="none" stroke="#c2e5e8" stroke-width="19.9" stroke-linecap="round" stroke-linejoin="round" /><path d="M1864.1 817.9C1859.2 820.6 1844.4 829.2 1834.3 834.4C1824.1 839.5 1813.8 844.3 1803.3 848.7C1792.8 853 1782.1 857.1 1771.3 860.7C1760.5 864.3 1749.5 867.5 1738.5 870.3C1727.5 873.1 1716.3 875.6 1705.1 877.5C1693.9 879.5 1682.5 881.1 1671.2 882.3C1659.9 883.5 1648.5 884.2 1637.1 884.5C1625.7 884.9 1614.3 884.8 1602.9 884.3C1591.5 883.8 1580.2 882.8 1568.9 881.5C1557.6 880.2 1546.3 878.4 1535.1 876.3C1524 874.1 1512.9 871.6 1501.9 868.6C1490.9 865.7 1480.1 862.4 1469.3 858.7C1458.6 855 1448 850.9 1437.6 846.5C1427.2 842 1416.9 837.2 1406.8 832.1C1396.7 826.9 1386.8 821.4 1377.1 815.6C1367.5 809.8 1353.4 800.3 1348.7 797.2" fill="none" stroke="#1c84a2" stroke-width="28.5" stroke-linecap="round" stroke-linejoin="round" /><path d="M1864.1 817.9C1859.2 820.6 1844.4 829.2 1834.3 834.4C1824.1 839.5 1813.8 844.3 1803.3 848.7C1792.8 853 1782.1 857.1 1771.3 860.7C1760.5 864.3 1749.5 867.5 1738.5 870.3C1727.5 873.1 1716.3 875.6 1705.1 877.5C1693.9 879.5 1682.5 881.1 1671.2 882.3C1659.9 883.5 1648.5 884.2 1637.1 884.5C1625.7 884.9 1614.3 884.8 1602.9 884.3C1591.5 883.8 1580.2 882.8 1568.9 881.5C1557.6 880.2 1546.3 878.4 1535.1 876.3C1524 874.1 1512.9 871.6 1501.9 868.6C1490.9 865.7 1480.1 862.4 1469.3 858.7C1458.6 855 1448 850.9 1437.6 846.5C1427.2 842 1416.9 837.2 1406.8 832.1C1396.7 826.9 1386.8 821.4 1377.1 815.6C1367.5 809.8 1353.4 800.3 1348.7 797.2" fill="none" stroke="#c2e5e8" stroke-width="19.9" stroke-linecap="round" stroke-linejoin="round" /><path d="M1292.1 759.2C1287.6 754.6 1273.7 741.3 1265 731.9C1256.3 722.5 1248 712.7 1240.1 702.6C1232.2 692.6 1224.6 682.2 1217.5 671.6C1210.3 661 1200.6 644.5 1197.3 639.1" fill="none" stroke="#1c84a2" stroke-width="28.5" stroke-linecap="round" stroke-linejoin="round" /><path d="M1292.1 759.2C1287.6 754.6 1273.7 741.3 1265 731.9C1256.3 722.5 1248 712.7 1240.1 702.6C1232.2 692.6 1224.6 682.2 1217.5 671.6C1210.3 661 1200.6 644.5 1197.3 639.1" fill="none" stroke="#c2e5e8" stroke-width="19.9" stroke-linecap="round" stroke-linejoin="round" /><path d="M1174.2 593.5C1172 588.2 1165.2 572.6 1161.2 562C1157.3 551.3 1153.7 540.5 1150.4 529.6C1147.2 518.8 1144.3 507.7 1141.8 496.6C1139.3 485.6 1137.2 474.3 1135.4 463.1C1133.7 451.9 1132.3 440.5 1131.3 429.2C1130.3 417.8 1129.7 406.4 1129.5 395C1129.3 383.6 1129.5 372.1 1130.1 360.7C1130.6 349.3 1131.6 337.9 1133 326.6C1134.4 315.2 1136.2 303.9 1138.4 292.6C1140.6 281.4 1144.9 264.7 1146.2 259.1" fill="none" stroke="#1c84a2" stroke-width="28.5" stroke-linecap="round" stroke-linejoin="round" /><path d="M1174.2 593.5C1172 588.2 1165.2 572.6 1161.2 562C1157.3 551.3 1153.7 540.5 1150.4 529.6C1147.2 518.8 1144.3 507.7 1141.8 496.6C1139.3 485.6 1137.2 474.3 1135.4 463.1C1133.7 451.9 1132.3 440.5 1131.3 429.2C1130.3 417.8 1129.7 406.4 1129.5 395C1129.3 383.6 1129.5 372.1 1130.1 360.7C1130.6 349.3 1131.6 337.9 1133 326.6C1134.4 315.2 1136.2 303.9 1138.4 292.6C1140.6 281.4 1144.9 264.7 1146.2 259.1" fill="none" stroke="#c2e5e8" stroke-width="19.9" stroke-linecap="round" stroke-linejoin="round" /><path d="M1152.5 664.9C1149.6 659.1 1140.3 642 1134.9 630.3C1129.4 618.6 1124.4 606.6 1119.7 594.6C1115.1 582.5 1110.9 570.3 1107.2 557.9C1103.4 545.6 1100.1 533.1 1097.2 520.5C1094.4 507.9 1091.9 495.2 1089.9 482.5C1087.9 469.8 1086.3 457 1085.2 444.1C1084 431.3 1083.4 418.4 1083.1 405.5C1082.9 392.7 1083.6 373.3 1083.7 366.9" fill="none" stroke="#1c84a2" stroke-width="28.5" stroke-linecap="round" stroke-linejoin="round" /><path d="M1152.5 664.9C1149.6 659.1 1140.3 642 1134.9 630.3C1129.4 618.6 1124.4 606.6 1119.7 594.6C1115.1 582.5 1110.9 570.3 1107.2 557.9C1103.4 545.6 1100.1 533.1 1097.2 520.5C1094.4 507.9 1091.9 495.2 1089.9 482.5C1087.9 469.8 1086.3 457 1085.2 444.1C1084 431.3 1083.4 418.4 1083.1 405.5C1082.9 392.7 1083.6 373.3 1083.7 366.9" fill="none" stroke="#c2e5e8" stroke-width="19.9" stroke-linecap="round" stroke-linejoin="round" /><path d="M1365.7 873.2C1359.7 869.8 1341.3 860 1329.5 852.7C1317.7 845.5 1306.2 837.7 1295 829.5C1283.8 821.2 1272.9 812.5 1262.4 803.5C1251.9 794.4 1241.8 784.8 1232 774.9C1222.3 765 1208.7 749.2 1204.1 744" fill="none" stroke="#1c84a2" stroke-width="28.5" stroke-linecap="round" stroke-linejoin="round" /><path d="M1365.7 873.2C1359.7 869.8 1341.3 860 1329.5 852.7C1317.7 845.5 1306.2 837.7 1295 829.5C1283.8 821.2 1272.9 812.5 1262.4 803.5C1251.9 794.4 1241.8 784.8 1232 774.9C1222.3 765 1208.7 749.2 1204.1 744" fill="none" stroke="#c2e5e8" stroke-width="19.9" stroke-linecap="round" stroke-linejoin="round" /><path d="M2068 410C2068.7 416.7 2069.2 435 2072 450C2074.8 465 2083.7 481.7 2085 500C2086.3 518.3 2080.8 550 2080 560" fill="none" stroke="#1c84a2" stroke-width="19" stroke-linecap="round" stroke-linejoin="round" /><path d="M2068 410C2068.7 416.7 2069.2 435 2072 450C2074.8 465 2083.7 481.7 2085 500C2086.3 518.3 2080.8 550 2080 560" fill="none" stroke="#c2e5e8" stroke-width="11" stroke-linecap="round" stroke-linejoin="round" /><path d="M2003 445C2004.2 450.8 2005.5 467.5 2010 480C2014.5 492.5 2026.7 513.3 2030 520" fill="none" stroke="#1c84a2" stroke-width="19" stroke-linecap="round" stroke-linejoin="round" /><path d="M2003 445C2004.2 450.8 2005.5 467.5 2010 480C2014.5 492.5 2026.7 513.3 2030 520" fill="none" stroke="#c2e5e8" stroke-width="11" stroke-linecap="round" stroke-linejoin="round" /><path d="M1303 150C1296.2 158.3 1275 182.5 1262 200C1249 217.5 1234.5 238.3 1225 255C1215.5 271.7 1208.3 292.5 1205 300" fill="none" stroke="#1c84a2" stroke-width="27" stroke-linecap="round" stroke-linejoin="round" /><path d="M1303 150C1296.2 158.3 1275 182.5 1262 200C1249 217.5 1234.5 238.3 1225 255C1215.5 271.7 1208.3 292.5 1205 300" fill="none" stroke="#c2e5e8" stroke-width="19" stroke-linecap="round" stroke-linejoin="round" /><path d="M1190 205C1186.7 202.5 1175.8 188.3 1170 190C1164.2 191.7 1158 203.3 1155 215C1152 226.7 1150.3 245.8 1152 260C1153.7 274.2 1160.3 286.7 1165 300C1169.7 313.3 1177.5 333.3 1180 340" fill="none" stroke="#1c84a2" stroke-width="27" stroke-linecap="round" stroke-linejoin="round" /><path d="M1190 205C1186.7 202.5 1175.8 188.3 1170 190C1164.2 191.7 1158 203.3 1155 215C1152 226.7 1150.3 245.8 1152 260C1153.7 274.2 1160.3 286.7 1165 300C1169.7 313.3 1177.5 333.3 1180 340" fill="none" stroke="#c2e5e8" stroke-width="19" stroke-linecap="round" stroke-linejoin="round" /><path d="M1115 310C1114.7 320 1112.5 350 1113 370C1113.5 390 1117.2 420 1118 430" fill="none" stroke="#1c84a2" stroke-width="27" stroke-linecap="round" stroke-linejoin="round" /><path d="M1115 310C1114.7 320 1112.5 350 1113 370C1113.5 390 1117.2 420 1118 430" fill="none" stroke="#c2e5e8" stroke-width="19" stroke-linecap="round" stroke-linejoin="round" /><path d="M1067 415C1065.5 410 1061.7 392.8 1058 385C1054.3 377.2 1049 366.3 1045 368C1041 369.7 1035.5 383 1034 395C1032.5 407 1031.7 424.2 1036 440C1040.3 455.8 1056 481.7 1060 490" fill="none" stroke="#1c84a2" stroke-width="27" stroke-linecap="round" stroke-linejoin="round" /><path d="M1067 415C1065.5 410 1061.7 392.8 1058 385C1054.3 377.2 1049 366.3 1045 368C1041 369.7 1035.5 383 1034 395C1032.5 407 1031.7 424.2 1036 440C1040.3 455.8 1056 481.7 1060 490" fill="none" stroke="#c2e5e8" stroke-width="19" stroke-linecap="round" stroke-linejoin="round" /><g fill="#23272f"><circle cx="1980.9" cy="485.7" r="5"/><circle cx="1970.2" cy="517.8" r="5"/><circle cx="1952.6" cy="548.3" r="5"/><circle cx="1941.2" cy="591.6" r="5"/><circle cx="1919.5" cy="609.1" r="5"/><circle cx="1897.3" cy="652.3" r="5"/><circle cx="1868.2" cy="670.2" r="5"/><circle cx="1806.4" cy="713.5" r="5"/><circle cx="1791.5" cy="719.1" r="5"/><circle cx="1760.7" cy="744.2" r="5"/><circle cx="1730.1" cy="751.5" r="5"/><circle cx="1684.5" cy="759.6" r="5"/><circle cx="1631.3" cy="762.7" r="5"/><circle cx="1581.1" cy="763.9" r="5"/><circle cx="1556.2" cy="762.7" r="5"/><circle cx="1520.1" cy="750.4" r="5"/><circle cx="1477.5" cy="741.6" r="5"/><circle cx="1459.7" cy="731.9" r="5"/><circle cx="1420.8" cy="715.4" r="5"/><circle cx="1392.9" cy="685.9" r="5"/><circle cx="1364" cy="657.5" r="5"/><circle cx="1343.9" cy="649.6" r="5"/><circle cx="1328.8" cy="626.2" r="5"/><circle cx="1308.2" cy="602.2" r="5"/><circle cx="1283.1" cy="555.1" r="5"/><circle cx="1272.2" cy="519.4" r="5"/><circle cx="1259.6" cy="492.3" r="5"/><circle cx="1254.6" cy="461.2" r="5"/><circle cx="1242.7" cy="421" r="5"/><circle cx="1245.7" cy="395.7" r="5"/><circle cx="1245.9" cy="371.9" r="5"/><circle cx="1248.3" cy="321.6" r="5"/><circle cx="1267.5" cy="286.1" r="5"/><circle cx="1269.9" cy="262.6" r="5"/><circle cx="1282.1" cy="240.6" r="5"/><circle cx="1303.9" cy="209.3" r="5"/><circle cx="1313.3" cy="177.9" r="5"/><circle cx="1341.4" cy="153.9" r="5"/><circle cx="2031.5" cy="508.5" r="5"/><circle cx="2017.9" cy="528.6" r="5"/><circle cx="2005" cy="548.4" r="5"/><circle cx="1989.9" cy="586.9" r="5"/><circle cx="1964.1" cy="627.5" r="5"/><circle cx="1967.1" cy="642.5" r="5"/><circle cx="1927.5" cy="673.8" r="5"/><circle cx="1902.3" cy="697" r="5"/><circle cx="1885.4" cy="729.1" r="5"/><circle cx="1846.8" cy="751.8" r="5"/><circle cx="1830.2" cy="756.5" r="5"/><circle cx="1805" cy="776.3" r="5"/><circle cx="1763.2" cy="794" r="5"/><circle cx="1733.8" cy="795.2" r="5"/><circle cx="1688.8" cy="816.2" r="5"/><circle cx="1652.8" cy="818" r="5"/><circle cx="1619.2" cy="818.4" r="5"/><circle cx="1602.3" cy="814.9" r="5"/><circle cx="1565.3" cy="804.8" r="5"/><circle cx="1540.7" cy="804.3" r="5"/><circle cx="1499.5" cy="800.1" r="5"/><circle cx="1449.2" cy="777.9" r="5"/><circle cx="1415.5" cy="769.6" r="5"/><circle cx="1390" cy="744.1" r="5"/><circle cx="1380.6" cy="735.4" r="5"/><circle cx="1354.4" cy="715" r="5"/><circle cx="1313.4" cy="690.2" r="5"/><circle cx="1291" cy="655.6" r="5"/><circle cx="1270.2" cy="635" r="5"/><circle cx="1262.1" cy="619.1" r="5"/><circle cx="1232.9" cy="567.9" r="5"/><circle cx="1225.7" cy="538.8" r="5"/><circle cx="1215.9" cy="523.6" r="5"/><circle cx="1205.6" cy="485.8" r="5"/><circle cx="1203.1" cy="432.4" r="5"/><circle cx="1194.2" cy="415.3" r="5"/><circle cx="1205.3" cy="371.5" r="5"/><circle cx="1206.8" cy="355.1" r="5"/><circle cx="1207.1" cy="297.3" r="5"/><circle cx="1209.8" cy="285.5" r="5"/><circle cx="1231.2" cy="230.3" r="5"/><circle cx="1239.1" cy="216.4" r="5"/><circle cx="1258.3" cy="195.2" r="5"/><circle cx="2081" cy="483.4" r="5"/><circle cx="2069.7" cy="540.1" r="5"/><circle cx="2062.9" cy="552.3" r="5"/><circle cx="2036.1" cy="595.8" r="5"/><circle cx="2026.6" cy="637.7" r="5"/><circle cx="2019.8" cy="648.4" r="5"/><circle cx="1991.5" cy="677.7" r="5"/><circle cx="1960.3" cy="721.6" r="5"/><circle cx="1951.3" cy="722.8" r="5"/><circle cx="1916.9" cy="752.6" r="5"/><circle cx="1898.2" cy="766.9" r="5"/><circle cx="1831.6" cy="810.4" r="5"/><circle cx="1816" cy="816.3" r="5"/><circle cx="1767" cy="838.4" r="5"/><circle cx="1683.4" cy="854.4" r="5"/><circle cx="1610.5" cy="856.7" r="5"/><circle cx="1525.7" cy="848.9" r="5"/><circle cx="1466.1" cy="838.9" r="5"/><circle cx="1401.5" cy="806.6" r="5"/><circle cx="1328.8" cy="766.4" r="5"/><circle cx="1302.8" cy="744.6" r="5"/><circle cx="1274.9" cy="706.3" r="5"/><circle cx="1244.6" cy="682.7" r="5"/><circle cx="1239" cy="656" r="5"/><circle cx="1215.5" cy="621" r="5"/><circle cx="1207" cy="602.5" r="5"/><circle cx="1193.1" cy="573.8" r="5"/><circle cx="1177.2" cy="534.6" r="5"/><circle cx="1165.3" cy="487.7" r="5"/><circle cx="1162.4" cy="462.3" r="5"/><circle cx="1154.2" cy="353.3" r="5"/><circle cx="1157" cy="337.1" r="5"/><circle cx="1172.8" cy="281" r="5"/><circle cx="1176.8" cy="250.8" r="5"/><circle cx="2088.7" cy="591" r="5"/><circle cx="2038.2" cy="685" r="5"/><circle cx="2018.4" cy="715.8" r="5"/><circle cx="2012.1" cy="723.8" r="5"/><circle cx="1972.4" cy="764.9" r="5"/><circle cx="1953.8" cy="795.9" r="5"/><circle cx="1928.7" cy="805.1" r="5"/><circle cx="1903.7" cy="827.9" r="5"/><circle cx="1864.9" cy="849.9" r="5"/><circle cx="1835.2" cy="856.4" r="5"/><circle cx="1821.5" cy="865.2" r="5"/><circle cx="1770" cy="884.8" r="5"/><circle cx="1742.4" cy="888.2" r="5"/><circle cx="1728" cy="895.2" r="5"/><circle cx="1673.6" cy="909.9" r="5"/><circle cx="1639.1" cy="906.7" r="5"/><circle cx="1610.9" cy="909.4" r="5"/><circle cx="1579.1" cy="903" r="5"/><circle cx="1530.4" cy="897.9" r="5"/><circle cx="1491.9" cy="900.1" r="5"/><circle cx="1494" cy="893.8" r="5"/><circle cx="1431.6" cy="881.3" r="5"/><circle cx="1416.1" cy="864.4" r="5"/><circle cx="1388.9" cy="862.2" r="5"/><circle cx="1361.1" cy="841.5" r="5"/><circle cx="1334.7" cy="824.1" r="5"/><circle cx="1287.8" cy="781.8" r="5"/><circle cx="1262.7" cy="766.1" r="5"/><circle cx="1235.4" cy="741.7" r="5"/><circle cx="1226.3" cy="735.6" r="5"/><circle cx="1209" cy="694.2" r="5"/><circle cx="1194.1" cy="684.4" r="5"/><circle cx="1170.4" cy="640.3" r="5"/><circle cx="1159.4" cy="620.4" r="5"/><circle cx="1136.7" cy="586.2" r="5"/><circle cx="1129.9" cy="564.2" r="5"/><circle cx="1121.3" cy="500.2" r="5"/><circle cx="1106.8" cy="465" r="5"/><circle cx="1109.2" cy="431.4" r="5"/><circle cx="1107" cy="416.6" r="5"/><circle cx="1104.9" cy="360" r="5"/><circle cx="1108.1" cy="349.1" r="5"/><circle cx="2010.5" cy="791" r="5"/><circle cx="1998.8" cy="810.8" r="5"/><circle cx="1954" cy="850.7" r="5"/><circle cx="1927.1" cy="866.5" r="5"/><circle cx="1918.2" cy="868.3" r="5"/><circle cx="1866.7" cy="904.2" r="5"/><circle cx="1855.1" cy="899.2" r="5"/><circle cx="1820.6" cy="923.7" r="5"/><circle cx="1789.5" cy="928.3" r="5"/><circle cx="1749.7" cy="949" r="5"/><circle cx="1730.7" cy="940.3" r="5"/><circle cx="1608.3" cy="961.2" r="5"/><circle cx="1586.1" cy="952.8" r="5"/><circle cx="1534.2" cy="948.8" r="5"/><circle cx="1506.9" cy="942.7" r="5"/><circle cx="1495.1" cy="947.7" r="5"/><circle cx="1458.4" cy="940.9" r="5"/><circle cx="1422.1" cy="917.4" r="5"/><circle cx="1399.4" cy="911.7" r="5"/><circle cx="1349.6" cy="896" r="5"/><circle cx="1341.5" cy="882.6" r="5"/><circle cx="1305.9" cy="870.2" r="5"/><circle cx="1260.7" cy="826.5" r="5"/><circle cx="1074.5" cy="511.2" r="5"/><circle cx="1067.3" cy="477.9" r="5"/><circle cx="1057.3" cy="469" r="5"/><circle cx="1058.4" cy="416.3" r="5"/><circle cx="1057.7" cy="412.7" r="5"/><circle cx="1051.9" cy="365.7" r="5"/><circle cx="1793.2" cy="975.5" r="5"/><circle cx="1692" cy="1005.2" r="5"/><circle cx="1658.5" cy="1009.2" r="5"/><circle cx="1752" cy="1005.8" r="5"/><circle cx="1306.8" cy="837.4" r="5"/><circle cx="1924.6" cy="903.2" r="5"/><circle cx="1225.7" cy="834.8" r="5"/><circle cx="1696.7" cy="944.8" r="5"/><circle cx="1230.9" cy="803" r="5"/><circle cx="1868.4" cy="936.8" r="5"/><circle cx="1273.9" cy="869.4" r="5"/><circle cx="1644.8" cy="950.8" r="5"/><circle cx="1457.7" cy="905.3" r="5"/><circle cx="1950.6" cy="887.7" r="5"/><circle cx="1800" cy="891.1" r="5"/><circle cx="1896.2" cy="915.3" r="5"/><circle cx="1990.6" cy="845.5" r="5"/><circle cx="1557.2" cy="970.8" r="5"/><circle cx="1880.7" cy="877.1" r="5"/><circle cx="1551.2" cy="920.7" r="5"/><circle cx="1818.5" cy="955.4" r="5"/><circle cx="1760.8" cy="919.3" r="5"/><circle cx="1297" cy="164.1" r="5"/><circle cx="1215" cy="206.7" r="5"/><circle cx="1154.7" cy="270.9" r="5"/><circle cx="1060.4" cy="358.5" r="5"/><circle cx="1029.5" cy="391.9" r="5"/><circle cx="1037.7" cy="479.5" r="5"/><circle cx="1141.8" cy="624.2" r="5"/><circle cx="1178.4" cy="700.5" r="5"/><circle cx="1217.5" cy="823.7" r="5"/><circle cx="1247.6" cy="858.2" r="5"/><circle cx="1283.2" cy="887.6" r="5"/><circle cx="1326.7" cy="900.2" r="5"/><circle cx="1371.7" cy="910.5" r="5"/><circle cx="1451.6" cy="956.2" r="5"/><circle cx="1676.2" cy="948.2" r="5"/><circle cx="1702.2" cy="994.2" r="5"/><circle cx="1660.5" cy="987.7" r="5"/><circle cx="1852" cy="946.3" r="5"/><circle cx="1892.7" cy="924.3" r="5"/><circle cx="1934.9" cy="905.5" r="5"/><circle cx="1998.6" cy="839.4" r="5"/><circle cx="2011" cy="794.9" r="5"/><circle cx="2026.8" cy="751.5" r="5"/><circle cx="2045.8" cy="709.4" r="5"/><circle cx="2077" cy="622.5" r="5"/><circle cx="2097.7" cy="490.1" r="5"/><circle cx="2058.8" cy="469.9" r="5"/></g><path d="M1640 43C1671.7 46.3 1726.2 57 1760 72C1793.8 87 1813.8 106.2 1843 133C1872.2 159.8 1912.5 190.2 1935 233C1957.5 275.8 1979.2 335.5 1978 390C1976.8 444.5 1957.5 510.3 1928 560C1898.5 609.7 1850 659.3 1801 688C1752 716.7 1678.5 727.7 1634 732C1589.5 736.3 1568.5 727 1534 714C1499.5 701 1458.2 680.7 1427 654C1395.8 627.3 1369.8 596.3 1347 554C1324.2 511.7 1295.2 445.7 1290 400C1284.8 354.3 1302.7 314 1316 280C1329.3 246 1352.7 220.7 1370 196C1387.3 171.3 1398.3 151.7 1420 132C1441.7 112.3 1475 91.3 1500 78C1525 64.7 1546.7 57.8 1570 52C1593.3 46.2 1608.3 39.7 1640 43Z" fill="url(#gNuc)" stroke="#2a7ca6" stroke-width="4"/><g clip-path="url(#cNuc)"><circle cx="1614" cy="376" r="353" fill="none" stroke="#478db9" stroke-width="46" opacity="0.75"/></g><g transform="translate(1565 70) rotate(0)"><ellipse rx="14.5" ry="7.5" fill="#4f94be" stroke="#2a7ca6" stroke-width="3.2"/><path d="M-11 2A12 5 0 0 0 11 2A13 9 0 0 1 -11 2Z" fill="#8dc2dc" opacity="0.9"/></g><g transform="translate(1693 70) rotate(5)"><ellipse rx="14.5" ry="7.5" fill="#4f94be" stroke="#2a7ca6" stroke-width="3.2"/><path d="M-11 2A12 5 0 0 0 11 2A13 9 0 0 1 -11 2Z" fill="#8dc2dc" opacity="0.9"/></g><g transform="translate(1841 139) rotate(45)"><ellipse rx="14.5" ry="7.5" fill="#4f94be" stroke="#2a7ca6" stroke-width="3.2"/><path d="M-11 2A12 5 0 0 0 11 2A13 9 0 0 1 -11 2Z" fill="#8dc2dc" opacity="0.9"/></g><g transform="translate(1920 242) rotate(68)"><ellipse rx="14.5" ry="7.5" fill="#4f94be" stroke="#2a7ca6" stroke-width="3.2"/><path d="M-11 2A12 5 0 0 0 11 2A13 9 0 0 1 -11 2Z" fill="#8dc2dc" opacity="0.9"/></g><g transform="translate(1952 376) rotate(88)"><ellipse rx="14.5" ry="7.5" fill="#4f94be" stroke="#2a7ca6" stroke-width="3.2"/><path d="M-11 2A12 5 0 0 0 11 2A13 9 0 0 1 -11 2Z" fill="#8dc2dc" opacity="0.9"/></g><g transform="translate(1936 472) rotate(100)"><ellipse rx="14.5" ry="7.5" fill="#4f94be" stroke="#2a7ca6" stroke-width="3.2"/><path d="M-11 2A12 5 0 0 0 11 2A13 9 0 0 1 -11 2Z" fill="#8dc2dc" opacity="0.9"/></g><g transform="translate(1877 588) rotate(128)"><ellipse rx="14.5" ry="7.5" fill="#4f94be" stroke="#2a7ca6" stroke-width="3.2"/><path d="M-11 2A12 5 0 0 0 11 2A13 9 0 0 1 -11 2Z" fill="#8dc2dc" opacity="0.9"/></g><g transform="translate(1800 656) rotate(148)"><ellipse rx="14.5" ry="7.5" fill="#4f94be" stroke="#2a7ca6" stroke-width="3.2"/><path d="M-11 2A12 5 0 0 0 11 2A13 9 0 0 1 -11 2Z" fill="#8dc2dc" opacity="0.9"/></g><g transform="translate(1666 696) rotate(178)"><ellipse rx="14.5" ry="7.5" fill="#4f94be" stroke="#2a7ca6" stroke-width="3.2"/><path d="M-11 2A12 5 0 0 0 11 2A13 9 0 0 1 -11 2Z" fill="#8dc2dc" opacity="0.9"/></g><g transform="translate(1579 676) rotate(185)"><ellipse rx="14.5" ry="7.5" fill="#4f94be" stroke="#2a7ca6" stroke-width="3.2"/><path d="M-11 2A12 5 0 0 0 11 2A13 9 0 0 1 -11 2Z" fill="#8dc2dc" opacity="0.9"/></g><g transform="translate(1424 647) rotate(205)"><ellipse rx="14.5" ry="7.5" fill="#4f94be" stroke="#2a7ca6" stroke-width="3.2"/><path d="M-11 2A12 5 0 0 0 11 2A13 9 0 0 1 -11 2Z" fill="#8dc2dc" opacity="0.9"/></g><ellipse cx="1602" cy="366" rx="312" ry="281" fill="#9cc7e1" stroke="#2a7ca6" stroke-width="3.5"/><ellipse cx="1602" cy="366" rx="297" ry="266" fill="url(#gNin)" stroke="#2a7ca6" stroke-width="3"/><g clip-path="url(#cRing)"><path d="M1250 285L1327 305L1432 342L1540 420L1635 408L1908 502L2000 540L2000 800L1250 800Z" fill="#a9d9dc" opacity="0.75"/><ellipse cx="1602" cy="362" rx="282" ry="251" fill="none" stroke="#8fc6d4" stroke-width="20" opacity="0.55"/><path d="M1327 305L1432 342M1635 408L1908 502" stroke="#2a7ca6" stroke-width="2.5" fill="none"/><path d="M1366.6 245.3L1373.3 235.5L1380 226.7L1386.5 218.9L1392.6 212.2L1397.8 206.8L1402 202.7L1409.4 204L1418.6 209.8L1425.7 216.9L1430.5 224.8L1432.8 233L1432.7 241L1430.3 248.2L1425.8 254.3L1419.5 258.8L1411.9 261.3L1403.4 261.7L1394.4 259.8L1385.7 255.5L1377.6 249L1370.8 240.4L1373.9 234.8L1378.8 228.2L1384.9 220.8L1392.1 212.7L1400.3 204.3L1409.4 195.8L1419.3 187.4L1430 179.3L1441.2 171.6L1452.7 164.5L1464.5 158L1476.4 152.3L1488 147.2L1499.1 142.9L1510.6 142.2L1524.3 152L1535.9 163.6L1545.2 176.6L1551.7 190.5L1555.6 204.7L1556.7 218.7L1555.1 232.1L1551.2 244.1L1545.1 254.5L1537.4 262.9L1528.4 268.9L1518.8 272.5L1509 273.5L1499.7 272.1L1491.3 268.3L1484.3 262.4L1479.1 254.9L1476 246.1L1475.3 236.6L1477.1 226.7L1481.3 217.2L1487.9 208.5L1496.5 201.1L1507 195.5L1518.8 191.9L1531.5 190.7L1544.5 192.1L1557.4 196L1569.5 202.5L1580.4 211.4L1589.6 222.4L1596.6 235.2L1601.2 249.3L1603.1 264.3L1602.3 279.7L1598.7 294.8L1592.5 309.3L1583.9 322.5L1573.2 334.2L1561 343.8L1547.5 351.2L1533.4 356.2L1519.3 358.8L1505.7 358.9L1493.1 356.7L1482 352.5L1472.8 346.7L1465.9 339.6L1461.4 331.7L1459.5 323.5L1460.1 315.5L1463.2 308.3L1468.6 302.2L1475.8 297.7L1484.5 295.2L1494.2 294.8L1504.4 296.7L1514.4 301L1523.9 307.5L1532.2 316.1L1538.9 326.5L1543.5 338.3L1545.8 351.1L1545.6 364.4L1542.6 377.6L1536.9 390.3L1528.7 401.9L1518.2 411.9L1505.7 420L1491.6 425.7L1476.4 428.9L1460.6 429.3L1444.9 426.9L1429.6 421.9L1415.5 414.3L1402.9 404.6L1392.2 392.9L1383.8 379.9L1378 366L1374.7 351.8L1374.1 337.8L1376 324.5L1380.2 312.4L1386.3 302L1393.9 293.6L1402.6 287.6L1411.9 284L1421.2 283L1429.9 284.4L1437.5 288.2L1443.6 294.1L1447.8 301.6L1449.8 310.4L1449.3 319.9L1446.2 329.8L1440.6 339.3L1432.6 348L1422.4 355.4L1410.4 361L1397 364.6L1382.6 365.8L1367.9 364.4L1353.3 360.5L1339.5 354L1331 345.4L1332.1 335.9L1333.9 325.3L1336.4 314L1339.7 302.3L1343.7 290.4L1348.5 278.5L1354 266.9L1360.1 255.8ZM1572.7 300.3L1570.5 304.8L1569 308.8L1568 312.3L1567.6 315.4L1567.8 317.8L1568.4 319.6L1569.5 320.7L1570.9 321.2L1572.7 320.9L1574.7 320L1576.8 318.3L1579 315.9L1581.3 312.9L1583.4 309.2L1585.5 304.9L1587.4 300L1589 294.7L1590.2 288.9L1591.2 282.8L1591.7 276.4L1591.7 269.7L1591.3 263L1590.4 256.2L1589 249.4L1587.1 242.7L1584.7 236.2L1581.9 230L1578.6 224.1L1574.9 218.6L1570.9 213.6L1566.6 209L1562.1 205L1557.4 201.5L1552.6 198.7L1547.8 196.4L1543.1 194.8L1538.5 193.7L1534.1 193.3L1530 193.4L1526.3 194L1523 195.1L1520.2 196.6L1517.9 198.5L1516.3 200.7L1515.3 203.1L1515 205.7L1515.3 208.5L1516.4 211.2L1518.2 213.9L1520.7 216.4L1523.9 218.8L1527.8 220.9L1532.3 222.7L1537.4 224.1L1543 225.1L1549.1 225.7L1555.5 225.7L1562.3 225.2L1569.3 224.2L1576.5 222.6L1583.8 220.5L1591.1 217.8L1598.2 214.7L1605.2 211.1L1611.9 207L1618.3 202.6L1624.3 197.9L1629.9 192.9L1634.8 187.7L1639.3 182.3L1643.1 177L1646.3 171.6L1648.8 166.4L1650.6 161.4L1651.8 156.6L1652.3 152.2L1652.1 148.2L1651.4 144.6L1650.1 141.6L1648.3 139.2L1646.1 137.4L1643.4 136.2L1640.5 135.8L1637.3 136L1633.9 137L1630.5 138.7L1627.1 141L1623.7 144.1L1620.5 147.8L1617.6 152.1L1615 156.9L1612.8 162.3L1611 168L1609.7 174.2L1609 180.6L1608.8 187.2L1609.3 194L1610.4 200.8L1612.1 207.6L1614.5 214.2L1617.5 220.7L1621.1 227L1625.2 232.8L1629.9 238.3L1635 243.4L1640.4 247.9L1646.3 252L1652.3 255.4L1658.6 258.3L1664.9 260.5L1671.2 262.2L1677.4 263.2L1683.4 263.7L1689.2 263.6L1694.6 263L1699.5 261.9L1704 260.3L1707.9 258.5L1711.1 256.3L1713.7 253.8L1715.5 251.2L1716.5 248.5L1716.8 245.8L1716.2 243.1L1714.9 240.5L1712.7 238.1L1709.8 236L1706.1 234.2L1701.7 232.8L1696.7 231.8L1691 231.3L1684.9 231.3L1678.2 231.7L1671.2 232.8L1663.9 234.4L1656.3 236.5L1648.7 239.1L1641 242.2L1633.3 245.9L1625.8 249.9L1618.5 254.3L1611.5 259.1L1604.8 264.1L1598.6 269.3L1592.8 274.6L1587.6 280L1583 285.3L1578.9 290.5L1575.5 295.6ZM1807 246.2L1803.6 249.6L1799.7 252L1795.3 253.5L1790.7 254L1786.1 253.4L1781.7 251.9L1777.7 249.5L1774.3 246.2L1771.6 242.3L1769.8 237.9L1768.9 233L1769.1 227.9L1770.4 222.7L1772.8 217.6L1776.3 212.8L1780.8 208.5L1786.2 204.8L1792.4 201.8L1799 199.9L1801.8 202.5L1805.1 205.7L1808.9 209.5L1813 213.9L1817.3 218.7L1821.7 223.9L1826.2 229.5L1830.6 235.4L1835 241.6L1839.2 248L1843.2 254.6L1847 261.2L1850.4 267.9L1853.6 274.4L1856.4 280.8L1853.4 288.6L1847.6 296.4L1840.8 303.6L1833.2 310L1824.9 315.5L1816.3 319.9L1807.3 323.4L1798.4 325.7L1789.6 327L1781.3 327.2L1773.5 326.4L1766.5 324.7L1760.4 322.2L1755.4 319.1L1751.4 315.3L1748.7 311.2L1747.3 306.8L1747 302.3L1747.9 297.9L1749.9 293.8L1753 290L1756.8 286.8L1761.4 284.2L1766.5 282.3L1771.9 281.2L1777.4 280.9L1782.9 281.5L1788 282.9L1792.6 285.1L1796.5 288.1L1799.6 291.7L1801.6 295.9L1802.6 300.5L1802.3 305.5L1800.7 310.5L1797.9 315.6L1793.8 320.5L1788.5 325.1L1782.1 329.3L1774.7 332.8L1766.4 335.7L1757.4 337.8L1747.9 339L1738.1 339.3L1728.1 338.6L1718.3 337L1708.9 334.5L1699.9 331.1L1691.7 326.8L1684.3 321.9L1678 316.3L1672.7 310.3L1668.7 303.9L1666 297.4L1664.5 290.8L1664.4 284.3L1665.4 278.1L1667.5 272.3L1670.7 267.1L1674.7 262.4L1679.4 258.5L1684.7 255.3L1690.2 252.9L1695.9 251.4L1701.5 250.7L1706.9 250.8L1711.8 251.6L1716 253.1L1719.5 255.1L1722 257.5L1723.6 260.2L1724.1 263L1723.5 265.8L1721.9 268.5L1719.1 270.9L1715.4 272.8L1710.8 274.2L1705.5 274.9L1699.6 274.9L1693.3 274L1686.8 272.2L1680.3 269.6L1673.9 266L1668 261.6L1662.7 256.4L1658.2 250.5L1654.6 244L1652.2 237.1L1651 229.8L1651.1 222.3L1652.6 214.8L1655.5 207.4L1659.8 200.4L1665.4 193.8L1672.3 187.9L1680.3 182.8L1689.2 178.5L1699 175.2L1709.4 173L1720.3 171.9L1731.3 171.8L1742.3 172.9L1753.1 175.1L1763.5 178.3L1773.2 182.4L1782 187.3L1789.9 192.9L1796.7 199L1802.4 205.4L1806.7 212.1L1809.7 218.7L1811.5 225.2L1812 231.3L1811.4 236.9L1809.7 242ZM1479.3 344.3L1487.3 347.5L1495 351.2L1502.3 355.6L1509.1 360.4L1515.3 365.8L1520.8 371.5L1525.5 377.7L1529.3 384.1L1532.3 390.7L1534.3 397.5L1535.3 404.4L1535.3 411.3L1534.3 418L1532.3 424.7L1529.4 431L1525.5 437L1520.8 442.7L1515.3 447.9L1509 452.6L1502.1 456.7L1494.7 460.3L1486.8 463.2L1478.6 465.4L1470.2 467L1461.7 468L1453.2 468.2L1444.8 467.8L1436.7 466.8L1428.9 465.2L1421.6 463.1L1414.8 460.4L1408.5 457.4L1403 453.9L1398.2 450.2L1394.2 446.1L1391 442L1388.6 437.7L1387 433.4L1386.3 429.2L1386.3 425.2L1387.1 421.3L1388.6 417.7L1390.7 414.4L1393.4 411.5L1396.6 409L1400.1 407L1404 405.5L1408 404.5L1412.1 404L1416.2 404L1420.2 404.6L1423.9 405.6L1427.3 407.2L1430.2 409.1L1432.7 411.5L1434.5 414.2L1435.7 417.2L1436.1 420.5L1435.8 423.9L1434.7 427.4L1432.8 430.9L1430 434.3L1426.5 437.7L1422.1 440.8L1417.1 443.6L1411.3 446.1L1404.9 448.2L1397.9 449.9L1390.5 451L1382.7 451.6L1374.6 451.6L1366.4 450.9L1358.2 449.7L1350 447.8L1344.8 444.4L1343 439.6L1341.3 434.6L1339.6 429.4L1338 424L1336.5 418.4L1335.2 412.7L1333.9 406.9L1332.9 401L1332 395L1331.2 389L1330.7 383L1330.3 377L1330.1 371L1330 365L1330.1 359.1L1330.4 353.3L1330.8 347.6L1331.3 342.1L1335.4 337L1343.9 332.9L1352.9 329.3L1362.4 326.4L1372.1 324.2L1381.9 322.6L1391.8 321.6L1401.5 321.4L1411.1 321.8L1420.3 322.8L1429 324.4L1437.2 326.5L1444.7 329.2L1451.5 332.2L1457.5 335.7L1462.6 339.5L1466.8 343.5L1470.1 347.6L1472.4 351.9L1473.7 356.2L1474 360.4L1473.5 364.4L1472 368.3L1469.8 371.9L1466.8 375.2L1463.1 378.1L1458.8 380.6L1454 382.6L1448.8 384.1L1443.4 385.1L1437.8 385.6L1432.2 385.6L1426.7 385L1421.3 384L1416.3 382.4L1411.7 380.5L1407.6 378.1L1404.1 375.4L1401.2 372.4L1399.1 369.1L1397.9 365.7L1397.5 362.2L1397.9 358.7L1399.3 355.3L1401.5 351.9L1404.6 348.8L1408.6 346L1413.4 343.5L1418.9 341.4L1425 339.7L1431.8 338.6L1439.1 338L1446.8 338L1454.7 338.7L1462.9 339.9L1471.1 341.8ZM1860.8 440.2L1857 446.7L1845.7 448.8L1834.5 448.4L1824.1 445.6L1814.8 440.8L1807 434.1L1801.3 426L1797.7 417L1796.5 407.4L1797.6 397.9L1801.1 388.9L1806.8 380.9L1814.3 374.3L1823.3 369.5L1833.4 366.8L1844 366.4L1854.7 368.4L1864.9 372.8L1873.6 379.5L1872.9 387.6L1871.7 397L1869.9 407.4L1867.4 418.7L1864.1 430.4L1859.9 442.5L1855 454.6L1849.2 466.5L1842.9 478L1836 488.9L1828.8 499.1L1816.6 505.1L1801.3 507.1L1786.3 506.7L1772.2 504L1759.5 499.3L1748.5 492.8L1739.7 484.8L1733.3 475.9L1729.4 466.4L1728.2 456.9L1729.5 447.7L1733.1 439.5L1738.9 432.5L1746.4 427.1L1755.1 423.7L1764.7 422.3L1774.5 423L1784 425.9L1792.7 430.8L1800.2 437.5L1805.9 445.6L1809.5 454.9L1810.9 464.9L1809.7 475L1806.1 484.8L1800 493.9L1791.7 501.8L1781.4 508L1769.5 512.2L1756.4 514.2L1742.7 513.8L1728.8 510.9L1715.4 505.5L1702.9 497.8L1691.7 488L1682.5 476.5L1675.4 463.6L1670.7 449.8L1668.6 435.5L1669.2 421.4L1672.3 407.9L1677.8 395.4L1685.4 384.5L1694.7 375.4L1705.3 368.6L1716.6 364.1L1728.2 362L1739.4 362.5L1749.9 365.2L1759.1 370.1L1766.5 376.7L1771.8 384.8L1774.8 393.9L1775.4 403.4L1773.4 412.9L1768.9 421.9L1762.2 430L1753.6 436.5L1743.3 441.3L1731.9 444L1719.8 444.4L1707.7 442.4L1695.9 438L1685.1 431.3L1675.8 422.6L1668.4 412L1663.1 400.1L1660.4 387.2L1660.3 373.9L1662.9 360.5L1668.1 347.7L1675.8 335.8L1685.6 325.3L1697.2 316.6L1710.1 310L1723.9 305.7L1738 303.7L1751.9 304.1L1765 306.8L1776.9 311.5L1787.2 318L1795.4 326L1801.3 334.9L1804.8 344.4L1805.9 354L1804.5 363.1L1800.9 371.3L1795.4 378.3L1788.3 383.7L1780 387.1L1771.1 388.5L1762.1 387.8L1753.4 384.9L1745.7 380L1739.4 373.3L1734.9 365.2L1732.5 355.9L1732.6 346L1735.1 335.8L1740.3 326L1747.9 316.9L1757.9 309L1769.8 302.8L1783.4 298.6L1798.2 296.6L1813.6 297L1829.1 299.9L1844.2 305.3L1858.3 313L1869.6 323L1871.8 335.4L1873.3 348.3L1874 361.4L1873.8 374.5L1872.9 387.3L1871.3 399.6L1869.2 411.3L1866.5 422.1L1863.7 431.8ZM1538.6 581.3L1538.3 585.6L1537.3 589.8L1535.7 593.8L1533.3 597.7L1531.1 598.7L1528.6 598.1L1525.5 597.3L1521.9 596.3L1517.7 595.1L1513 593.7L1507.9 592.1L1502.5 590.3L1496.7 588.2L1490.6 585.9L1484.3 583.3L1477.9 580.5L1471.4 577.4L1464.8 574.1L1458.2 570.6L1451.7 566.9L1445.3 563L1439 558.9L1432.9 554.8L1427.1 550.5L1421.5 546.3L1416.2 542L1411.2 537.8L1406.6 533.6L1402.4 529.7L1398.5 525.9L1398.2 520.1L1399.5 513.8L1401.5 507.9L1404.3 502.3L1407.6 497.3L1411.6 492.7L1416 488.7L1420.9 485.2L1426.1 482.3L1431.6 480L1437.3 478.3L1443.1 477.2L1448.8 476.6L1454.5 476.6L1460.1 477.1L1465.4 478L1470.3 479.4L1474.9 481.1L1479.1 483.2L1482.7 485.5L1485.9 487.9L1488.5 490.5L1490.5 493.1L1491.9 495.7L1492.7 498.2L1493 500.5L1492.7 502.7L1491.9 504.5L1490.6 506L1489 507.2L1487 507.9L1484.7 508.2L1482.2 508L1479.5 507.4L1476.9 506.3L1474.2 504.7L1471.7 502.7L1469.4 500.2L1467.4 497.4L1465.8 494.1L1464.6 490.6L1463.9 486.8L1463.8 482.7L1464.3 478.6L1465.5 474.3L1467.3 470L1469.9 465.8L1473.2 461.8L1477.2 457.9L1482 454.3L1487.4 451.1L1493.4 448.2L1500 445.8L1507.2 444L1514.9 442.7L1522.9 441.9L1531.3 441.8L1539.8 442.4L1548.5 443.6L1557.3 445.4L1565.9 447.9L1574.4 451.1L1582.6 454.8L1590.5 459.2L1597.9 464L1604.8 469.4L1611 475.2L1616.5 481.4L1621.3 487.8L1625.2 494.5L1628.3 501.4L1630.5 508.4L1631.8 515.4L1632.1 522.3L1631.6 529L1630.1 535.6L1627.8 541.8L1624.6 547.8L1620.6 553.3L1615.9 558.3L1610.6 562.9L1604.6 567L1598.2 570.4L1591.4 573.3L1584.3 575.6L1576.9 577.3L1569.5 578.5L1562.1 579L1554.7 579L1547.5 578.6L1540.6 577.6L1534.1 576.2L1528 574.5L1522.3 572.4L1517.3 570.2L1512.9 567.7L1509.1 565.1L1506 562.5L1503.6 559.9L1501.8 557.4L1500.8 555.1L1500.5 553L1500.8 551.1L1501.7 549.6L1503.1 548.5L1505 547.7L1507.4 547.4L1510.1 547.6L1513.1 548.2L1516.2 549.3L1519.4 550.9L1522.7 552.9L1525.8 555.4L1528.8 558.3L1531.5 561.5L1533.9 565.1L1535.9 568.9L1537.3 572.9L1538.3 577.1ZM1695.8 514.1L1703 516.7L1710.2 518.9L1717.3 520.8L1724.3 522.4L1731.3 523.7L1738 524.6L1744.6 525.1L1751 525.4L1757.1 525.4L1762.9 525.1L1768.5 524.5L1773.7 523.8L1778.5 522.8L1783 521.6L1787 520.3L1790.6 518.9L1793.8 517.4L1796.6 515.9L1798.8 514.3L1800.6 512.8L1801.9 511.3L1802.8 509.9L1803.1 508.6L1803 507.5L1802.3 506.5L1801.2 505.7L1799.7 505.1L1797.7 504.8L1795.2 504.6L1792.3 504.8L1789 505.2L1785.4 505.9L1781.3 506.8L1777 508.1L1772.3 509.6L1767.3 511.4L1762.1 513.5L1756.7 515.8L1751 518.4L1745.2 521.3L1739.3 524.3L1733.2 527.6L1727.1 531.1L1721 534.7L1714.8 538.5L1708.7 542.4L1702.6 546.5L1696.6 550.6L1690.7 554.8L1685 559.1L1679.4 563.4L1674 567.7L1668.8 572L1663.9 576.3L1659.2 580.5L1654.7 584.7L1650.6 588.7L1646.7 592.7L1643.1 596.6L1639.9 600.3L1636.9 603.9L1634 605.3L1631.3 605.6L1629 605.8L1627.1 606L1625.5 606.1L1624.2 606.2L1623.3 606.3L1622.6 606.3L1622.2 606.3L1622 606.3L1622 606.3L1622.2 606.3L1622.7 606.3L1623.2 606.3L1624 606.2L1624.8 606.1L1625.8 606.1L1626.9 606L1628 605.9L1629.2 605.8L1630.5 605.7L1631.8 605.6L1633.1 605.4L1634.4 605.3L1635.7 605.1L1637.1 605L1638.3 604.8L1639.2 602.4L1639.6 597.8L1639.9 592.8L1640 587.5L1639.9 581.9L1639.6 576.1L1639.1 570L1638.5 563.7L1637.6 557.1L1636.5 550.4L1635.3 543.6L1633.8 536.6L1632.2 529.5L1630.4 522.4L1628.4 515.2L1626.3 508.1L1624.1 501L1621.8 494L1619.4 487.2L1616.9 480.5L1614.3 474L1611.8 467.8L1609.2 461.8L1606.6 456.2L1604.1 450.9L1601.7 446L1599.4 441.5L1597.2 437.5L1595.1 433.9L1593.2 430.7L1591.5 428.1L1590 426L1588.8 424.4L1587.8 423.3L1587.1 422.7L1586.8 422.7L1586.7 423.1L1587 424.1L1587.6 425.5L1588.6 427.4L1590 429.7L1591.7 432.4L1593.8 435.5L1596.3 439L1599.2 442.7L1602.5 446.7L1606.2 451L1610.2 455.4L1614.6 460L1619.3 464.7L1624.3 469.4L1629.7 474.1L1635.4 478.9L1641.4 483.5L1647.6 488L1654 492.4L1660.6 496.7L1667.4 500.7L1674.4 504.4L1681.4 507.9L1688.6 511.2ZM1585.2 441.8L1581.9 437.1L1578.6 432.2L1575.1 427.3L1571.5 422.3L1567.8 417.2L1564 412L1560.1 406.9L1556.2 401.8L1552.2 396.8L1548.3 391.9L1544.3 387L1540.3 382.4L1536.3 377.8L1532.4 373.5L1528.6 369.4L1524.8 365.6L1521.2 361.9L1517.8 358.6L1514.4 355.6L1511.3 352.8L1508.4 350.4L1505.7 348.3L1503.2 346.5L1501 345L1499 343.8L1497.4 342.9L1496.1 342.3L1495 342L1494.4 342L1494 342.2L1494 342.6L1494.4 343.2L1495.1 344L1496.2 344.9L1497.7 345.9L1499.5 347L1501.8 348.2L1504.3 349.4L1507.3 350.6L1510.5 351.8L1514.2 352.8L1518.1 353.8L1522.4 354.7L1527 355.5L1531.8 356L1536.9 356.4L1542.3 356.6L1547.9 356.6L1553.7 356.3L1559.7 355.9L1565.8 355.2L1572.1 354.2L1578.5 353.1L1585 351.7L1591.5 350.1L1598 348.3L1604.6 346.3L1611.1 344.1L1617.6 341.8L1624 339.4L1630.3 336.9L1636.5 334.3L1642.5 331.7L1648.4 329L1654.1 326.4L1659.5 323.8L1664.7 321.4L1669.7 319L1674.4 316.8L1678.8 314.7L1682.9 312.8L1686.7 311.2L1690.2 309.8L1693.3 308.7L1696.1 307.9L1698.6 307.3L1700.8 307.1L1702.6 307.2L1704 307.7L1705.2 308.5L1706 309.6L1706.4 311.1L1706.6 312.9L1706.5 315.1L1706 317.6L1705.3 320.4L1704.3 323.5L1703 326.9L1701.5 330.5L1699.8 334.5L1697.9 338.6L1695.8 342.9L1693.5 347.5L1691.1 352.2L1688.6 357L1685.9 362L1683.2 367.1L1680.3 372.2L1677.5 377.4L1674.6 382.6L1671.6 387.9L1668.7 393.1L1665.8 398.3L1663 403.4L1660.1 408.5L1657.4 413.5L1654.7 418.4L1652.1 423.2L1649.6 427.9L1647.1 432.5L1644.8 436.9L1642.6 441.2L1640.6 445.3L1638.6 449.3L1636.8 453.1L1635.1 456.7L1633.5 460.2L1632 463.4L1630.6 466.5L1629.3 469.4L1628.2 472L1627.1 474.5L1626.1 476.8L1625.1 478.8L1624.2 480.7L1623.4 482.2L1622.6 483.6L1621.8 484.7L1621 485.6L1620.2 486.2L1619.4 486.6L1618.6 486.7L1617.7 486.5L1616.7 486.1L1615.7 485.4L1614.6 484.4L1613.4 483.1L1612.1 481.5L1610.6 479.7L1609 477.5L1607.3 475.1L1605.5 472.4L1603.5 469.4L1601.3 466.2L1599 462.7L1596.6 458.9L1593.9 454.9L1591.2 450.8L1588.2 446.4ZM1778.4 549.4L1771 554.9L1763.2 560.1L1755.1 565.2L1746.8 570L1738.4 574.5L1729.9 578.7L1721.5 582.5L1713.2 586L1705.1 589L1697.3 591.7L1690 594L1683.3 596L1677.3 597.6L1670.9 594.4L1663.8 584L1658.3 573.1L1654.3 561.8L1651.9 550.5L1651.1 539.4L1651.8 528.8L1653.9 518.9L1657.3 510L1661.8 502.4L1667.1 496.1L1673.2 491.3L1679.6 488.1L1686.2 486.5L1692.6 486.5L1698.7 488.1L1704.1 491.2L1708.7 495.6L1712.2 501.2L1714.5 507.7L1715.4 515L1714.9 522.6L1712.9 530.5L1709.4 538.2L1704.4 545.6L1698.1 552.3L1690.5 558.1L1681.9 562.7L1672.3 566.1L1662.2 567.9L1651.6 568.1L1641 566.6L1630.4 563.4L1620.4 558.5L1611 551.9L1602.6 543.8L1595.3 534.2L1589.5 523.5L1585.2 511.7L1582.6 499.2L1581.7 486.2L1582.7 473L1585.6 459.9L1590.1 447.1L1596.4 435L1604.2 423.7L1613.4 413.5L1623.8 404.6L1635 397.3L1647 391.5L1659.3 387.4L1671.7 385L1684 384.3L1695.8 385.3L1706.9 387.8L1717.1 391.8L1726.2 397L1733.9 403.2L1740.3 410.3L1745.1 417.9L1748.3 425.8L1749.9 433.8L1750.1 441.5L1748.8 448.8L1746.2 455.4L1742.4 461L1737.7 465.6L1732.3 469L1726.5 471L1720.4 471.6L1714.4 470.9L1708.8 468.7L1703.6 465.2L1699.3 460.5L1696.1 454.8L1694 448.2L1693.2 440.9L1693.9 433.2L1696.1 425.3L1699.8 417.4L1705 409.9L1711.6 402.9L1719.6 396.7L1728.7 391.6L1738.8 387.6L1749.6 385L1760.9 383.8L1772.5 384.2L1784 386.2L1795.3 389.8L1806 394.9L1815.9 401.4L1824.7 409.3L1832.3 418.3L1838.4 428.3L1843 438.9L1845.8 450.1L1847 461.5L1845.9 472.6L1840.4 482.1L1834.4 491.3L1828 500.2L1821.3 508.6L1814.4 516.5L1807.5 523.9L1800.6 530.7L1792.5 535.6L1782.6 537.6L1772.9 538.1L1763.6 537.2L1755 535L1747.3 531.6L1740.8 527.3L1735.5 522.2L1731.7 516.5L1729.3 510.5L1728.6 504.4L1729.4 498.6L1731.7 493.2L1735.5 488.5L1740.6 484.7L1746.8 481.9L1753.9 480.5L1761.7 480.4L1769.9 481.8L1778.4 484.7L1786.7 489.1L1794.7 495L1802 502.2L1808.4 510.7L1812.2 519L1808.2 523.2L1803.4 528L1798 533.1L1792 538.4L1785.5 543.9ZM1547.6 288.3L1549.1 297.1L1551.5 305.8L1554.7 314.2L1558.7 322.5L1563.4 330.3L1568.8 337.7L1574.9 344.6L1581.5 350.9L1588.5 356.5L1596 361.5L1603.7 365.7L1611.5 369.2L1619.3 372L1627.1 374L1634.6 375.2L1641.9 375.8L1648.6 375.7L1654.9 374.9L1660.4 373.6L1665.3 371.8L1669.3 369.6L1672.4 367L1674.6 364.2L1675.7 361.2L1675.8 358.1L1674.9 355L1672.9 352.1L1669.8 349.3L1665.7 346.8L1660.7 344.7L1654.7 343L1647.9 341.9L1640.4 341.2L1632.1 341.2L1623.2 341.8L1613.9 343.1L1604.2 345L1594.3 347.6L1584.2 350.9L1574.2 354.8L1564.2 359.3L1554.5 364.3L1545.1 369.9L1536.2 375.8L1527.8 382.2L1520 388.8L1512.9 395.6L1506.6 402.4L1501 409.3L1496.4 416.1L1492.5 422.6L1489.6 428.9L1487.5 434.7L1486.3 440.1L1485.8 444.9L1486.1 449.1L1487.1 452.5L1488.7 455.2L1490.9 457L1493.5 458L1496.4 458.1L1499.6 457.3L1502.9 455.5L1506.3 452.9L1509.5 449.4L1512.6 445.1L1515.3 440L1517.7 434.1L1519.6 427.5L1520.9 420.4L1521.5 412.8L1521.5 404.7L1520.7 396.3L1519.1 387.7L1516.7 379L1513.5 370.3L1509.5 361.6L1504.7 353.1L1499.1 344.9L1492.9 337L1486 329.6L1478.6 322.8L1470.7 316.5L1462.5 310.8L1454 305.8L1445.3 301.6L1436.7 298.1L1428.1 295.4L1419.7 293.4L1411.7 292.1L1404.2 291.6L1397.2 291.7L1390.9 292.4L1385.4 293.7L1380.8 295.6L1377.2 297.8L1374.6 300.4L1373.1 303.2L1372.7 306.2L1373.5 309.3L1375.4 312.3L1378.5 315.3L1382.8 318L1388.2 320.5L1394.6 322.6L1402 324.3L1410.4 325.5L1419.5 326.1L1429.4 326.1L1439.9 325.5L1450.9 324.3L1462.3 322.3L1473.9 319.7L1485.6 316.5L1497.3 312.6L1508.8 308.1L1520.1 303L1530.9 297.5L1541.3 291.5L1551 285.2L1560 278.6L1568.2 271.8L1575.6 264.9L1582 258L1587.5 251.3L1592 244.7L1595.4 238.5L1597.9 232.6L1599.4 227.2L1600 222.4L1599.6 218.3L1598.5 214.8L1596.5 212.1L1594 210.3L1590.8 209.3L1587.1 209.2L1583.1 210.1L1578.9 211.8L1574.5 214.4L1570.1 217.9L1565.7 222.3L1561.6 227.4L1557.8 233.3L1554.5 239.8L1551.6 246.9L1549.4 254.6L1547.8 262.6L1546.9 271L1546.8 279.6ZM1825.1 351.1L1828.1 349.3L1830.2 347.5L1831.3 345.5L1831.6 343.6L1830.9 341.7L1829.4 339.9L1827 338.3L1823.8 337.1L1819.9 336.1L1815.3 335.5L1810.1 335.4L1804.4 335.8L1798.2 336.7L1791.7 338.1L1784.9 340.1L1778 342.6L1771 345.8L1764 349.5L1757.1 353.7L1750.4 358.4L1744 363.7L1738 369.3L1732.3 375.4L1727.2 381.7L1722.5 388.3L1718.4 395L1714.8 401.9L1711.9 408.8L1709.5 415.6L1707.7 422.3L1706.4 428.8L1705.7 435L1705.4 440.8L1705.6 446.2L1706.2 451L1707.1 455.3L1708.2 459L1709.5 462.1L1710.9 464.4L1712.3 466.1L1713.6 467L1714.8 467.1L1715.7 466.6L1716.3 465.3L1716.6 463.4L1716.5 460.7L1715.8 457.5L1714.6 453.7L1712.8 449.4L1710.5 444.6L1707.5 439.5L1703.9 434.1L1699.6 428.4L1694.8 422.6L1689.3 416.7L1683.3 410.8L1676.8 405L1669.9 399.3L1662.5 393.9L1654.9 388.7L1647 383.9L1639 379.5L1630.9 375.6L1622.9 372.1L1614.9 369.1L1607.2 366.6L1599.9 364.7L1592.9 363.3L1586.3 362.4L1580.4 362.1L1575.1 362.1L1570.5 362.7L1566.6 363.6L1563.5 364.8L1561.3 366.3L1559.9 368L1559.4 369.9L1559.7 371.9L1560.9 373.8L1562.9 375.7L1565.8 377.5L1569.3 379L1573.6 380.3L1578.5 381.3L1584 381.8L1589.9 382L1596.3 381.6L1602.9 380.7L1609.8 379.3L1616.8 377.3L1623.8 374.8L1630.7 371.6L1637.5 367.9L1644 363.7L1650.2 358.9L1656 353.7L1661.3 348.1L1666.1 342L1670.3 335.7L1673.9 329.1L1676.8 322.3L1679 315.5L1680.6 308.6L1681.6 301.8L1681.9 295.1L1681.6 288.6L1680.7 282.4L1679.3 276.6L1677.4 271.2L1675.2 266.4L1672.6 262.1L1669.8 258.4L1666.9 255.3L1663.9 253L1661 251.3L1658.2 250.4L1655.6 250.2L1653.3 250.8L1651.4 252.1L1650 254L1649.1 256.6L1648.9 259.9L1649.2 263.7L1650.3 268L1652.1 272.7L1654.7 277.9L1658.1 283.3L1662.2 289L1667 294.8L1672.6 300.7L1678.9 306.6L1685.8 312.4L1693.3 318.1L1701.3 323.5L1709.8 328.7L1718.6 333.5L1727.6 337.9L1736.9 341.8L1746.2 345.3L1755.4 348.3L1764.5 350.7L1773.4 352.7L1781.9 354.1L1790 354.9L1797.6 355.3L1804.6 355.2L1810.9 354.7L1816.4 353.8L1821.2 352.6ZM1493.1 550.9L1492.3 542.1L1493.3 533.8L1495.9 526.4L1499.9 520L1505 514.9L1510.6 511.2L1516.5 509L1522.1 508.2L1527.2 508.8L1531.3 510.7L1534.2 513.5L1535.5 517.1L1535.1 521.2L1533 525.5L1529 529.6L1523.3 533.1L1516.1 535.9L1507.5 537.6L1498 538L1487.7 536.9L1477.2 534.3L1466.9 530.1L1457.1 524.2L1448.4 517L1441 508.4L1435.2 498.8L1431.4 488.5L1429.7 477.6L1430.2 466.7L1432.9 456L1437.7 445.9L1444.5 436.7L1453.1 428.6L1463 422L1474 417L1485.6 413.6L1497.4 412.1L1509 412.2L1520 413.9L1530 417L1538.7 421.4L1545.7 426.6L1551 432.4L1554.3 438.4L1555.7 444.3L1555.2 449.8L1553.1 454.4L1549.4 457.9L1544.6 460.1L1538.9 460.8L1532.8 459.8L1526.6 457.2L1520.8 452.9L1515.8 447.1L1512 439.8L1509.5 431.5L1508.9 422.3L1510 412.6L1513.2 402.7L1518.4 393.1L1525.5 383.9L1534.4 375.7L1544.8 368.8L1556.4 363.2L1568.8 359.4L1581.7 357.3L1594.6 357.2L1607.1 358.8L1618.9 362.3L1629.4 367.3L1638.5 373.8L1645.8 381.4L1651.1 389.8L1654.5 398.7L1655.7 407.7L1655 416.5L1652.5 424.8L1648.4 432.3L1642.9 438.6L1636.6 443.7L1629.7 447.4L1622.7 449.7L1616 450.4L1610 449.8L1605.1 448L1601.6 445.1L1599.7 441.5L1599.7 437.4L1601.6 433.2L1605.4 429.1L1611.1 425.5L1618.5 422.7L1627.4 421L1637.4 420.6L1648.2 421.7L1659.4 424.4L1670.5 428.6L1681.2 434.4L1691.1 441.7L1699.6 450.2L1706.6 459.8L1711.8 470.2L1714.9 481L1715.9 491.9L1714.8 502.6L1711.5 512.8L1706.4 522L1699.5 530L1691.2 536.6L1681.9 541.7L1672 545L1661.8 546.6L1651.8 546.5L1642.3 544.8L1633.9 541.6L1626.7 537.3L1621 532.1L1617 526.2L1614.9 520.2L1614.5 514.3L1616 508.9L1619 504.2L1623.4 500.7L1628.8 498.5L1635 497.8L1641.4 498.8L1647.8 501.4L1653.6 505.7L1658.5 511.6L1662.2 518.8L1664.2 527.2L1664.4 536.3L1662.6 546.1L1658.6 555.9L1652.6 565.6L1644.5 574.7L1634.5 582.9L1622.9 589.9L1610 595.4L1596.2 599.3L1581.9 601.3L1567.4 601.5L1553.3 599.8L1540 596.4L1527.8 591.3L1517 584.9L1508.1 577.3L1501 568.9L1496 560Z" fill="none" stroke="#3a8cb5" stroke-width="3.7" opacity="0.9" stroke-linejoin="round"/></g><g transform="translate(1461 123) rotate(-115.2)"><path d="M-10 -13C-2 -16 6 -12 6 0C6 12 -2 16 -10 13C-16 10 -22 6 -24 0C-22 -6 -16 -10 -10 -13Z" fill="#5e92b4" stroke="#2a7ca6" stroke-width="2"/></g><g transform="translate(1615 89) rotate(-87.8)"><path d="M-10 -13C-2 -16 6 -12 6 0C6 12 -2 16 -10 13C-16 10 -22 6 -24 0C-22 -6 -16 -10 -10 -13Z" fill="#5e92b4" stroke="#2a7ca6" stroke-width="2"/></g><g transform="translate(1759 134) rotate(-61.2)"><path d="M-10 -13C-2 -16 6 -12 6 0C6 12 -2 16 -10 13C-16 10 -22 6 -24 0C-22 -6 -16 -10 -10 -13Z" fill="#5e92b4" stroke="#2a7ca6" stroke-width="2"/></g><g transform="translate(1889 285) rotate(-19.2)"><path d="M-10 -13C-2 -16 6 -12 6 0C6 12 -2 16 -10 13C-16 10 -22 6 -24 0C-22 -6 -16 -10 -10 -13Z" fill="#5e92b4" stroke="#2a7ca6" stroke-width="2"/></g><g transform="translate(1809 593) rotate(53.5)"><path d="M-10 -13C-2 -16 6 -12 6 0C6 12 -2 16 -10 13C-16 10 -22 6 -24 0C-22 -6 -16 -10 -10 -13Z" fill="#5e92b4" stroke="#2a7ca6" stroke-width="2"/></g><g transform="translate(1695 636) rotate(74.4)"><path d="M-10 -13C-2 -16 6 -12 6 0C6 12 -2 16 -10 13C-16 10 -22 6 -24 0C-22 -6 -16 -10 -10 -13Z" fill="#5e92b4" stroke="#2a7ca6" stroke-width="2"/></g><g transform="translate(1495 633) rotate(108)"><path d="M-10 -13C-2 -16 6 -12 6 0C6 12 -2 16 -10 13C-16 10 -22 6 -24 0C-22 -6 -16 -10 -10 -13Z" fill="#5e92b4" stroke="#2a7ca6" stroke-width="2"/></g><g transform="translate(1350 556) rotate(137.1)"><path d="M-10 -13C-2 -16 6 -12 6 0C6 12 -2 16 -10 13C-16 10 -22 6 -24 0C-22 -6 -16 -10 -10 -13Z" fill="#5e92b4" stroke="#2a7ca6" stroke-width="2"/></g><g transform="translate(1299 408) rotate(170.3)"><path d="M-16 -3L2 -3M-16 3L2 3" stroke="#2a7ca6" stroke-width="2.2" fill="none"/></g><g transform="translate(1364 214) rotate(-141.8)"><path d="M-16 -3L2 -3M-16 3L2 3" stroke="#2a7ca6" stroke-width="2.2" fill="none"/></g><g transform="translate(1331 308) rotate(-165.2)"><path d="M-16 -3L2 -3M-16 3L2 3" stroke="#2a7ca6" stroke-width="2.2" fill="none"/></g><g transform="translate(1905 480) rotate(24.9)"><path d="M-16 -3L2 -3M-16 3L2 3" stroke="#2a7ca6" stroke-width="2.2" fill="none"/></g><circle cx="1537.5" cy="359.5" r="105.5" fill="url(#gNcl)" stroke="#2a78a8" stroke-width="3.5"/><ellipse cx="1488" cy="312" rx="40" ry="27" transform="rotate(-35 1488 312)" fill="#72b3d8" opacity="0.6"/><path d="M1436 385A105 105 0 0 0 1620 425A120 120 0 0 1 1436 385Z" fill="#2f7db0" opacity="0.35"/><path d="M771 658C767.5 675.7 761.5 703.8 756 717C750.5 730.2 743.7 734.7 738 737C732.3 739.3 727.8 730.2 722 731C716.2 731.8 706.7 736.8 703 742C699.3 747.2 697.8 756.7 700 762C702.2 767.3 709.3 773 716 774C722.7 775 731.8 768.3 740 768C748.2 767.7 760.2 767.8 765 772C769.8 776.2 763.3 788 769 793C774.7 798 795.5 794.8 799 802C802.5 809.2 786.5 827.5 790 836C793.5 844.5 816.5 845.3 820 853C823.5 860.7 806.8 874.3 811 882C815.2 889.7 837.2 891.8 845 899C852.8 906.2 858.5 918.5 858 925C857.5 931.5 845 932.5 842 938C839 943.5 837.3 953.3 840 958C842.7 962.7 852.5 966.8 858 966C863.5 965.2 868 956.7 873 953C878 949.3 883.5 941.3 888 944C892.5 946.7 888.7 965.8 900 969C911.3 972.2 939.7 960.5 956 963C972.3 965.5 984 979.8 998 984C1012 988.2 1025.8 991.5 1040 988C1054.2 984.5 1069.5 973.5 1083 963C1096.5 952.5 1111.5 932.2 1121 925C1130.5 917.8 1135.2 916.8 1140 920C1144.8 923.2 1144.7 940 1150 944C1155.3 948 1167.3 947.7 1172 944C1176.7 940.3 1180 928 1178 922C1176 916 1165.2 915.3 1160 908C1154.8 900.7 1147.2 890 1147 878C1146.8 866 1161.8 852.2 1159 836C1156.2 819.8 1134.8 796.7 1130 781C1125.2 765.3 1139.2 753.5 1130 742C1120.8 730.5 1085.3 720.7 1075 712C1064.7 703.3 1072.2 694.8 1068 690C1063.8 685.2 1054.7 681.3 1050 683C1045.3 684.7 1043.7 704.2 1040 700C1036.3 695.8 1031.5 673.5 1028 658C1024.5 642.5 1027.5 622.7 1019 607C1010.5 591.3 993.8 574.7 977 564C960.2 553.3 935.7 545.8 918 543C900.3 540.2 879.5 537.8 871 547C862.5 556.2 877.7 591.7 867 598C856.3 604.3 822 582.8 807 585C792 587.2 783 598.8 777 611C771 623.2 774.5 640.3 771 658Z" fill="none" stroke="#e6f5f7" stroke-width="11" stroke-linejoin="round" opacity="0.8"/><path d="M771 658C767.5 675.7 761.5 703.8 756 717C750.5 730.2 743.7 734.7 738 737C732.3 739.3 727.8 730.2 722 731C716.2 731.8 706.7 736.8 703 742C699.3 747.2 697.8 756.7 700 762C702.2 767.3 709.3 773 716 774C722.7 775 731.8 768.3 740 768C748.2 767.7 760.2 767.8 765 772C769.8 776.2 763.3 788 769 793C774.7 798 795.5 794.8 799 802C802.5 809.2 786.5 827.5 790 836C793.5 844.5 816.5 845.3 820 853C823.5 860.7 806.8 874.3 811 882C815.2 889.7 837.2 891.8 845 899C852.8 906.2 858.5 918.5 858 925C857.5 931.5 845 932.5 842 938C839 943.5 837.3 953.3 840 958C842.7 962.7 852.5 966.8 858 966C863.5 965.2 868 956.7 873 953C878 949.3 883.5 941.3 888 944C892.5 946.7 888.7 965.8 900 969C911.3 972.2 939.7 960.5 956 963C972.3 965.5 984 979.8 998 984C1012 988.2 1025.8 991.5 1040 988C1054.2 984.5 1069.5 973.5 1083 963C1096.5 952.5 1111.5 932.2 1121 925C1130.5 917.8 1135.2 916.8 1140 920C1144.8 923.2 1144.7 940 1150 944C1155.3 948 1167.3 947.7 1172 944C1176.7 940.3 1180 928 1178 922C1176 916 1165.2 915.3 1160 908C1154.8 900.7 1147.2 890 1147 878C1146.8 866 1161.8 852.2 1159 836C1156.2 819.8 1134.8 796.7 1130 781C1125.2 765.3 1139.2 753.5 1130 742C1120.8 730.5 1085.3 720.7 1075 712C1064.7 703.3 1072.2 694.8 1068 690C1063.8 685.2 1054.7 681.3 1050 683C1045.3 684.7 1043.7 704.2 1040 700C1036.3 695.8 1031.5 673.5 1028 658C1024.5 642.5 1027.5 622.7 1019 607C1010.5 591.3 993.8 574.7 977 564C960.2 553.3 935.7 545.8 918 543C900.3 540.2 879.5 537.8 871 547C862.5 556.2 877.7 591.7 867 598C856.3 604.3 822 582.8 807 585C792 587.2 783 598.8 777 611C771 623.2 774.5 640.3 771 658Z" fill="#f0a071" stroke="#d26d38" stroke-width="3.5" stroke-linejoin="round"/><path d="M769.3 758.6L772.3 759.8L776.1 761.2L780.2 762.6L784.6 764.1L789.3 765.7L794.2 767.5L799.3 769.3L804.5 771.3L809.7 773.4L814.8 775.7L819.8 778.1L824.6 780.6L829 783.1L833 785.7L836.6 788.2L839.6 790.7L842.3 793.4L845 796.4L847.6 799.7L850 803.2L852.2 807L854.2 810.9L856 814.9L857.7 819L859.2 823.1L860.7 827.3L861.9 831.4L863.1 835.5L864.2 839.5L865.1 843.4L866 847.2L866.8 850.6L867.3 853.5L867.6 856.3L867.7 859L867.8 861.8L867.8 864.5L867.6 867.1L867.4 869.8L867.2 872.3L866.9 874.8L866.6 877.3L866.2 879.7L865.9 882L865.7 884.3L865.5 886.7L865.4 889.2L865.3 891.2L869 901.1L876.1 908.8L885.7 913.3L896.2 913.7L906.1 910L913.8 902.9L918.3 893.3L918.7 882.8L918.2 881.9L917.7 880.9L917.1 879.4L916.4 877.5L915.7 875.1L914.9 872.5L914 869.6L913.1 866.5L912 863.3L910.9 859.8L909.6 856.2L908.2 852.6L906.7 848.8L905 845L903.2 841.1L901.2 837.4L899.3 834L897.3 830.5L895.2 826.9L893.1 823L890.8 819L888.5 814.8L886.1 810.6L883.6 806.3L881 801.9L878.3 797.5L875.6 793.1L872.7 788.7L869.9 784.3L866.9 779.9L863.8 775.5L860.4 771.3L856.7 767L852.6 762.7L848.3 758.5L843.8 754.3L839.2 750.1L834.6 746L829.9 741.8L825.2 737.8L820.7 733.9L816.4 730.1L812.3 726.5L808.6 723.2L805.3 720.1L802.5 717.5L800.4 715.3L798.7 713.4L789 709.5L778.4 709.6L768.7 713.7L761.4 721.3L757.5 731L757.6 741.6L761.7 751.3Z" fill="#f9c8a2" stroke="#d26d38" stroke-width="3" stroke-linejoin="round"/><path d="M772.8 753.2L775.8 754.3L779.5 755.7L783.5 757L787.9 758.5L792.6 760.1L797.6 761.9L802.7 763.7L807.9 765.8L813.2 768L818.4 770.3L823.5 772.7L828.4 775.3L833 778L837.3 780.7L841 783.5L844.3 786.3L847.3 789.2L850.2 792.5L852.9 796L855.5 799.7L857.7 803.7L859.8 807.7L861.8 811.9L863.5 816.1L865.1 820.4L866.6 824.6L867.9 828.8L869.1 833L870.2 837L871.2 841L872.1 844.8L872.9 848.3L873.4 851.4L873.8 854.4L874 857.4L874.1 860.3L874.1 863.2L874 866.1L873.9 868.8L873.6 871.5L873.3 874.1L873 876.6L872.7 879.1L872.4 881.4L872.1 883.7L871.9 886L871.8 888.3L871.8 890.2L874.5 897.7L879.9 903.6L887.2 906.9L895.2 907.2L902.7 904.5L908.6 899.1L911.9 891.8L912.2 883.8L911.7 882.8L911.2 881.7L910.6 880.1L909.9 878.1L909.2 875.7L908.4 873.2L907.6 870.4L906.6 867.4L905.6 864.2L904.5 860.9L903.2 857.5L901.9 854L900.4 850.5L898.8 846.9L897 843.2L895.1 839.7L893.2 836.4L891.2 833L889.2 829.3L887.1 825.5L884.8 821.5L882.5 817.5L880.2 813.3L877.7 809.1L875.2 804.9L872.6 800.7L870 796.4L867.3 792.2L864.5 788L861.7 783.8L858.8 779.7L855.7 775.7L852.2 771.7L848.4 767.7L844.3 763.6L840 759.5L835.5 755.4L831 751.4L826.4 747.3L821.8 743.3L817.4 739.5L813.1 735.7L809.1 732.1L805.3 728.8L802 725.7L799.2 723L797 720.8L795.2 718.8L787.8 715.8L779.8 715.9L772.4 719.1L766.8 724.8L763.8 732.2L763.9 740.2L767.1 747.6Z" fill="#f5b184" stroke="#dc7d48" stroke-width="1.8" stroke-linejoin="round"/><path d="M747.1 698.2L750.4 699.7L754.5 701.5L759 703.4L763.8 705.4L769 707.6L774.5 709.8L780.2 712.3L786 714.8L791.9 717.5L797.8 720.3L803.7 723.2L809.4 726.2L814.8 729.2L819.9 732.3L824.6 735.4L828.9 738.5L833 741.7L837.1 745.3L841.2 749L845.2 753L849.1 757.1L853 761.4L856.9 765.8L860.7 770.3L864.5 775L868.2 779.8L871.8 784.6L875.5 789.5L879.1 794.5L882.7 799.5L886.2 804.6L889.7 809.5L893 814.4L896.1 819.3L899.1 824.3L901.9 829.4L904.7 834.6L907.5 839.9L910.2 845.2L912.9 850.6L915.6 856.1L918.4 861.7L921.2 867.3L924.1 873L927.1 878.8L930.3 884.6L933.6 890.5L937 896.5L940.7 902.6L944.6 909L948.8 915.6L953.1 922.5L957.5 929.4L962 936.4L966.5 943.4L970.9 950.3L975.2 957L979.4 963.4L983.3 969.6L987 975.3L990.3 980.5L993.2 985.2L995.6 989.2L997.6 992.5L1005.6 999.4L1015.6 1002.8L1026.1 1002.1L1035.5 997.4L1042.4 989.4L1045.8 979.4L1045.1 968.9L1040.4 959.5L1037.5 956.6L1034.1 953L1030.1 949L1025.8 944.5L1021 939.7L1016 934.5L1010.7 929L1005.3 923.4L999.8 917.5L994.3 911.6L988.9 905.6L983.5 899.6L978.4 893.8L973.6 888.1L969.1 882.6L965 877.5L961.2 872.6L957.6 867.6L954.2 862.6L950.8 857.6L947.5 852.4L944.3 847.3L941.2 842.1L938.1 836.9L935 831.6L931.9 826.4L928.8 821.1L925.6 815.8L922.4 810.4L919.1 805.1L915.7 799.7L912.3 794.5L908.9 789.3L905.6 784.1L902.2 778.9L898.9 773.6L895.5 768.3L892.1 762.9L888.6 757.6L885.1 752.3L881.5 747L877.8 741.7L874 736.5L870.1 731.4L866.1 726.3L861.9 721.3L857.6 716.4L853.1 711.5L848.2 706.7L842.9 701.9L837.4 697.3L831.7 692.7L825.9 688.2L820.1 683.8L814.2 679.6L808.5 675.6L802.9 671.7L797.6 668L792.5 664.5L787.9 661.3L783.7 658.4L780.1 655.8L777.2 653.7L774.9 651.8L765 648.3L754.4 648.8L744.9 653.3L737.8 661.1L734.3 671L734.8 681.6L739.3 691.1Z" fill="#f9c8a2" stroke="#d26d38" stroke-width="3" stroke-linejoin="round"/><path d="M750.5 692.6L753.7 694.1L757.7 695.8L762.1 697.7L766.9 699.7L772.1 701.9L777.6 704.1L783.3 706.6L789.2 709.2L795.2 711.9L801.2 714.8L807.2 717.7L813 720.8L818.6 723.9L823.8 727.1L828.7 730.4L833.2 733.6L837.5 737.1L841.8 740.8L846 744.6L850.1 748.7L854.1 752.9L858.1 757.3L862.1 761.8L865.9 766.5L869.7 771.2L873.5 776L877.2 780.9L880.9 785.9L884.5 790.9L888.1 795.9L891.6 800.9L895.1 805.9L898.5 810.9L901.6 815.9L904.7 821L907.6 826.2L910.4 831.4L913.2 836.7L915.9 842.1L918.6 847.5L921.3 853L924.1 858.5L926.9 864.1L929.8 869.8L932.7 875.4L935.8 881.2L939 887L942.4 892.8L946 898.8L949.9 905.2L954 911.8L958.3 918.6L962.7 925.5L967.2 932.4L971.6 939.4L976.1 946.3L980.4 952.9L984.5 959.4L988.4 965.5L992.1 971.3L995.4 976.5L998.3 981.2L1000.8 985.2L1002.8 988.5L1008.8 993.8L1016.4 996.3L1024.4 995.8L1031.5 992.2L1036.8 986.2L1039.3 978.6L1038.8 970.6L1035.2 963.5L1032.4 960.6L1029 957L1025 953L1020.7 948.6L1015.9 943.7L1010.9 938.5L1005.6 933.1L1000.2 927.4L994.7 921.5L989.2 915.5L983.7 909.5L978.3 903.5L973.2 897.6L968.3 891.9L963.8 886.4L959.6 881.2L955.8 876.1L952.1 871.1L948.6 866L945.2 860.8L941.9 855.6L938.7 850.4L935.5 845.2L932.4 840L929.3 834.8L926.2 829.5L923.1 824.3L920 819L916.8 813.8L913.6 808.5L910.3 803.3L906.9 798.1L903.5 792.9L900.2 787.7L896.8 782.5L893.5 777.2L890.1 772L886.7 766.7L883.3 761.4L879.8 756.2L876.3 750.9L872.7 745.8L869 740.7L865.2 735.6L861.3 730.7L857.3 725.8L853.1 721L848.8 716.4L844.1 711.7L839 707.1L833.6 702.6L828.1 698.1L822.4 693.7L816.7 689.4L810.9 685.2L805.3 681.2L799.7 677.3L794.4 673.7L789.4 670.2L784.7 667L780.6 664.1L776.9 661.5L774 659.3L771.5 657.4L764 654.7L756 655.1L748.8 658.5L743.4 664.5L740.7 672L741.1 680L744.5 687.2Z" fill="#f5b184" stroke="#dc7d48" stroke-width="1.8" stroke-linejoin="round"/><path d="M771.2 617.4L773.7 619.4L776.7 621.7L779.9 624.2L783.4 626.8L787.2 629.6L791.1 632.5L795.3 635.7L799.5 638.9L803.9 642.4L808.4 646L812.9 649.8L817.4 653.6L821.9 657.6L826.3 661.7L830.5 665.9L834.7 670.2L838.8 674.8L843.1 679.7L847.5 684.9L851.9 690.4L856.4 696.1L861 702.1L865.6 708.2L870.2 714.4L874.8 720.8L879.4 727.2L884 733.8L888.6 740.3L893.1 746.9L897.6 753.5L902.1 760L906.5 766.5L910.7 772.8L914.8 779.2L918.8 785.8L922.7 792.5L926.6 799.2L930.5 806.1L934.3 813L938.2 820L942.1 827L946 834L950 841L954.1 847.9L958.2 854.9L962.5 861.8L966.9 868.7L971.5 875.5L976.4 882.3L981.6 889.4L987.1 896.5L992.8 903.7L998.6 910.9L1004.4 918.1L1010.3 925.2L1016 932.1L1021.6 938.8L1027 945.2L1032.1 951.2L1036.8 956.8L1041.1 962L1044.9 966.6L1048 970.4L1050.6 973.7L1059.2 979.8L1069.5 982L1079.9 980.1L1088.7 974.4L1094.8 965.8L1097 955.5L1095.1 945.1L1089.4 936.3L1086 933.3L1081.8 929.8L1077 925.9L1071.8 921.6L1066.1 916.9L1060.1 911.9L1053.8 906.7L1047.4 901.2L1040.8 895.5L1034.2 889.7L1027.6 883.7L1021.2 877.7L1015 871.8L1009.1 865.9L1003.5 860.1L998.5 854.5L993.7 848.9L989 843.2L984.4 837.2L979.9 831.1L975.5 824.8L971.2 818.4L966.9 812L962.7 805.4L958.5 798.8L954.3 792.1L950.2 785.3L946.1 778.6L941.9 771.8L937.8 765L933.7 758.2L929.5 751.5L925.4 744.9L921.4 738.2L917.3 731.4L913.2 724.5L909.1 717.6L905 710.7L901 703.7L897 696.8L892.9 690L888.9 683.2L885 676.6L881 670.1L877.1 663.7L873.1 657.5L869.2 651.6L865.3 645.8L861.3 640.1L857.1 634.5L852.9 629.1L848.6 623.8L844.4 618.7L840.1 613.7L836 609L832 604.4L828.1 600.1L824.4 596.1L820.9 592.3L817.7 588.8L814.9 585.7L812.5 583L810.5 580.7L808.8 578.6L800 572.9L789.6 571L779.3 573.2L770.6 579.2L764.9 588L763 598.4L765.2 608.7Z" fill="#f9c8a2" stroke="#d26d38" stroke-width="3" stroke-linejoin="round"/><path d="M775.7 612.7L778.2 614.7L781.1 617L784.3 619.4L787.8 622L791.5 624.8L795.5 627.7L799.7 630.9L804 634.2L808.4 637.7L813 641.4L817.5 645.2L822.1 649.1L826.7 653.2L831.2 657.4L835.5 661.8L839.8 666.2L844 670.9L848.3 675.9L852.8 681.2L857.3 686.7L861.8 692.5L866.4 698.4L871 704.6L875.6 710.8L880.2 717.2L884.9 723.7L889.5 730.2L894 736.8L898.6 743.4L903.1 750L907.5 756.5L911.9 762.9L916.2 769.3L920.3 775.8L924.4 782.4L928.3 789.1L932.2 795.9L936.1 802.8L939.9 809.7L943.8 816.6L947.6 823.6L951.5 830.5L955.5 837.5L959.5 844.4L963.6 851.3L967.8 858.1L972.2 864.8L976.7 871.5L981.4 878.2L986.6 885.2L992 892.2L997.6 899.3L1003.3 906.5L1009.1 913.6L1014.9 920.6L1020.6 927.5L1026.2 934.2L1031.6 940.6L1036.7 946.6L1041.4 952.2L1045.7 957.4L1049.5 962L1052.6 965.9L1055.2 969.2L1061.8 973.8L1069.6 975.5L1077.5 974.1L1084.2 969.8L1088.8 963.2L1090.5 955.4L1089.1 947.5L1084.8 940.8L1081.3 937.8L1077.2 934.4L1072.4 930.5L1067.2 926.2L1061.5 921.5L1055.5 916.5L1049.2 911.3L1042.7 905.7L1036.1 900L1029.5 894.1L1022.9 888.2L1016.4 882.1L1010.1 876.1L1004.1 870.1L998.5 864.2L993.3 858.5L988.5 852.8L983.7 846.9L979.1 840.8L974.5 834.6L970 828.3L965.7 821.9L961.3 815.3L957.1 808.7L952.9 802.1L948.7 795.4L944.6 788.6L940.5 781.9L936.4 775.2L932.3 768.4L928.2 761.7L924.1 755.1L920 748.5L915.9 741.7L911.8 734.9L907.7 728.1L903.6 721.1L899.6 714.2L895.5 707.3L891.5 700.4L887.5 693.6L883.5 686.9L879.6 680.3L875.7 673.8L871.8 667.5L867.9 661.4L864.1 655.5L860.2 649.8L856.3 644.3L852.3 638.8L848.1 633.5L843.9 628.3L839.7 623.2L835.6 618.3L831.5 613.7L827.5 609.2L823.7 604.9L820 600.9L816.6 597.1L813.4 593.7L810.5 590.5L808.1 587.7L806 585.4L804.3 583.3L797.6 578.9L789.7 577.5L781.9 579.2L775.3 583.7L770.9 590.4L769.5 598.3L771.2 606.1Z" fill="#f5b184" stroke="#dc7d48" stroke-width="1.8" stroke-linejoin="round"/><path d="M865 560.9L865.3 562.6L865.6 564.4L865.8 566.9L866.1 570L866.3 573.5L866.6 577.4L866.9 581.7L867.3 586.3L867.8 591.1L868.4 596.1L869.2 601.4L870.1 606.8L871.2 612.3L872.5 618L874.1 623.7L876 629.3L877.9 634.6L880 640L882.1 645.5L884.4 651.1L886.9 656.9L889.5 662.8L892.2 668.8L895 674.8L898 681L901.1 687.1L904.4 693.4L907.8 699.6L911.3 705.8L914.9 712.1L918.7 718.3L922.6 724.4L926.6 730.5L930.7 736.7L935 743L939.4 749.3L943.9 755.8L948.5 762.3L953.1 768.9L957.9 775.6L962.8 782.2L967.7 788.8L972.8 795.4L978 801.9L983.3 808.3L988.8 814.6L994.3 820.8L1000 826.9L1006.2 833L1012.8 839.2L1019.9 845.3L1027.2 851.5L1034.6 857.6L1042.2 863.6L1049.8 869.5L1057.3 875.2L1064.6 880.7L1071.7 886L1078.3 891L1084.5 895.6L1090.1 899.9L1094.9 903.6L1098.9 906.8L1102.2 909.6L1111.9 913.5L1122.5 913.4L1132.2 909.3L1139.6 901.8L1143.5 892.1L1143.4 881.5L1139.3 871.8L1131.8 864.4L1127.5 862.2L1122.3 859.6L1116.4 856.8L1110 853.7L1103.1 850.4L1095.7 846.8L1088.1 843L1080.2 839.1L1072.2 834.9L1064.2 830.6L1056.3 826.1L1048.6 821.6L1041.2 816.9L1034.2 812.3L1027.8 807.7L1022 803.1L1016.4 798.4L1010.9 793.3L1005.4 788L1000 782.5L994.8 776.9L989.6 771.1L984.6 765.1L979.7 759.1L975 752.9L970.5 746.7L966.2 740.5L962 734.2L958.1 727.9L954.3 721.7L950.8 715.6L947.4 709.6L944.3 703.7L941.3 697.8L938.5 691.8L935.9 685.8L933.4 679.8L931.1 673.8L929 667.9L927 661.9L925.1 656.1L923.4 650.3L921.8 644.6L920.4 639.1L919.1 633.7L917.9 628.4L916.9 623.4L916 618.7L915.4 614.5L915.1 610.4L914.9 606.3L914.8 602.1L914.9 598L915.1 594L915.4 590L915.8 586.1L916.3 582.3L916.7 578.7L917.2 575.1L917.7 571.7L918.2 568.4L918.6 565.1L918.8 561.8L919 559.1L916.6 548.8L910.4 540.3L901.5 534.7L891.1 533L880.8 535.4L872.3 541.6L866.7 550.5Z" fill="#f9c8a2" stroke="#d26d38" stroke-width="3" stroke-linejoin="round"/><path d="M871.5 560.7L871.8 562.5L872.1 564.5L872.3 567.1L872.6 570.2L872.8 573.7L873.1 577.6L873.4 581.8L873.8 586.2L874.3 590.9L874.9 595.8L875.6 600.9L876.5 606.1L877.6 611.4L878.9 616.8L880.5 622.3L882.3 627.6L884.2 632.8L886.2 638.1L888.3 643.5L890.6 649L893 654.7L895.6 660.5L898.3 666.4L901.1 672.4L904 678.4L907.1 684.5L910.3 690.6L913.6 696.7L917.1 702.9L920.6 709L924.4 715.1L928.2 721.1L932.1 727.1L936.2 733.2L940.4 739.4L944.8 745.7L949.2 752.1L953.8 758.6L958.4 765.1L963.1 771.6L967.9 778.2L972.8 784.7L977.8 791.2L982.9 797.6L988.1 803.9L993.4 810.1L998.9 816.2L1004.4 822.1L1010.4 828.1L1016.9 834.1L1023.8 840.1L1030.9 846.2L1038.3 852.2L1045.8 858.2L1053.3 864L1060.8 869.7L1068.1 875.2L1075.1 880.5L1081.7 885.4L1087.9 890.1L1093.5 894.3L1098.4 898.1L1102.4 901.4L1105.7 904.1L1113.2 907.1L1121.2 907.1L1128.5 904L1134.1 898.3L1137.1 890.8L1137.1 882.8L1134 875.5L1128.3 869.9L1124 867.7L1118.9 865.1L1113 862.3L1106.6 859.3L1099.7 855.9L1092.3 852.4L1084.6 848.6L1076.7 844.5L1068.7 840.3L1060.6 836L1052.6 831.5L1044.8 826.8L1037.3 822.1L1030.2 817.4L1023.6 812.6L1017.6 807.9L1011.9 803L1006.2 797.8L1000.6 792.4L995.1 786.8L989.8 781.1L984.6 775.2L979.5 769.1L974.6 763L969.8 756.8L965.2 750.5L960.8 744.1L956.6 737.8L952.6 731.5L948.8 725.2L945.2 719L941.8 712.9L938.6 706.9L935.6 700.9L932.7 694.8L930.1 688.7L927.5 682.6L925.2 676.5L923 670.4L920.9 664.4L919 658.4L917.3 652.5L915.7 646.8L914.2 641.1L912.9 635.7L911.7 630.3L910.7 625.2L909.7 620.4L909.1 615.9L908.7 611.5L908.4 607.1L908.3 602.8L908.4 598.5L908.6 594.3L908.9 590.2L909.3 586.1L909.8 582.2L910.2 578.5L910.7 574.9L911.2 571.5L911.7 568.2L912.1 565L912.3 561.9L912.5 559.3L910.7 551.5L906 545L899.2 540.8L891.3 539.5L883.5 541.3L877 546L872.8 552.8Z" fill="#f5b184" stroke="#dc7d48" stroke-width="1.8" stroke-linejoin="round"/><path d="M924.2 575.9L924.7 577.8L925.2 579.9L925.8 582.8L926.4 586.2L927 590L927.8 594.3L928.6 598.8L929.5 603.7L930.4 608.7L931.5 614L932.8 619.4L934.2 624.8L935.7 630.4L937.5 636L939.4 641.6L941.6 647L943.9 652.2L946.2 657.3L948.7 662.5L951.4 667.8L954.1 673.1L957 678.5L960 684L963.1 689.5L966.2 695L969.5 700.5L972.9 705.9L976.3 711.4L979.8 716.8L983.4 722.2L987 727.5L990.7 732.7L994.4 737.9L998.2 743.1L1002.1 748.5L1006 753.9L1010.1 759.4L1014.2 764.8L1018.4 770.3L1022.6 775.8L1026.9 781.2L1031.3 786.5L1035.8 791.8L1040.4 796.9L1045 801.9L1049.6 806.8L1054.4 811.5L1059.3 816L1064.7 820.4L1070.3 824.7L1076.2 828.8L1082.2 832.7L1088.2 836.4L1094.3 839.9L1100.4 843.3L1106.3 846.5L1112 849.5L1117.5 852.4L1122.6 855L1127.3 857.5L1131.5 859.7L1135.1 861.6L1137.8 863.3L1140.1 864.7L1150.4 867L1160.8 865.2L1169.7 859.5L1175.7 850.9L1178 840.6L1176.2 830.2L1170.5 821.3L1161.9 815.3L1158.4 814.2L1154.2 813L1149.8 811.9L1145 810.7L1139.9 809.4L1134.5 808.1L1128.9 806.7L1123.2 805.1L1117.4 803.4L1111.6 801.6L1105.9 799.7L1100.3 797.6L1094.9 795.4L1089.8 793L1085.1 790.6L1080.7 788L1076.3 785.1L1071.8 781.8L1067.2 778.2L1062.6 774.4L1058 770.3L1053.5 766L1049 761.6L1044.5 757L1040.1 752.2L1035.9 747.4L1031.7 742.4L1027.7 737.4L1023.8 732.4L1020.1 727.3L1016.6 722.3L1013.3 717.3L1010.2 712.3L1007.2 707.3L1004.3 702.1L1001.5 696.8L998.8 691.5L996.3 686.2L993.8 680.8L991.6 675.4L989.4 670L987.4 664.7L985.5 659.5L983.8 654.3L982.2 649.2L980.8 644.3L979.5 639.5L978.4 635L977.6 630.8L977 626.5L976.6 622.2L976.3 617.7L976.1 613.2L976.1 608.7L976.1 604.2L976.3 599.8L976.5 595.5L976.8 591.4L977 587.4L977.3 583.5L977.6 579.9L977.7 576.4L977.8 572.9L977.8 570.1L974.7 560L967.9 552L958.6 547.1L948.1 546.2L938 549.3L930 556.1L925.1 565.4Z" fill="#f9c8a2" stroke="#d26d38" stroke-width="3" stroke-linejoin="round"/><path d="M930.6 575.2L931.1 577.2L931.7 579.5L932.2 582.4L932.9 585.8L933.5 589.7L934.3 593.9L935.1 598.4L935.9 603.1L936.9 608.1L938 613.2L939.2 618.4L940.6 623.8L942.1 629.1L943.8 634.5L945.7 639.8L947.8 645L950 650L952.3 655L954.8 660.1L957.4 665.3L960.1 670.5L962.9 675.9L965.9 681.2L968.9 686.6L972 692L975.3 697.4L978.6 702.8L981.9 708.1L985.4 713.5L988.9 718.7L992.4 723.9L996 729L999.7 734.1L1003.5 739.3L1007.3 744.6L1011.2 750L1015.2 755.4L1019.2 760.8L1023.4 766.2L1027.5 771.6L1031.8 776.9L1036.1 782.1L1040.5 787.3L1044.9 792.3L1049.4 797.2L1054 801.9L1058.6 806.5L1063.3 810.8L1068.3 815.1L1073.7 819.2L1079.4 823.1L1085.2 826.9L1091.1 830.5L1097 834L1102.9 837.3L1108.7 840.5L1114.4 843.5L1119.8 846.3L1124.9 849L1129.6 851.4L1133.8 853.6L1137.5 855.6L1140.3 857.3L1142.7 858.8L1150.5 860.5L1158.4 859.1L1165.2 854.8L1169.8 848.3L1171.5 840.5L1170.1 832.6L1165.8 825.8L1159.3 821.2L1155.9 820.2L1151.9 819.1L1147.4 817.9L1142.7 816.8L1137.6 815.5L1132.2 814.2L1126.5 812.7L1120.8 811.1L1114.9 809.4L1109 807.5L1103.1 805.5L1097.3 803.4L1091.7 801L1086.4 798.6L1081.4 796L1076.7 793.2L1072.1 790.1L1067.4 786.7L1062.7 783L1058 779L1053.3 774.8L1048.7 770.5L1044.1 765.9L1039.6 761.2L1035.2 756.4L1030.8 751.4L1026.6 746.4L1022.5 741.4L1018.6 736.3L1014.9 731.1L1011.3 726L1008 721L1004.8 715.9L1001.7 710.7L998.7 705.4L995.9 700.1L993.1 694.7L990.5 689.2L988.1 683.8L985.7 678.3L983.5 672.8L981.5 667.4L979.5 662.1L977.8 656.8L976.2 651.6L974.7 646.6L973.4 641.6L972.2 637L971.4 632.5L970.7 628L970.2 623.5L969.9 618.8L969.7 614.1L969.6 609.5L969.7 604.9L969.8 600.4L970 596L970.3 591.8L970.5 587.7L970.8 583.9L971.1 580.2L971.3 576.8L971.4 573.5L971.4 570.8L969 563.2L963.9 557L956.8 553.3L948.8 552.6L941.2 555L935 560.1L931.3 567.2Z" fill="#f5b184" stroke="#dc7d48" stroke-width="1.8" stroke-linejoin="round"/><path d="M976 609.3L976.9 610.7L977.9 612.4L979 614.7L980.3 617.5L981.8 620.6L983.3 624.1L985 627.8L986.7 631.7L988.5 635.8L990.5 640L992.5 644.2L994.6 648.6L996.9 652.9L999.2 657.2L1001.7 661.5L1004.3 665.5L1006.9 669.3L1009.5 673L1012.2 676.9L1015 680.8L1017.9 684.7L1020.8 688.7L1023.8 692.7L1026.8 696.7L1029.8 700.8L1032.8 704.9L1035.8 708.9L1038.9 713L1042 717L1045.1 720.9L1048.3 724.7L1051.7 728.5L1055.3 732.2L1059.3 735.9L1063.4 739.6L1067.6 743.1L1071.9 746.5L1076.2 749.9L1080.4 753.1L1084.6 756.3L1088.7 759.3L1092.6 762.2L1096.2 764.9L1099.5 767.4L1102.4 769.7L1104.8 771.6L1106.6 773.3L1108.1 774.7L1118.1 777.8L1128.6 776.9L1137.9 772L1144.7 763.9L1147.8 753.9L1146.9 743.4L1142 734.1L1133.9 727.3L1131.2 726.4L1127.9 725.5L1124.3 724.5L1120.6 723.6L1116.6 722.6L1112.4 721.5L1108.1 720.4L1103.7 719.1L1099.3 717.8L1094.9 716.3L1090.6 714.7L1086.4 713L1082.4 711.3L1078.7 709.4L1075.4 707.5L1072.3 705.5L1069.3 703.3L1066.3 700.7L1063.2 697.9L1060.2 694.9L1057.2 691.7L1054.3 688.3L1051.5 684.7L1049 681L1046.5 677.2L1044.2 673.3L1042.1 669.4L1040.1 665.5L1038.3 661.6L1036.6 657.8L1035 654L1033.7 650.5L1032.7 647.2L1031.8 643.7L1031 640.1L1030.4 636.4L1029.9 632.6L1029.5 628.7L1029.2 624.8L1028.9 620.9L1028.8 617.2L1028.7 613.5L1028.6 609.9L1028.6 606.5L1028.5 603.3L1028.4 600.2L1028.2 597.2L1028 594.7L1023.2 585.3L1015.2 578.5L1005.2 575.2L994.7 576L985.3 580.8L978.5 588.8L975.2 598.8Z" fill="#f9c8a2" stroke="#d26d38" stroke-width="3" stroke-linejoin="round"/><path d="M982.3 607.5L983.2 609.1L984.2 610.9L985.4 613.2L986.7 616L988.1 619.2L989.6 622.6L991.3 626.2L993 630.1L994.8 634.1L996.7 638.2L998.7 642.3L1000.8 646.5L1003 650.6L1005.2 654.7L1007.6 658.7L1010.1 662.6L1012.6 666.2L1015.1 669.9L1017.8 673.6L1020.5 677.4L1023.4 681.2L1026.2 685.1L1029.1 689L1032.1 693L1035 696.9L1038 700.9L1040.9 704.9L1043.8 708.8L1046.8 712.6L1049.8 716.4L1052.9 720.1L1056 723.6L1059.4 727.2L1063.1 730.7L1067 734.2L1071.1 737.6L1075.2 740.9L1079.3 744.2L1083.5 747.4L1087.6 750.5L1091.6 753.5L1095.4 756.3L1099 759L1102.3 761.5L1105.2 763.8L1107.7 765.8L1109.6 767.5L1111.2 769L1118.8 771.4L1126.8 770.7L1133.9 767L1139 760.8L1141.4 753.2L1140.7 745.2L1137 738.1L1130.8 733L1128.2 732.2L1125 731.3L1121.5 730.4L1117.8 729.4L1113.8 728.4L1109.6 727.4L1105.2 726.2L1100.8 724.9L1096.3 723.5L1091.7 722L1087.3 720.3L1083 718.5L1078.8 716.7L1074.9 714.7L1071.3 712.6L1068 710.4L1064.8 707.9L1061.5 705.2L1058.3 702.3L1055.2 699.1L1052.1 695.8L1049.2 692.3L1046.3 688.6L1043.7 684.8L1041.2 680.9L1038.8 676.9L1036.6 672.9L1034.6 668.9L1032.7 664.9L1030.9 661L1029.3 657.1L1027.9 653.4L1026.8 649.9L1025.8 646.2L1024.9 642.4L1024.2 638.5L1023.7 634.5L1023.2 630.5L1022.9 626.5L1022.6 622.5L1022.5 618.7L1022.3 615L1022.3 611.4L1022.2 608L1022.2 604.8L1022.1 601.7L1021.9 598.8L1021.7 596.5L1018.1 589.3L1012 584.1L1004.4 581.6L996.5 582.3L989.3 585.9L984.1 592L981.6 599.6Z" fill="#f5b184" stroke="#dc7d48" stroke-width="1.8" stroke-linejoin="round"/><path d="M914 486A35 35 0 0 1 984 486L984 496A35 35 0 0 1 914 496Z" fill="#ee9a69" stroke="#d26d38" stroke-width="3"/><circle cx="949" cy="486" r="35" fill="#f9c8a2" stroke="#d26d38" stroke-width="3"/><circle cx="949" cy="486" r="28" fill="#f5b184" stroke="#dc7d48" stroke-width="2"/><path d="M798 537A28 28 0 0 1 854 537L854 544A28 28 0 0 1 798 544Z" fill="#ee9a69" stroke="#d26d38" stroke-width="3"/><circle cx="826" cy="537" r="28" fill="#f9c8a2" stroke="#d26d38" stroke-width="3"/><circle cx="826" cy="537" r="21" fill="#f5b184" stroke="#dc7d48" stroke-width="2"/><path d="M1053 647A24 24 0 0 1 1101 647L1101 653A24 24 0 0 1 1053 653Z" fill="#ee9a69" stroke="#d26d38" stroke-width="3"/><circle cx="1077" cy="647" r="24" fill="#f9c8a2" stroke="#d26d38" stroke-width="3"/><circle cx="1077" cy="647" r="17" fill="#f5b184" stroke="#dc7d48" stroke-width="2"/><path d="M1109 991A27 27 0 0 1 1163 991L1163 998A27 27 0 0 1 1109 998Z" fill="#ee9a69" stroke="#d26d38" stroke-width="3"/><circle cx="1136" cy="991" r="27" fill="#f9c8a2" stroke="#d26d38" stroke-width="3"/><circle cx="1136" cy="991" r="20" fill="#f5b184" stroke="#dc7d48" stroke-width="2"/><circle cx="960" cy="995" r="16" fill="#f0a071" stroke="#d26d38" stroke-width="3"/><circle cx="906" cy="1084" r="26" fill="#93cbd3" stroke="#5badbd" stroke-width="3"/><circle cx="761" cy="1173" r="17" fill="#93cbd3" stroke="#5badbd" stroke-width="3"/><circle cx="1287" cy="1314" r="17" fill="#93cbd3" stroke="#5badbd" stroke-width="3"/><path d="M1361 1150.4A102.6 92.7 0 0 1 1566.2 1150.4L1566.2 1182.4A102.6 92.7 0 0 1 1361 1182.4Z" fill="none" stroke="#e6f5f7" stroke-width="11" opacity="0.8"/><path d="M1361 1150.4A102.6 92.7 0 0 1 1566.2 1150.4L1566.2 1182.4A102.6 92.7 0 0 1 1361 1182.4Z" fill="#ef9b68" stroke="#cf6a35" stroke-width="3.5"/><ellipse cx="1463.6" cy="1150.4" rx="102.6" ry="92.7" fill="#f7b88f" stroke="#cf6a35" stroke-width="3.5"/><ellipse cx="1463.6" cy="1150.4" rx="91.6" ry="81.7" fill="url(#gLo)" stroke="#cf6a35" stroke-width="2.4"/><circle cx="1425.6" cy="1121.4" r="20" fill="#4b9dab" stroke="#2f8a9d" stroke-width="2.2"/><circle cx="1480.6" cy="1099.4" r="12.5" fill="#4b9dab" stroke="#2f8a9d" stroke-width="2.2"/><circle cx="1514.6" cy="1130.4" r="8.5" fill="#4b9dab" stroke="#2f8a9d" stroke-width="2.2"/><circle cx="1491.6" cy="1153.4" r="11.5" fill="#4b9dab" stroke="#2f8a9d" stroke-width="2.2"/><circle cx="1450.6" cy="1168.4" r="11.5" fill="#4b9dab" stroke="#2f8a9d" stroke-width="2.2"/><circle cx="1410.6" cy="1173.4" r="12.5" fill="#4b9dab" stroke="#2f8a9d" stroke-width="2.2"/><circle cx="1483.6" cy="1201.4" r="13" fill="#4b9dab" stroke="#2f8a9d" stroke-width="2.2"/><g transform="translate(1463.6 1150.4)"><path d="M-10 -24Q2 -32 12 -26" stroke="#c9b88c" stroke-width="6" fill="none" stroke-linecap="round" opacity="0.8"/><path d="M52 4Q68 18 56 36" stroke="#b9bd98" stroke-width="6" fill="none" stroke-linecap="round" opacity="0.8"/><ellipse cx="-12" cy="55" rx="4" ry="7" transform="rotate(30 -12 55)" fill="#b5bf9a" opacity="0.8"/></g><path d="M1205 986A63 58 0 0 1 1331 986L1331 1006A63 58 0 0 1 1205 1006Z" fill="none" stroke="#e6f5f7" stroke-width="11" opacity="0.8"/><path d="M1205 986A63 58 0 0 1 1331 986L1331 1006A63 58 0 0 1 1205 1006Z" fill="#ef9b68" stroke="#cf6a35" stroke-width="3.5"/><ellipse cx="1268" cy="986" rx="63" ry="58" fill="#f7b88f" stroke="#cf6a35" stroke-width="3.5"/><ellipse cx="1268" cy="986" rx="52" ry="47" fill="url(#gLo)" stroke="#cf6a35" stroke-width="2.4"/><circle cx="1246" cy="968" r="11" fill="#82b8a4"/><circle cx="1280" cy="962" r="10" fill="#82b8a4"/><circle cx="1296" cy="998" r="8" fill="#82b8a4"/><circle cx="1248" cy="1008" r="9" fill="#82b8a4"/><circle cx="1276" cy="1016" r="5" fill="#82b8a4"/><g transform="translate(1268 986)"><path d="M-4 -6Q4 -4 2 6" stroke="#9fb58f" stroke-width="4" fill="none" stroke-linecap="round"/></g><path d="M2108 761A62 58 0 0 1 2232 761L2232 782A62 58 0 0 1 2108 782Z" fill="none" stroke="#e6f5f7" stroke-width="11" opacity="0.8"/><path d="M2108 761A62 58 0 0 1 2232 761L2232 782A62 58 0 0 1 2108 782Z" fill="#ef9b68" stroke="#cf6a35" stroke-width="3.5"/><ellipse cx="2170" cy="761" rx="62" ry="58" fill="#f7b88f" stroke="#cf6a35" stroke-width="3.5"/><ellipse cx="2170" cy="761" rx="51" ry="47" fill="url(#gLo)" stroke="#cf6a35" stroke-width="2.4"/><circle cx="2146" cy="741" r="11" fill="#93b08f"/><circle cx="2182" cy="735" r="10" fill="#93b08f"/><circle cx="2198" cy="767" r="9" fill="#93b08f"/><circle cx="2154" cy="785" r="11" fill="#93b08f"/><circle cx="2186" cy="789" r="5" fill="#93b08f"/><g transform="translate(2170 761)"><path d="M-4 -6Q4 -4 2 6" stroke="#9fb58f" stroke-width="4" fill="none" stroke-linecap="round"/></g><path d="M1666.4 1223A80.3 74.5 0 0 1 1827 1223L1827 1250A80.3 74.5 0 0 1 1666.4 1250Z" fill="none" stroke="#e6f5f7" stroke-width="11" opacity="0.8"/><path d="M1666.4 1223A80.3 74.5 0 0 1 1827 1223L1827 1250A80.3 74.5 0 0 1 1666.4 1250Z" fill="#5cafb7" stroke="#2a8a9c" stroke-width="3.5"/><ellipse cx="1746.7" cy="1223" rx="80.3" ry="74.5" fill="#79c3c8" stroke="#2a8a9c" stroke-width="3.5"/><ellipse cx="1746.7" cy="1223" rx="69.3" ry="63.5" fill="url(#gLt)" stroke="#2a8a9c" stroke-width="2.4"/><circle cx="1762.7" cy="1179" r="12" fill="#4aa5b5"/><circle cx="1720.7" cy="1187" r="14" fill="#4aa5b5"/><circle cx="1782.7" cy="1233" r="11.5" fill="#4aa5b5"/><circle cx="1726.7" cy="1255" r="14" fill="#4aa5b5"/><circle cx="1700.7" cy="1225" r="5" fill="#4aa5b5"/><g transform="translate(1746.7 1223)"><path d="M-66 0A66 60 0 0 1 40 -48A80 70 0 0 0 -40 40A66 60 0 0 1 -66 0Z" fill="#5fb3bc" opacity="0.55"/><path d="M-6 -10Q10 -2 12 14" stroke="#4aa5b5" stroke-width="8" fill="none" stroke-linecap="round"/><ellipse cx="42" cy="-26" rx="6" ry="3" fill="#4aa5b5"/><ellipse cx="18" cy="32" rx="4" ry="6" transform="rotate(-30 18 32)" fill="#4aa5b5"/></g><path d="M964.3 192.8L976.3 190.2L988.7 189.9L1001.2 191.7L1013.3 195.6L1024.6 201.4L1034.9 209L1043.7 218L1050.9 228.3L1056.2 239.4L1059.3 251.1L1060.4 262.9L1059.2 274.6L1055.9 285.8L1050.5 296.1L1043.2 305.4L1034.4 313.3L1024.1 319.5L1012.8 324.1L997 329L981.2 334.2L965.4 339.5L949.8 345L934.2 350.7L918.6 356.5L903.2 362.5L887.8 368.7L872.4 375.1L857.1 381.7L845.6 385.6L833.8 387.5L821.9 387.3L810.4 384.9L799.6 380.6L789.8 374.3L781.3 366.2L774.3 356.5L769.2 345.6L765.9 333.7L764.7 321.3L765.5 308.6L768.4 296.2L773.2 284.4L779.8 273.5L788.1 264.1L797.8 256.3L808.6 250.4L823.9 243.8L839.2 237.4L854.6 231.2L870.1 225.2L885.6 219.3L901.2 213.7L916.9 208.2L932.6 202.9L948.4 197.7ZM964.3 218.8L976.3 216.2L988.7 215.9L1001.2 217.7L1013.3 221.6L1024.6 227.4L1034.9 235L1043.7 244L1050.9 254.3L1056.2 265.4L1059.3 277.1L1060.4 288.9L1059.2 300.6L1055.9 311.8L1050.5 322.1L1043.2 331.4L1034.4 339.3L1024.1 345.5L1012.8 350.1L997 355L981.2 360.2L965.4 365.5L949.8 371L934.2 376.7L918.6 382.5L903.2 388.5L887.8 394.7L872.4 401.1L857.1 407.7L845.6 411.6L833.8 413.5L821.9 413.3L810.4 410.9L799.6 406.6L789.8 400.3L781.3 392.2L774.3 382.5L769.2 371.6L765.9 359.7L764.7 347.3L765.5 334.6L768.4 322.2L773.2 310.4L779.8 299.5L788.1 290.1L797.8 282.3L808.6 276.4L823.9 269.8L839.2 263.4L854.6 257.2L870.1 251.2L885.6 245.3L901.2 239.7L916.9 234.2L932.6 228.9L948.4 223.7Z" fill="none" stroke="#e6f5f7" stroke-width="11" stroke-linejoin="round" opacity="0.8"/><path d="M964.3 218.8L976.3 216.2L988.7 215.9L1001.2 217.7L1013.3 221.6L1024.6 227.4L1034.9 235L1043.7 244L1050.9 254.3L1056.2 265.4L1059.3 277.1L1060.4 288.9L1059.2 300.6L1055.9 311.8L1050.5 322.1L1043.2 331.4L1034.4 339.3L1024.1 345.5L1012.8 350.1L997 355L981.2 360.2L965.4 365.5L949.8 371L934.2 376.7L918.6 382.5L903.2 388.5L887.8 394.7L872.4 401.1L857.1 407.7L845.6 411.6L833.8 413.5L821.9 413.3L810.4 410.9L799.6 406.6L789.8 400.3L781.3 392.2L774.3 382.5L769.2 371.6L765.9 359.7L764.7 347.3L765.5 334.6L768.4 322.2L773.2 310.4L779.8 299.5L788.1 290.1L797.8 282.3L808.6 276.4L823.9 269.8L839.2 263.4L854.6 257.2L870.1 251.2L885.6 245.3L901.2 239.7L916.9 234.2L932.6 228.9L948.4 223.7Z" fill="#4a8cba" stroke="#4a8cba" stroke-width="1"/><path d="M964.3 215.8L976.3 213.2L988.7 212.9L1001.2 214.7L1013.3 218.6L1024.6 224.4L1034.9 232L1043.7 241L1050.9 251.3L1056.2 262.4L1059.3 274.1L1060.4 285.9L1059.2 297.6L1055.9 308.8L1050.5 319.1L1043.2 328.4L1034.4 336.3L1024.1 342.5L1012.8 347.1L997 352L981.2 357.2L965.4 362.5L949.8 368L934.2 373.7L918.6 379.5L903.2 385.5L887.8 391.7L872.4 398.1L857.1 404.7L845.6 408.6L833.8 410.5L821.9 410.3L810.4 407.9L799.6 403.6L789.8 397.3L781.3 389.2L774.3 379.5L769.2 368.6L765.9 356.7L764.7 344.3L765.5 331.6L768.4 319.2L773.2 307.4L779.8 296.5L788.1 287.1L797.8 279.3L808.6 273.4L823.9 266.8L839.2 260.4L854.6 254.2L870.1 248.2L885.6 242.3L901.2 236.7L916.9 231.2L932.6 225.9L948.4 220.7Z" fill="#4a8cba" stroke="#4a8cba" stroke-width="1"/><path d="M964.3 212.8L976.3 210.2L988.7 209.9L1001.2 211.7L1013.3 215.6L1024.6 221.4L1034.9 229L1043.7 238L1050.9 248.3L1056.2 259.4L1059.3 271.1L1060.4 282.9L1059.2 294.6L1055.9 305.8L1050.5 316.1L1043.2 325.4L1034.4 333.3L1024.1 339.5L1012.8 344.1L997 349L981.2 354.2L965.4 359.5L949.8 365L934.2 370.7L918.6 376.5L903.2 382.5L887.8 388.7L872.4 395.1L857.1 401.7L845.6 405.6L833.8 407.5L821.9 407.3L810.4 404.9L799.6 400.6L789.8 394.3L781.3 386.2L774.3 376.5L769.2 365.6L765.9 353.7L764.7 341.3L765.5 328.6L768.4 316.2L773.2 304.4L779.8 293.5L788.1 284.1L797.8 276.3L808.6 270.4L823.9 263.8L839.2 257.4L854.6 251.2L870.1 245.2L885.6 239.3L901.2 233.7L916.9 228.2L932.6 222.9L948.4 217.7Z" fill="#4a8cba" stroke="#4a8cba" stroke-width="1"/><path d="M964.3 209.8L976.3 207.2L988.7 206.9L1001.2 208.7L1013.3 212.6L1024.6 218.4L1034.9 226L1043.7 235L1050.9 245.3L1056.2 256.4L1059.3 268.1L1060.4 279.9L1059.2 291.6L1055.9 302.8L1050.5 313.1L1043.2 322.4L1034.4 330.3L1024.1 336.5L1012.8 341.1L997 346L981.2 351.2L965.4 356.5L949.8 362L934.2 367.7L918.6 373.5L903.2 379.5L887.8 385.7L872.4 392.1L857.1 398.7L845.6 402.6L833.8 404.5L821.9 404.3L810.4 401.9L799.6 397.6L789.8 391.3L781.3 383.2L774.3 373.5L769.2 362.6L765.9 350.7L764.7 338.3L765.5 325.6L768.4 313.2L773.2 301.4L779.8 290.5L788.1 281.1L797.8 273.3L808.6 267.4L823.9 260.8L839.2 254.4L854.6 248.2L870.1 242.2L885.6 236.3L901.2 230.7L916.9 225.2L932.6 219.9L948.4 214.7Z" fill="#4a8cba" stroke="#4a8cba" stroke-width="1"/><path d="M964.3 206.8L976.3 204.2L988.7 203.9L1001.2 205.7L1013.3 209.6L1024.6 215.4L1034.9 223L1043.7 232L1050.9 242.3L1056.2 253.4L1059.3 265.1L1060.4 276.9L1059.2 288.6L1055.9 299.8L1050.5 310.1L1043.2 319.4L1034.4 327.3L1024.1 333.5L1012.8 338.1L997 343L981.2 348.2L965.4 353.5L949.8 359L934.2 364.7L918.6 370.5L903.2 376.5L887.8 382.7L872.4 389.1L857.1 395.7L845.6 399.6L833.8 401.5L821.9 401.3L810.4 398.9L799.6 394.6L789.8 388.3L781.3 380.2L774.3 370.5L769.2 359.6L765.9 347.7L764.7 335.3L765.5 322.6L768.4 310.2L773.2 298.4L779.8 287.5L788.1 278.1L797.8 270.3L808.6 264.4L823.9 257.8L839.2 251.4L854.6 245.2L870.1 239.2L885.6 233.3L901.2 227.7L916.9 222.2L932.6 216.9L948.4 211.7Z" fill="#4a8cba" stroke="#4a8cba" stroke-width="1"/><path d="M964.3 203.8L976.3 201.2L988.7 200.9L1001.2 202.7L1013.3 206.6L1024.6 212.4L1034.9 220L1043.7 229L1050.9 239.3L1056.2 250.4L1059.3 262.1L1060.4 273.9L1059.2 285.6L1055.9 296.8L1050.5 307.1L1043.2 316.4L1034.4 324.3L1024.1 330.5L1012.8 335.1L997 340L981.2 345.2L965.4 350.5L949.8 356L934.2 361.7L918.6 367.5L903.2 373.5L887.8 379.7L872.4 386.1L857.1 392.7L845.6 396.6L833.8 398.5L821.9 398.3L810.4 395.9L799.6 391.6L789.8 385.3L781.3 377.2L774.3 367.5L769.2 356.6L765.9 344.7L764.7 332.3L765.5 319.6L768.4 307.2L773.2 295.4L779.8 284.5L788.1 275.1L797.8 267.3L808.6 261.4L823.9 254.8L839.2 248.4L854.6 242.2L870.1 236.2L885.6 230.3L901.2 224.7L916.9 219.2L932.6 213.9L948.4 208.7Z" fill="#4a8cba" stroke="#4a8cba" stroke-width="1"/><path d="M964.3 200.8L976.3 198.2L988.7 197.9L1001.2 199.7L1013.3 203.6L1024.6 209.4L1034.9 217L1043.7 226L1050.9 236.3L1056.2 247.4L1059.3 259.1L1060.4 270.9L1059.2 282.6L1055.9 293.8L1050.5 304.1L1043.2 313.4L1034.4 321.3L1024.1 327.5L1012.8 332.1L997 337L981.2 342.2L965.4 347.5L949.8 353L934.2 358.7L918.6 364.5L903.2 370.5L887.8 376.7L872.4 383.1L857.1 389.7L845.6 393.6L833.8 395.5L821.9 395.3L810.4 392.9L799.6 388.6L789.8 382.3L781.3 374.2L774.3 364.5L769.2 353.6L765.9 341.7L764.7 329.3L765.5 316.6L768.4 304.2L773.2 292.4L779.8 281.5L788.1 272.1L797.8 264.3L808.6 258.4L823.9 251.8L839.2 245.4L854.6 239.2L870.1 233.2L885.6 227.3L901.2 221.7L916.9 216.2L932.6 210.9L948.4 205.7Z" fill="#4a8cba" stroke="#4a8cba" stroke-width="1"/><path d="M964.3 197.8L976.3 195.2L988.7 194.9L1001.2 196.7L1013.3 200.6L1024.6 206.4L1034.9 214L1043.7 223L1050.9 233.3L1056.2 244.4L1059.3 256.1L1060.4 267.9L1059.2 279.6L1055.9 290.8L1050.5 301.1L1043.2 310.4L1034.4 318.3L1024.1 324.5L1012.8 329.1L997 334L981.2 339.2L965.4 344.5L949.8 350L934.2 355.7L918.6 361.5L903.2 367.5L887.8 373.7L872.4 380.1L857.1 386.7L845.6 390.6L833.8 392.5L821.9 392.3L810.4 389.9L799.6 385.6L789.8 379.3L781.3 371.2L774.3 361.5L769.2 350.6L765.9 338.7L764.7 326.3L765.5 313.6L768.4 301.2L773.2 289.4L779.8 278.5L788.1 269.1L797.8 261.3L808.6 255.4L823.9 248.8L839.2 242.4L854.6 236.2L870.1 230.2L885.6 224.3L901.2 218.7L916.9 213.2L932.6 207.9L948.4 202.7Z" fill="#4a8cba" stroke="#4a8cba" stroke-width="1"/><path d="M964.3 194.8L976.3 192.2L988.7 191.9L1001.2 193.7L1013.3 197.6L1024.6 203.4L1034.9 211L1043.7 220L1050.9 230.3L1056.2 241.4L1059.3 253.1L1060.4 264.9L1059.2 276.6L1055.9 287.8L1050.5 298.1L1043.2 307.4L1034.4 315.3L1024.1 321.5L1012.8 326.1L997 331L981.2 336.2L965.4 341.5L949.8 347L934.2 352.7L918.6 358.5L903.2 364.5L887.8 370.7L872.4 377.1L857.1 383.7L845.6 387.6L833.8 389.5L821.9 389.3L810.4 386.9L799.6 382.6L789.8 376.3L781.3 368.2L774.3 358.5L769.2 347.6L765.9 335.7L764.7 323.3L765.5 310.6L768.4 298.2L773.2 286.4L779.8 275.5L788.1 266.1L797.8 258.3L808.6 252.4L823.9 245.8L839.2 239.4L854.6 233.2L870.1 227.2L885.6 221.3L901.2 215.7L916.9 210.2L932.6 204.9L948.4 199.7Z" fill="#4a8cba" stroke="#4a8cba" stroke-width="1"/><path d="M964.3 218.8L976.3 216.2L988.7 215.9L1001.2 217.7L1013.3 221.6L1024.6 227.4L1034.9 235L1043.7 244L1050.9 254.3L1056.2 265.4L1059.3 277.1L1060.4 288.9L1059.2 300.6L1055.9 311.8L1050.5 322.1L1043.2 331.4L1034.4 339.3L1024.1 345.5L1012.8 350.1L997 355L981.2 360.2L965.4 365.5L949.8 371L934.2 376.7L918.6 382.5L903.2 388.5L887.8 394.7L872.4 401.1L857.1 407.7L845.6 411.6L833.8 413.5L821.9 413.3L810.4 410.9L799.6 406.6L789.8 400.3L781.3 392.2L774.3 382.5L769.2 371.6L765.9 359.7L764.7 347.3L765.5 334.6L768.4 322.2L773.2 310.4L779.8 299.5L788.1 290.1L797.8 282.3L808.6 276.4L823.9 269.8L839.2 263.4L854.6 257.2L870.1 251.2L885.6 245.3L901.2 239.7L916.9 234.2L932.6 228.9L948.4 223.7Z" fill="#4a8cba" stroke="#246f9c" stroke-width="3.5" stroke-linejoin="round"/><path d="M964.3 214.8L976.3 212.2L988.7 211.9L1001.2 213.7L1013.3 217.6L1024.6 223.4L1034.9 231L1043.7 240L1050.9 250.3L1056.2 261.4L1059.3 273.1L1060.4 284.9L1059.2 296.6L1055.9 307.8L1050.5 318.1L1043.2 327.4L1034.4 335.3L1024.1 341.5L1012.8 346.1L997 351L981.2 356.2L965.4 361.5L949.8 367L934.2 372.7L918.6 378.5L903.2 384.5L887.8 390.7L872.4 397.1L857.1 403.7L845.6 407.6L833.8 409.5L821.9 409.3L810.4 406.9L799.6 402.6L789.8 396.3L781.3 388.2L774.3 378.5L769.2 367.6L765.9 355.7L764.7 343.3L765.5 330.6L768.4 318.2L773.2 306.4L779.8 295.5L788.1 286.1L797.8 278.3L808.6 272.4L823.9 265.8L839.2 259.4L854.6 253.2L870.1 247.2L885.6 241.3L901.2 235.7L916.9 230.2L932.6 224.9L948.4 219.7Z" fill="#4a8cba"/><path d="M964.3 192.8L976.3 190.2L988.7 189.9L1001.2 191.7L1013.3 195.6L1024.6 201.4L1034.9 209L1043.7 218L1050.9 228.3L1056.2 239.4L1059.3 251.1L1060.4 262.9L1059.2 274.6L1055.9 285.8L1050.5 296.1L1043.2 305.4L1034.4 313.3L1024.1 319.5L1012.8 324.1L997 329L981.2 334.2L965.4 339.5L949.8 345L934.2 350.7L918.6 356.5L903.2 362.5L887.8 368.7L872.4 375.1L857.1 381.7L845.6 385.6L833.8 387.5L821.9 387.3L810.4 384.9L799.6 380.6L789.8 374.3L781.3 366.2L774.3 356.5L769.2 345.6L765.9 333.7L764.7 321.3L765.5 308.6L768.4 296.2L773.2 284.4L779.8 273.5L788.1 264.1L797.8 256.3L808.6 250.4L823.9 243.8L839.2 237.4L854.6 231.2L870.1 225.2L885.6 219.3L901.2 213.7L916.9 208.2L932.6 202.9L948.4 197.7Z" fill="#5a9bc6" stroke="#246f9c" stroke-width="3.5" stroke-linejoin="round"/><path d="M966.7 199.3L977.5 197L988.7 196.7L999.9 198.3L1010.8 201.8L1021 207L1030.2 213.8L1038.2 221.9L1044.6 231.2L1049.3 241.2L1052.2 251.7L1053.1 262.4L1052.1 272.9L1049.1 283L1044.3 292.3L1037.8 300.6L1029.8 307.8L1020.6 313.4L1010.4 317.5L994.5 322.5L978.7 327.6L963 332.9L947.3 338.4L931.7 344.1L916.2 349.9L900.7 356L885.3 362.2L870 368.5L854.7 375.1L844.4 378.6L833.7 380.3L823 380.1L812.6 378L802.9 374L794 368.3L786.4 361L780.1 352.3L775.5 342.5L772.6 331.8L771.4 320.6L772.2 309.2L774.8 298.1L779.1 287.5L785.1 277.8L792.6 269.2L801.3 262.2L811 256.9L826.3 250.4L841.6 244L857 237.8L872.5 231.8L888 225.9L903.6 220.2L919.3 214.7L935 209.4L950.8 204.3Z" fill="none" stroke="#93c8e0" stroke-width="2.5"/><path d="M969.5 206.8L978.9 204.8L988.7 204.5L998.4 205.9L1007.9 208.9L1016.8 213.4L1024.9 219.4L1031.8 226.4L1037.5 234.5L1041.6 243.2L1044.1 252.4L1044.9 261.7L1044 270.9L1041.4 279.8L1037.2 287.9L1031.5 295.2L1024.5 301.5L1016.5 306.4L1007.6 310L991.8 315L976 320.1L960.2 325.4L944.6 330.9L929 336.6L913.4 342.4L898 348.5L882.6 354.7L867.2 361L851.9 367.6L842.9 370.7L833.6 372.1L824.2 371.9L815.2 370.1L806.7 366.6L798.9 361.6L792.2 355.2L786.8 347.6L782.7 339L780.2 329.7L779.2 319.9L779.9 310L782.1 300.3L785.9 291L791.2 282.6L797.7 275.2L805.3 269.1L813.8 264.4L829.1 257.9L844.4 251.5L859.8 245.3L875.3 239.3L890.8 233.4L906.4 227.7L922.1 222.2L937.8 216.9L953.6 211.8Z" fill="#a9d0e3" stroke="#246f9c" stroke-width="3" stroke-linejoin="round"/><g clip-path="url(#cm1)"><path d="M831.8 385.3L813.9 316.7M812.8 256.1L823.1 295.1M837.7 245.6L863 316.8M906.5 353.7L897.6 316.2M931.7 344.1L898.6 281.7M913.4 216.8L926.8 255.9M939 208.1L957.2 285.9M1008.5 318.1L999.7 284.2M1034.4 310.4L1017.8 239.8" fill="none" stroke="#246f9c" stroke-width="20" stroke-linecap="round"/><path d="M831.8 385.3L813.9 316.7M812.8 256.1L823.1 295.1M837.7 245.6L863 316.8M906.5 353.7L897.6 316.2M931.7 344.1L898.6 281.7M913.4 216.8L926.8 255.9M939 208.1L957.2 285.9M1008.5 318.1L999.7 284.2M1034.4 310.4L1017.8 239.8" fill="none" stroke="#5597c3" stroke-width="14" stroke-linecap="round"/><path d="M831.8 385.3L813.9 316.7M812.8 256.1L823.1 295.1M837.7 245.6L863 316.8M906.5 353.7L897.6 316.2M931.7 344.1L898.6 281.7M913.4 216.8L926.8 255.9M939 208.1L957.2 285.9M1008.5 318.1L999.7 284.2M1034.4 310.4L1017.8 239.8" fill="none" stroke="#3f86b6" stroke-width="2" stroke-linecap="round" opacity="0.6"/><circle cx="982.7" cy="220.4" r="6.1" fill="none" stroke="#2f7fae" stroke-width="2.5" stroke-dasharray="3 1.5"/><circle cx="932.3" cy="318.5" r="7.1" fill="none" stroke="#2f7fae" stroke-width="2.5" stroke-dasharray="3 1.5"/><circle cx="848.7" cy="304.2" r="6.1" fill="none" stroke="#2f7fae" stroke-width="2.5" stroke-dasharray="3 1.5"/></g><path d="M772.8 948.2L779.8 958.5L784.9 970L787.9 982.3L788.9 995.1L787.8 1007.9L784.6 1020.4L779.4 1032L772.5 1042.6L763.9 1051.7L754.1 1059.1L743.3 1064.5L731.8 1067.9L719.9 1069L708.1 1067.9L696.5 1064.6L685.7 1059.3L675.8 1052.1L667.3 1043.2L655.9 1029.5L644.5 1015.8L632.9 1002.3L621.2 988.9L609.3 975.6L597.3 962.5L585.2 949.4L573 936.5L560.6 923.7L548.2 910.9L540.2 901.5L534.1 890.9L529.9 879.6L527.9 867.8L528 855.9L530.4 844.2L534.9 833.1L541.4 822.9L549.8 813.9L559.8 806.4L571 800.6L583.2 796.7L595.9 794.8L608.7 795L621.3 797.3L633.3 801.6L644.2 807.9L653.7 815.9L666.2 828.6L678.5 841.5L690.8 854.4L702.9 867.4L714.8 880.6L726.7 893.9L738.4 907.3L750 920.8L761.5 934.5ZM772.8 976.2L779.8 986.5L784.9 998L787.9 1010.3L788.9 1023.1L787.8 1035.9L784.6 1048.4L779.4 1060L772.5 1070.6L763.9 1079.7L754.1 1087.1L743.3 1092.5L731.8 1095.9L719.9 1097L708.1 1095.9L696.5 1092.6L685.7 1087.3L675.8 1080.1L667.3 1071.2L655.9 1057.5L644.5 1043.8L632.9 1030.3L621.2 1016.9L609.3 1003.6L597.3 990.5L585.2 977.4L573 964.5L560.6 951.7L548.2 938.9L540.2 929.5L534.1 918.9L529.9 907.6L527.9 895.8L528 883.9L530.4 872.2L534.9 861.1L541.4 850.9L549.8 841.9L559.8 834.4L571 828.6L583.2 824.7L595.9 822.8L608.7 823L621.3 825.3L633.3 829.6L644.2 835.9L653.7 843.9L666.2 856.6L678.5 869.5L690.8 882.4L702.9 895.4L714.8 908.6L726.7 921.9L738.4 935.3L750 948.8L761.5 962.5Z" fill="none" stroke="#e6f5f7" stroke-width="11" stroke-linejoin="round" opacity="0.8"/><path d="M772.8 976.2L779.8 986.5L784.9 998L787.9 1010.3L788.9 1023.1L787.8 1035.9L784.6 1048.4L779.4 1060L772.5 1070.6L763.9 1079.7L754.1 1087.1L743.3 1092.5L731.8 1095.9L719.9 1097L708.1 1095.9L696.5 1092.6L685.7 1087.3L675.8 1080.1L667.3 1071.2L655.9 1057.5L644.5 1043.8L632.9 1030.3L621.2 1016.9L609.3 1003.6L597.3 990.5L585.2 977.4L573 964.5L560.6 951.7L548.2 938.9L540.2 929.5L534.1 918.9L529.9 907.6L527.9 895.8L528 883.9L530.4 872.2L534.9 861.1L541.4 850.9L549.8 841.9L559.8 834.4L571 828.6L583.2 824.7L595.9 822.8L608.7 823L621.3 825.3L633.3 829.6L644.2 835.9L653.7 843.9L666.2 856.6L678.5 869.5L690.8 882.4L702.9 895.4L714.8 908.6L726.7 921.9L738.4 935.3L750 948.8L761.5 962.5Z" fill="#4a8cba" stroke="#4a8cba" stroke-width="1"/><path d="M772.8 973.2L779.8 983.5L784.9 995L787.9 1007.3L788.9 1020.1L787.8 1032.9L784.6 1045.4L779.4 1057L772.5 1067.6L763.9 1076.7L754.1 1084.1L743.3 1089.5L731.8 1092.9L719.9 1094L708.1 1092.9L696.5 1089.6L685.7 1084.3L675.8 1077.1L667.3 1068.2L655.9 1054.5L644.5 1040.8L632.9 1027.3L621.2 1013.9L609.3 1000.6L597.3 987.5L585.2 974.4L573 961.5L560.6 948.7L548.2 935.9L540.2 926.5L534.1 915.9L529.9 904.6L527.9 892.8L528 880.9L530.4 869.2L534.9 858.1L541.4 847.9L549.8 838.9L559.8 831.4L571 825.6L583.2 821.7L595.9 819.8L608.7 820L621.3 822.3L633.3 826.6L644.2 832.9L653.7 840.9L666.2 853.6L678.5 866.5L690.8 879.4L702.9 892.4L714.8 905.6L726.7 918.9L738.4 932.3L750 945.8L761.5 959.5Z" fill="#4a8cba" stroke="#4a8cba" stroke-width="1"/><path d="M772.8 970.2L779.8 980.5L784.9 992L787.9 1004.3L788.9 1017.1L787.8 1029.9L784.6 1042.4L779.4 1054L772.5 1064.6L763.9 1073.7L754.1 1081.1L743.3 1086.5L731.8 1089.9L719.9 1091L708.1 1089.9L696.5 1086.6L685.7 1081.3L675.8 1074.1L667.3 1065.2L655.9 1051.5L644.5 1037.8L632.9 1024.3L621.2 1010.9L609.3 997.6L597.3 984.5L585.2 971.4L573 958.5L560.6 945.7L548.2 932.9L540.2 923.5L534.1 912.9L529.9 901.6L527.9 889.8L528 877.9L530.4 866.2L534.9 855.1L541.4 844.9L549.8 835.9L559.8 828.4L571 822.6L583.2 818.7L595.9 816.8L608.7 817L621.3 819.3L633.3 823.6L644.2 829.9L653.7 837.9L666.2 850.6L678.5 863.5L690.8 876.4L702.9 889.4L714.8 902.6L726.7 915.9L738.4 929.3L750 942.8L761.5 956.5Z" fill="#4a8cba" stroke="#4a8cba" stroke-width="1"/><path d="M772.8 967.2L779.8 977.5L784.9 989L787.9 1001.3L788.9 1014.1L787.8 1026.9L784.6 1039.4L779.4 1051L772.5 1061.6L763.9 1070.7L754.1 1078.1L743.3 1083.5L731.8 1086.9L719.9 1088L708.1 1086.9L696.5 1083.6L685.7 1078.3L675.8 1071.1L667.3 1062.2L655.9 1048.5L644.5 1034.8L632.9 1021.3L621.2 1007.9L609.3 994.6L597.3 981.5L585.2 968.4L573 955.5L560.6 942.7L548.2 929.9L540.2 920.5L534.1 909.9L529.9 898.6L527.9 886.8L528 874.9L530.4 863.2L534.9 852.1L541.4 841.9L549.8 832.9L559.8 825.4L571 819.6L583.2 815.7L595.9 813.8L608.7 814L621.3 816.3L633.3 820.6L644.2 826.9L653.7 834.9L666.2 847.6L678.5 860.5L690.8 873.4L702.9 886.4L714.8 899.6L726.7 912.9L738.4 926.3L750 939.8L761.5 953.5Z" fill="#4a8cba" stroke="#4a8cba" stroke-width="1"/><path d="M772.8 964.2L779.8 974.5L784.9 986L787.9 998.3L788.9 1011.1L787.8 1023.9L784.6 1036.4L779.4 1048L772.5 1058.6L763.9 1067.7L754.1 1075.1L743.3 1080.5L731.8 1083.9L719.9 1085L708.1 1083.9L696.5 1080.6L685.7 1075.3L675.8 1068.1L667.3 1059.2L655.9 1045.5L644.5 1031.8L632.9 1018.3L621.2 1004.9L609.3 991.6L597.3 978.5L585.2 965.4L573 952.5L560.6 939.7L548.2 926.9L540.2 917.5L534.1 906.9L529.9 895.6L527.9 883.8L528 871.9L530.4 860.2L534.9 849.1L541.4 838.9L549.8 829.9L559.8 822.4L571 816.6L583.2 812.7L595.9 810.8L608.7 811L621.3 813.3L633.3 817.6L644.2 823.9L653.7 831.9L666.2 844.6L678.5 857.5L690.8 870.4L702.9 883.4L714.8 896.6L726.7 909.9L738.4 923.3L750 936.8L761.5 950.5Z" fill="#4a8cba" stroke="#4a8cba" stroke-width="1"/><path d="M772.8 961.2L779.8 971.5L784.9 983L787.9 995.3L788.9 1008.1L787.8 1020.9L784.6 1033.4L779.4 1045L772.5 1055.6L763.9 1064.7L754.1 1072.1L743.3 1077.5L731.8 1080.9L719.9 1082L708.1 1080.9L696.5 1077.6L685.7 1072.3L675.8 1065.1L667.3 1056.2L655.9 1042.5L644.5 1028.8L632.9 1015.3L621.2 1001.9L609.3 988.6L597.3 975.5L585.2 962.4L573 949.5L560.6 936.7L548.2 923.9L540.2 914.5L534.1 903.9L529.9 892.6L527.9 880.8L528 868.9L530.4 857.2L534.9 846.1L541.4 835.9L549.8 826.9L559.8 819.4L571 813.6L583.2 809.7L595.9 807.8L608.7 808L621.3 810.3L633.3 814.6L644.2 820.9L653.7 828.9L666.2 841.6L678.5 854.5L690.8 867.4L702.9 880.4L714.8 893.6L726.7 906.9L738.4 920.3L750 933.8L761.5 947.5Z" fill="#4a8cba" stroke="#4a8cba" stroke-width="1"/><path d="M772.8 958.2L779.8 968.5L784.9 980L787.9 992.3L788.9 1005.1L787.8 1017.9L784.6 1030.4L779.4 1042L772.5 1052.6L763.9 1061.7L754.1 1069.1L743.3 1074.5L731.8 1077.9L719.9 1079L708.1 1077.9L696.5 1074.6L685.7 1069.3L675.8 1062.1L667.3 1053.2L655.9 1039.5L644.5 1025.8L632.9 1012.3L621.2 998.9L609.3 985.6L597.3 972.5L585.2 959.4L573 946.5L560.6 933.7L548.2 920.9L540.2 911.5L534.1 900.9L529.9 889.6L527.9 877.8L528 865.9L530.4 854.2L534.9 843.1L541.4 832.9L549.8 823.9L559.8 816.4L571 810.6L583.2 806.7L595.9 804.8L608.7 805L621.3 807.3L633.3 811.6L644.2 817.9L653.7 825.9L666.2 838.6L678.5 851.5L690.8 864.4L702.9 877.4L714.8 890.6L726.7 903.9L738.4 917.3L750 930.8L761.5 944.5Z" fill="#4a8cba" stroke="#4a8cba" stroke-width="1"/><path d="M772.8 955.2L779.8 965.5L784.9 977L787.9 989.3L788.9 1002.1L787.8 1014.9L784.6 1027.4L779.4 1039L772.5 1049.6L763.9 1058.7L754.1 1066.1L743.3 1071.5L731.8 1074.9L719.9 1076L708.1 1074.9L696.5 1071.6L685.7 1066.3L675.8 1059.1L667.3 1050.2L655.9 1036.5L644.5 1022.8L632.9 1009.3L621.2 995.9L609.3 982.6L597.3 969.5L585.2 956.4L573 943.5L560.6 930.7L548.2 917.9L540.2 908.5L534.1 897.9L529.9 886.6L527.9 874.8L528 862.9L530.4 851.2L534.9 840.1L541.4 829.9L549.8 820.9L559.8 813.4L571 807.6L583.2 803.7L595.9 801.8L608.7 802L621.3 804.3L633.3 808.6L644.2 814.9L653.7 822.9L666.2 835.6L678.5 848.5L690.8 861.4L702.9 874.4L714.8 887.6L726.7 900.9L738.4 914.3L750 927.8L761.5 941.5Z" fill="#4a8cba" stroke="#4a8cba" stroke-width="1"/><path d="M772.8 952.2L779.8 962.5L784.9 974L787.9 986.3L788.9 999.1L787.8 1011.9L784.6 1024.4L779.4 1036L772.5 1046.6L763.9 1055.7L754.1 1063.1L743.3 1068.5L731.8 1071.9L719.9 1073L708.1 1071.9L696.5 1068.6L685.7 1063.3L675.8 1056.1L667.3 1047.2L655.9 1033.5L644.5 1019.8L632.9 1006.3L621.2 992.9L609.3 979.6L597.3 966.5L585.2 953.4L573 940.5L560.6 927.7L548.2 914.9L540.2 905.5L534.1 894.9L529.9 883.6L527.9 871.8L528 859.9L530.4 848.2L534.9 837.1L541.4 826.9L549.8 817.9L559.8 810.4L571 804.6L583.2 800.7L595.9 798.8L608.7 799L621.3 801.3L633.3 805.6L644.2 811.9L653.7 819.9L666.2 832.6L678.5 845.5L690.8 858.4L702.9 871.4L714.8 884.6L726.7 897.9L738.4 911.3L750 924.8L761.5 938.5Z" fill="#4a8cba" stroke="#4a8cba" stroke-width="1"/><path d="M772.8 949.2L779.8 959.5L784.9 971L787.9 983.3L788.9 996.1L787.8 1008.9L784.6 1021.4L779.4 1033L772.5 1043.6L763.9 1052.7L754.1 1060.1L743.3 1065.5L731.8 1068.9L719.9 1070L708.1 1068.9L696.5 1065.6L685.7 1060.3L675.8 1053.1L667.3 1044.2L655.9 1030.5L644.5 1016.8L632.9 1003.3L621.2 989.9L609.3 976.6L597.3 963.5L585.2 950.4L573 937.5L560.6 924.7L548.2 911.9L540.2 902.5L534.1 891.9L529.9 880.6L527.9 868.8L528 856.9L530.4 845.2L534.9 834.1L541.4 823.9L549.8 814.9L559.8 807.4L571 801.6L583.2 797.7L595.9 795.8L608.7 796L621.3 798.3L633.3 802.6L644.2 808.9L653.7 816.9L666.2 829.6L678.5 842.5L690.8 855.4L702.9 868.4L714.8 881.6L726.7 894.9L738.4 908.3L750 921.8L761.5 935.5Z" fill="#4a8cba" stroke="#4a8cba" stroke-width="1"/><path d="M772.8 976.2L779.8 986.5L784.9 998L787.9 1010.3L788.9 1023.1L787.8 1035.9L784.6 1048.4L779.4 1060L772.5 1070.6L763.9 1079.7L754.1 1087.1L743.3 1092.5L731.8 1095.9L719.9 1097L708.1 1095.9L696.5 1092.6L685.7 1087.3L675.8 1080.1L667.3 1071.2L655.9 1057.5L644.5 1043.8L632.9 1030.3L621.2 1016.9L609.3 1003.6L597.3 990.5L585.2 977.4L573 964.5L560.6 951.7L548.2 938.9L540.2 929.5L534.1 918.9L529.9 907.6L527.9 895.8L528 883.9L530.4 872.2L534.9 861.1L541.4 850.9L549.8 841.9L559.8 834.4L571 828.6L583.2 824.7L595.9 822.8L608.7 823L621.3 825.3L633.3 829.6L644.2 835.9L653.7 843.9L666.2 856.6L678.5 869.5L690.8 882.4L702.9 895.4L714.8 908.6L726.7 921.9L738.4 935.3L750 948.8L761.5 962.5Z" fill="#4a8cba" stroke="#246f9c" stroke-width="3.5" stroke-linejoin="round"/><path d="M772.8 972.2L779.8 982.5L784.9 994L787.9 1006.3L788.9 1019.1L787.8 1031.9L784.6 1044.4L779.4 1056L772.5 1066.6L763.9 1075.7L754.1 1083.1L743.3 1088.5L731.8 1091.9L719.9 1093L708.1 1091.9L696.5 1088.6L685.7 1083.3L675.8 1076.1L667.3 1067.2L655.9 1053.5L644.5 1039.8L632.9 1026.3L621.2 1012.9L609.3 999.6L597.3 986.5L585.2 973.4L573 960.5L560.6 947.7L548.2 934.9L540.2 925.5L534.1 914.9L529.9 903.6L527.9 891.8L528 879.9L530.4 868.2L534.9 857.1L541.4 846.9L549.8 837.9L559.8 830.4L571 824.6L583.2 820.7L595.9 818.8L608.7 819L621.3 821.3L633.3 825.6L644.2 831.9L653.7 839.9L666.2 852.6L678.5 865.5L690.8 878.4L702.9 891.4L714.8 904.6L726.7 917.9L738.4 931.3L750 944.8L761.5 958.5Z" fill="#4a8cba"/><path d="M772.8 948.2L779.8 958.5L784.9 970L787.9 982.3L788.9 995.1L787.8 1007.9L784.6 1020.4L779.4 1032L772.5 1042.6L763.9 1051.7L754.1 1059.1L743.3 1064.5L731.8 1067.9L719.9 1069L708.1 1067.9L696.5 1064.6L685.7 1059.3L675.8 1052.1L667.3 1043.2L655.9 1029.5L644.5 1015.8L632.9 1002.3L621.2 988.9L609.3 975.6L597.3 962.5L585.2 949.4L573 936.5L560.6 923.7L548.2 910.9L540.2 901.5L534.1 890.9L529.9 879.6L527.9 867.8L528 855.9L530.4 844.2L534.9 833.1L541.4 822.9L549.8 813.9L559.8 806.4L571 800.6L583.2 796.7L595.9 794.8L608.7 795L621.3 797.3L633.3 801.6L644.2 807.9L653.7 815.9L666.2 828.6L678.5 841.5L690.8 854.4L702.9 867.4L714.8 880.6L726.7 893.9L738.4 907.3L750 920.8L761.5 934.5Z" fill="#5a9bc6" stroke="#246f9c" stroke-width="3.5" stroke-linejoin="round"/><path d="M767.6 952.9L773.9 962.2L778.5 972.5L781.3 983.6L782.2 995.1L781.1 1006.7L778.3 1017.9L773.6 1028.4L767.4 1037.9L759.7 1046.1L750.9 1052.8L741.1 1057.7L730.7 1060.7L720 1061.7L709.3 1060.7L698.9 1057.8L689.1 1053L680.2 1046.5L672.5 1038.5L661.1 1024.8L649.7 1011.2L638.1 997.6L626.4 984.2L614.5 971L602.5 957.8L590.4 944.7L578.2 931.8L565.8 919L553.4 906.3L546.2 897.7L540.7 888.2L537 878L535.1 867.3L535.3 856.6L537.4 846L541.5 836L547.4 826.8L554.9 818.7L563.9 811.9L574 806.7L585 803.2L596.4 801.5L608 801.7L619.3 803.8L630.1 807.7L639.9 813.4L648.5 820.6L661 833.3L673.3 846.1L685.6 859.1L697.7 872.1L709.6 885.3L721.5 898.6L733.2 912L744.8 925.5L756.3 939.1Z" fill="none" stroke="#93c8e0" stroke-width="2.5"/><path d="M761.6 958.2L767.1 966.4L771.2 975.4L773.6 985.1L774.4 995.2L773.6 1005.2L771.1 1015L767 1024.2L761.5 1032.5L754.8 1039.7L747.1 1045.6L738.5 1049.9L729.4 1052.5L720.1 1053.4L710.7 1052.6L701.5 1050L693 1045.9L685.2 1040.2L678.4 1033.2L667.1 1019.4L655.6 1005.8L644 992.3L632.3 978.9L620.5 965.6L608.5 952.4L596.4 939.4L584.2 926.4L571.8 913.6L559.3 900.9L553.1 893.4L548.2 885.1L545 876.1L543.4 866.8L543.5 857.4L545.4 848.1L549 839.4L554.2 831.3L560.8 824.2L568.6 818.3L577.5 813.7L587 810.7L597 809.2L607.1 809.4L617.1 811.2L626.4 814.7L635 819.6L642.5 826L655 838.7L667.4 851.5L679.6 864.4L691.7 877.5L703.7 890.7L715.5 903.9L727.3 917.3L738.8 930.9L750.3 944.5Z" fill="#a9d0e3" stroke="#246f9c" stroke-width="3" stroke-linejoin="round"/><g clip-path="url(#cm2)"><path d="M630 802.3L574 864.7M555.3 908.2L572.4 883.9M575.4 928.8L639.2 877.7M690.2 864.1L659 888.1M709.6 885.3L652.7 939.4M633.6 992.5L658 963.1M652.3 1014.3L707.4 961.8M765.8 950.8L741.3 983.5M783.9 973.2L722.6 1029.6" fill="none" stroke="#246f9c" stroke-width="20" stroke-linecap="round"/><path d="M630 802.3L574 864.7M555.3 908.2L572.4 883.9M575.4 928.8L639.2 877.7M690.2 864.1L659 888.1M709.6 885.3L652.7 939.4M633.6 992.5L658 963.1M652.3 1014.3L707.4 961.8M765.8 950.8L741.3 983.5M783.9 973.2L722.6 1029.6" fill="none" stroke="#5597c3" stroke-width="14" stroke-linecap="round"/><path d="M630 802.3L574 864.7M555.3 908.2L572.4 883.9M575.4 928.8L639.2 877.7M690.2 864.1L659 888.1M709.6 885.3L652.7 939.4M633.6 992.5L658 963.1M652.3 1014.3L707.4 961.8M765.8 950.8L741.3 983.5M783.9 973.2L722.6 1029.6" fill="none" stroke="#3f86b6" stroke-width="2" stroke-linecap="round" opacity="0.6"/><circle cx="665.6" cy="907.1" r="6.1" fill="none" stroke="#2f7fae" stroke-width="2.5" stroke-dasharray="3 1.5"/><circle cx="586.3" cy="843.7" r="7" fill="none" stroke="#2f7fae" stroke-width="2.5" stroke-dasharray="3 1.5"/><circle cx="616.3" cy="930.6" r="7.6" fill="none" stroke="#2f7fae" stroke-width="2.5" stroke-dasharray="3 1.5"/></g><path d="M1153 1163.6L1164.8 1165.9L1175.9 1170.2L1186 1176.2L1194.7 1183.9L1201.9 1193L1207.2 1203.3L1210.6 1214.4L1211.9 1226.1L1211.1 1238.1L1208.2 1249.8L1203.2 1261.1L1196.4 1271.4L1188 1280.6L1178.2 1288.3L1167.3 1294.2L1155.6 1298.2L1143.5 1300.2L1131.4 1299.9L1111.8 1297.7L1092.3 1295.3L1072.7 1292.7L1053.2 1289.9L1033.8 1286.9L1014.3 1283.7L994.9 1280.4L975.5 1276.8L956.2 1273.1L936.9 1269.1L925.3 1265.6L914.4 1260L904.5 1252.6L896 1243.6L889 1233.2L883.8 1221.9L880.6 1209.9L879.4 1197.7L880.2 1185.6L883.1 1174.1L888 1163.3L894.6 1153.8L902.9 1145.6L912.5 1139.2L923.2 1134.6L934.7 1132L946.5 1131.4L958.4 1132.8L977.8 1136.8L997.1 1140.5L1016.5 1144.1L1035.9 1147.4L1055.4 1150.6L1074.8 1153.6L1094.3 1156.4L1113.9 1159L1133.4 1161.4ZM1153 1191.6L1164.8 1193.9L1175.9 1198.2L1186 1204.2L1194.7 1211.9L1201.9 1221L1207.2 1231.3L1210.6 1242.4L1211.9 1254.1L1211.1 1266.1L1208.2 1277.8L1203.2 1289.1L1196.4 1299.4L1188 1308.6L1178.2 1316.3L1167.3 1322.2L1155.6 1326.2L1143.5 1328.2L1131.4 1327.9L1111.8 1325.7L1092.3 1323.3L1072.7 1320.7L1053.2 1317.9L1033.8 1314.9L1014.3 1311.7L994.9 1308.4L975.5 1304.8L956.2 1301.1L936.9 1297.1L925.3 1293.6L914.4 1288L904.5 1280.6L896 1271.6L889 1261.2L883.8 1249.9L880.6 1237.9L879.4 1225.7L880.2 1213.6L883.1 1202.1L888 1191.3L894.6 1181.8L902.9 1173.6L912.5 1167.2L923.2 1162.6L934.7 1160L946.5 1159.4L958.4 1160.8L977.8 1164.8L997.1 1168.5L1016.5 1172.1L1035.9 1175.4L1055.4 1178.6L1074.8 1181.6L1094.3 1184.4L1113.9 1187L1133.4 1189.4Z" fill="none" stroke="#e6f5f7" stroke-width="11" stroke-linejoin="round" opacity="0.8"/><path d="M1153 1191.6L1164.8 1193.9L1175.9 1198.2L1186 1204.2L1194.7 1211.9L1201.9 1221L1207.2 1231.3L1210.6 1242.4L1211.9 1254.1L1211.1 1266.1L1208.2 1277.8L1203.2 1289.1L1196.4 1299.4L1188 1308.6L1178.2 1316.3L1167.3 1322.2L1155.6 1326.2L1143.5 1328.2L1131.4 1327.9L1111.8 1325.7L1092.3 1323.3L1072.7 1320.7L1053.2 1317.9L1033.8 1314.9L1014.3 1311.7L994.9 1308.4L975.5 1304.8L956.2 1301.1L936.9 1297.1L925.3 1293.6L914.4 1288L904.5 1280.6L896 1271.6L889 1261.2L883.8 1249.9L880.6 1237.9L879.4 1225.7L880.2 1213.6L883.1 1202.1L888 1191.3L894.6 1181.8L902.9 1173.6L912.5 1167.2L923.2 1162.6L934.7 1160L946.5 1159.4L958.4 1160.8L977.8 1164.8L997.1 1168.5L1016.5 1172.1L1035.9 1175.4L1055.4 1178.6L1074.8 1181.6L1094.3 1184.4L1113.9 1187L1133.4 1189.4Z" fill="#4a8cba" stroke="#4a8cba" stroke-width="1"/><path d="M1153 1188.6L1164.8 1190.9L1175.9 1195.2L1186 1201.2L1194.7 1208.9L1201.9 1218L1207.2 1228.3L1210.6 1239.4L1211.9 1251.1L1211.1 1263.1L1208.2 1274.8L1203.2 1286.1L1196.4 1296.4L1188 1305.6L1178.2 1313.3L1167.3 1319.2L1155.6 1323.2L1143.5 1325.2L1131.4 1324.9L1111.8 1322.7L1092.3 1320.3L1072.7 1317.7L1053.2 1314.9L1033.8 1311.9L1014.3 1308.7L994.9 1305.4L975.5 1301.8L956.2 1298.1L936.9 1294.1L925.3 1290.6L914.4 1285L904.5 1277.6L896 1268.6L889 1258.2L883.8 1246.9L880.6 1234.9L879.4 1222.7L880.2 1210.6L883.1 1199.1L888 1188.3L894.6 1178.8L902.9 1170.6L912.5 1164.2L923.2 1159.6L934.7 1157L946.5 1156.4L958.4 1157.8L977.8 1161.8L997.1 1165.5L1016.5 1169.1L1035.9 1172.4L1055.4 1175.6L1074.8 1178.6L1094.3 1181.4L1113.9 1184L1133.4 1186.4Z" fill="#4a8cba" stroke="#4a8cba" stroke-width="1"/><path d="M1153 1185.6L1164.8 1187.9L1175.9 1192.2L1186 1198.2L1194.7 1205.9L1201.9 1215L1207.2 1225.3L1210.6 1236.4L1211.9 1248.1L1211.1 1260.1L1208.2 1271.8L1203.2 1283.1L1196.4 1293.4L1188 1302.6L1178.2 1310.3L1167.3 1316.2L1155.6 1320.2L1143.5 1322.2L1131.4 1321.9L1111.8 1319.7L1092.3 1317.3L1072.7 1314.7L1053.2 1311.9L1033.8 1308.9L1014.3 1305.7L994.9 1302.4L975.5 1298.8L956.2 1295.1L936.9 1291.1L925.3 1287.6L914.4 1282L904.5 1274.6L896 1265.6L889 1255.2L883.8 1243.9L880.6 1231.9L879.4 1219.7L880.2 1207.6L883.1 1196.1L888 1185.3L894.6 1175.8L902.9 1167.6L912.5 1161.2L923.2 1156.6L934.7 1154L946.5 1153.4L958.4 1154.8L977.8 1158.8L997.1 1162.5L1016.5 1166.1L1035.9 1169.4L1055.4 1172.6L1074.8 1175.6L1094.3 1178.4L1113.9 1181L1133.4 1183.4Z" fill="#4a8cba" stroke="#4a8cba" stroke-width="1"/><path d="M1153 1182.6L1164.8 1184.9L1175.9 1189.2L1186 1195.2L1194.7 1202.9L1201.9 1212L1207.2 1222.3L1210.6 1233.4L1211.9 1245.1L1211.1 1257.1L1208.2 1268.8L1203.2 1280.1L1196.4 1290.4L1188 1299.6L1178.2 1307.3L1167.3 1313.2L1155.6 1317.2L1143.5 1319.2L1131.4 1318.9L1111.8 1316.7L1092.3 1314.3L1072.7 1311.7L1053.2 1308.9L1033.8 1305.9L1014.3 1302.7L994.9 1299.4L975.5 1295.8L956.2 1292.1L936.9 1288.1L925.3 1284.6L914.4 1279L904.5 1271.6L896 1262.6L889 1252.2L883.8 1240.9L880.6 1228.9L879.4 1216.7L880.2 1204.6L883.1 1193.1L888 1182.3L894.6 1172.8L902.9 1164.6L912.5 1158.2L923.2 1153.6L934.7 1151L946.5 1150.4L958.4 1151.8L977.8 1155.8L997.1 1159.5L1016.5 1163.1L1035.9 1166.4L1055.4 1169.6L1074.8 1172.6L1094.3 1175.4L1113.9 1178L1133.4 1180.4Z" fill="#4a8cba" stroke="#4a8cba" stroke-width="1"/><path d="M1153 1179.6L1164.8 1181.9L1175.9 1186.2L1186 1192.2L1194.7 1199.9L1201.9 1209L1207.2 1219.3L1210.6 1230.4L1211.9 1242.1L1211.1 1254.1L1208.2 1265.8L1203.2 1277.1L1196.4 1287.4L1188 1296.6L1178.2 1304.3L1167.3 1310.2L1155.6 1314.2L1143.5 1316.2L1131.4 1315.9L1111.8 1313.7L1092.3 1311.3L1072.7 1308.7L1053.2 1305.9L1033.8 1302.9L1014.3 1299.7L994.9 1296.4L975.5 1292.8L956.2 1289.1L936.9 1285.1L925.3 1281.6L914.4 1276L904.5 1268.6L896 1259.6L889 1249.2L883.8 1237.9L880.6 1225.9L879.4 1213.7L880.2 1201.6L883.1 1190.1L888 1179.3L894.6 1169.8L902.9 1161.6L912.5 1155.2L923.2 1150.6L934.7 1148L946.5 1147.4L958.4 1148.8L977.8 1152.8L997.1 1156.5L1016.5 1160.1L1035.9 1163.4L1055.4 1166.6L1074.8 1169.6L1094.3 1172.4L1113.9 1175L1133.4 1177.4Z" fill="#4a8cba" stroke="#4a8cba" stroke-width="1"/><path d="M1153 1176.6L1164.8 1178.9L1175.9 1183.2L1186 1189.2L1194.7 1196.9L1201.9 1206L1207.2 1216.3L1210.6 1227.4L1211.9 1239.1L1211.1 1251.1L1208.2 1262.8L1203.2 1274.1L1196.4 1284.4L1188 1293.6L1178.2 1301.3L1167.3 1307.2L1155.6 1311.2L1143.5 1313.2L1131.4 1312.9L1111.8 1310.7L1092.3 1308.3L1072.7 1305.7L1053.2 1302.9L1033.8 1299.9L1014.3 1296.7L994.9 1293.4L975.5 1289.8L956.2 1286.1L936.9 1282.1L925.3 1278.6L914.4 1273L904.5 1265.6L896 1256.6L889 1246.2L883.8 1234.9L880.6 1222.9L879.4 1210.7L880.2 1198.6L883.1 1187.1L888 1176.3L894.6 1166.8L902.9 1158.6L912.5 1152.2L923.2 1147.6L934.7 1145L946.5 1144.4L958.4 1145.8L977.8 1149.8L997.1 1153.5L1016.5 1157.1L1035.9 1160.4L1055.4 1163.6L1074.8 1166.6L1094.3 1169.4L1113.9 1172L1133.4 1174.4Z" fill="#4a8cba" stroke="#4a8cba" stroke-width="1"/><path d="M1153 1173.6L1164.8 1175.9L1175.9 1180.2L1186 1186.2L1194.7 1193.9L1201.9 1203L1207.2 1213.3L1210.6 1224.4L1211.9 1236.1L1211.1 1248.1L1208.2 1259.8L1203.2 1271.1L1196.4 1281.4L1188 1290.6L1178.2 1298.3L1167.3 1304.2L1155.6 1308.2L1143.5 1310.2L1131.4 1309.9L1111.8 1307.7L1092.3 1305.3L1072.7 1302.7L1053.2 1299.9L1033.8 1296.9L1014.3 1293.7L994.9 1290.4L975.5 1286.8L956.2 1283.1L936.9 1279.1L925.3 1275.6L914.4 1270L904.5 1262.6L896 1253.6L889 1243.2L883.8 1231.9L880.6 1219.9L879.4 1207.7L880.2 1195.6L883.1 1184.1L888 1173.3L894.6 1163.8L902.9 1155.6L912.5 1149.2L923.2 1144.6L934.7 1142L946.5 1141.4L958.4 1142.8L977.8 1146.8L997.1 1150.5L1016.5 1154.1L1035.9 1157.4L1055.4 1160.6L1074.8 1163.6L1094.3 1166.4L1113.9 1169L1133.4 1171.4Z" fill="#4a8cba" stroke="#4a8cba" stroke-width="1"/><path d="M1153 1170.6L1164.8 1172.9L1175.9 1177.2L1186 1183.2L1194.7 1190.9L1201.9 1200L1207.2 1210.3L1210.6 1221.4L1211.9 1233.1L1211.1 1245.1L1208.2 1256.8L1203.2 1268.1L1196.4 1278.4L1188 1287.6L1178.2 1295.3L1167.3 1301.2L1155.6 1305.2L1143.5 1307.2L1131.4 1306.9L1111.8 1304.7L1092.3 1302.3L1072.7 1299.7L1053.2 1296.9L1033.8 1293.9L1014.3 1290.7L994.9 1287.4L975.5 1283.8L956.2 1280.1L936.9 1276.1L925.3 1272.6L914.4 1267L904.5 1259.6L896 1250.6L889 1240.2L883.8 1228.9L880.6 1216.9L879.4 1204.7L880.2 1192.6L883.1 1181.1L888 1170.3L894.6 1160.8L902.9 1152.6L912.5 1146.2L923.2 1141.6L934.7 1139L946.5 1138.4L958.4 1139.8L977.8 1143.8L997.1 1147.5L1016.5 1151.1L1035.9 1154.4L1055.4 1157.6L1074.8 1160.6L1094.3 1163.4L1113.9 1166L1133.4 1168.4Z" fill="#4a8cba" stroke="#4a8cba" stroke-width="1"/><path d="M1153 1167.6L1164.8 1169.9L1175.9 1174.2L1186 1180.2L1194.7 1187.9L1201.9 1197L1207.2 1207.3L1210.6 1218.4L1211.9 1230.1L1211.1 1242.1L1208.2 1253.8L1203.2 1265.1L1196.4 1275.4L1188 1284.6L1178.2 1292.3L1167.3 1298.2L1155.6 1302.2L1143.5 1304.2L1131.4 1303.9L1111.8 1301.7L1092.3 1299.3L1072.7 1296.7L1053.2 1293.9L1033.8 1290.9L1014.3 1287.7L994.9 1284.4L975.5 1280.8L956.2 1277.1L936.9 1273.1L925.3 1269.6L914.4 1264L904.5 1256.6L896 1247.6L889 1237.2L883.8 1225.9L880.6 1213.9L879.4 1201.7L880.2 1189.6L883.1 1178.1L888 1167.3L894.6 1157.8L902.9 1149.6L912.5 1143.2L923.2 1138.6L934.7 1136L946.5 1135.4L958.4 1136.8L977.8 1140.8L997.1 1144.5L1016.5 1148.1L1035.9 1151.4L1055.4 1154.6L1074.8 1157.6L1094.3 1160.4L1113.9 1163L1133.4 1165.4Z" fill="#4a8cba" stroke="#4a8cba" stroke-width="1"/><path d="M1153 1164.6L1164.8 1166.9L1175.9 1171.2L1186 1177.2L1194.7 1184.9L1201.9 1194L1207.2 1204.3L1210.6 1215.4L1211.9 1227.1L1211.1 1239.1L1208.2 1250.8L1203.2 1262.1L1196.4 1272.4L1188 1281.6L1178.2 1289.3L1167.3 1295.2L1155.6 1299.2L1143.5 1301.2L1131.4 1300.9L1111.8 1298.7L1092.3 1296.3L1072.7 1293.7L1053.2 1290.9L1033.8 1287.9L1014.3 1284.7L994.9 1281.4L975.5 1277.8L956.2 1274.1L936.9 1270.1L925.3 1266.6L914.4 1261L904.5 1253.6L896 1244.6L889 1234.2L883.8 1222.9L880.6 1210.9L879.4 1198.7L880.2 1186.6L883.1 1175.1L888 1164.3L894.6 1154.8L902.9 1146.6L912.5 1140.2L923.2 1135.6L934.7 1133L946.5 1132.4L958.4 1133.8L977.8 1137.8L997.1 1141.5L1016.5 1145.1L1035.9 1148.4L1055.4 1151.6L1074.8 1154.6L1094.3 1157.4L1113.9 1160L1133.4 1162.4Z" fill="#4a8cba" stroke="#4a8cba" stroke-width="1"/><path d="M1153 1191.6L1164.8 1193.9L1175.9 1198.2L1186 1204.2L1194.7 1211.9L1201.9 1221L1207.2 1231.3L1210.6 1242.4L1211.9 1254.1L1211.1 1266.1L1208.2 1277.8L1203.2 1289.1L1196.4 1299.4L1188 1308.6L1178.2 1316.3L1167.3 1322.2L1155.6 1326.2L1143.5 1328.2L1131.4 1327.9L1111.8 1325.7L1092.3 1323.3L1072.7 1320.7L1053.2 1317.9L1033.8 1314.9L1014.3 1311.7L994.9 1308.4L975.5 1304.8L956.2 1301.1L936.9 1297.1L925.3 1293.6L914.4 1288L904.5 1280.6L896 1271.6L889 1261.2L883.8 1249.9L880.6 1237.9L879.4 1225.7L880.2 1213.6L883.1 1202.1L888 1191.3L894.6 1181.8L902.9 1173.6L912.5 1167.2L923.2 1162.6L934.7 1160L946.5 1159.4L958.4 1160.8L977.8 1164.8L997.1 1168.5L1016.5 1172.1L1035.9 1175.4L1055.4 1178.6L1074.8 1181.6L1094.3 1184.4L1113.9 1187L1133.4 1189.4Z" fill="#4a8cba" stroke="#246f9c" stroke-width="3.5" stroke-linejoin="round"/><path d="M1153 1187.6L1164.8 1189.9L1175.9 1194.2L1186 1200.2L1194.7 1207.9L1201.9 1217L1207.2 1227.3L1210.6 1238.4L1211.9 1250.1L1211.1 1262.1L1208.2 1273.8L1203.2 1285.1L1196.4 1295.4L1188 1304.6L1178.2 1312.3L1167.3 1318.2L1155.6 1322.2L1143.5 1324.2L1131.4 1323.9L1111.8 1321.7L1092.3 1319.3L1072.7 1316.7L1053.2 1313.9L1033.8 1310.9L1014.3 1307.7L994.9 1304.4L975.5 1300.8L956.2 1297.1L936.9 1293.1L925.3 1289.6L914.4 1284L904.5 1276.6L896 1267.6L889 1257.2L883.8 1245.9L880.6 1233.9L879.4 1221.7L880.2 1209.6L883.1 1198.1L888 1187.3L894.6 1177.8L902.9 1169.6L912.5 1163.2L923.2 1158.6L934.7 1156L946.5 1155.4L958.4 1156.8L977.8 1160.8L997.1 1164.5L1016.5 1168.1L1035.9 1171.4L1055.4 1174.6L1074.8 1177.6L1094.3 1180.4L1113.9 1183L1133.4 1185.4Z" fill="#4a8cba"/><path d="M1153 1163.6L1164.8 1165.9L1175.9 1170.2L1186 1176.2L1194.7 1183.9L1201.9 1193L1207.2 1203.3L1210.6 1214.4L1211.9 1226.1L1211.1 1238.1L1208.2 1249.8L1203.2 1261.1L1196.4 1271.4L1188 1280.6L1178.2 1288.3L1167.3 1294.2L1155.6 1298.2L1143.5 1300.2L1131.4 1299.9L1111.8 1297.7L1092.3 1295.3L1072.7 1292.7L1053.2 1289.9L1033.8 1286.9L1014.3 1283.7L994.9 1280.4L975.5 1276.8L956.2 1273.1L936.9 1269.1L925.3 1265.6L914.4 1260L904.5 1252.6L896 1243.6L889 1233.2L883.8 1221.9L880.6 1209.9L879.4 1197.7L880.2 1185.6L883.1 1174.1L888 1163.3L894.6 1153.8L902.9 1145.6L912.5 1139.2L923.2 1134.6L934.7 1132L946.5 1131.4L958.4 1132.8L977.8 1136.8L997.1 1140.5L1016.5 1144.1L1035.9 1147.4L1055.4 1150.6L1074.8 1153.6L1094.3 1156.4L1113.9 1159L1133.4 1161.4Z" fill="#5a9bc6" stroke="#246f9c" stroke-width="3.5" stroke-linejoin="round"/><path d="M1151.9 1170.5L1162.5 1172.6L1172.5 1176.4L1181.5 1181.9L1189.4 1188.8L1195.8 1197L1200.6 1206.2L1203.7 1216.3L1204.8 1226.8L1204.1 1237.5L1201.5 1248.1L1197 1258.2L1190.9 1267.5L1183.4 1275.7L1174.5 1282.6L1164.7 1287.9L1154.2 1291.5L1143.4 1293.2L1132.5 1293L1112.9 1290.8L1093.4 1288.4L1073.8 1285.8L1054.3 1283L1034.9 1280L1015.4 1276.8L996 1273.5L976.6 1269.9L957.3 1266.1L938 1262.2L927.6 1259L917.8 1254.1L908.9 1247.4L901.2 1239.3L895 1230L890.3 1219.9L887.4 1209.1L886.3 1198.2L887 1187.3L889.6 1176.9L894 1167.2L900 1158.6L907.4 1151.3L916.1 1145.5L925.7 1141.3L936 1139L946.7 1138.4L957.4 1139.7L976.7 1143.7L996 1147.4L1015.4 1151L1034.8 1154.4L1054.3 1157.5L1073.7 1160.5L1093.2 1163.3L1112.8 1165.9L1132.3 1168.3Z" fill="none" stroke="#93c8e0" stroke-width="2.5"/><path d="M1150.7 1178.4L1159.9 1180.2L1168.6 1183.6L1176.4 1188.3L1183.3 1194.4L1188.9 1201.5L1193.1 1209.6L1195.7 1218.4L1196.7 1227.6L1196.1 1236.9L1193.8 1246.1L1189.9 1254.9L1184.6 1263L1178 1270.1L1170.4 1276.1L1161.8 1280.7L1152.7 1283.8L1143.2 1285.3L1133.8 1285.1L1114.2 1282.9L1094.6 1280.5L1075.1 1277.9L1055.6 1275.1L1036.1 1272.1L1016.7 1268.9L997.3 1265.6L977.9 1262L958.5 1258.2L939.2 1254.3L930.1 1251.5L921.6 1247.2L913.9 1241.4L907.2 1234.4L901.8 1226.3L897.7 1217.5L895.1 1208.2L894.2 1198.6L894.8 1189.2L897.1 1180.1L900.9 1171.7L906.1 1164.2L912.6 1157.8L920.2 1152.7L928.5 1149.1L937.5 1147L946.8 1146.5L956.1 1147.6L975.4 1151.6L994.8 1155.3L1014.2 1158.9L1033.6 1162.3L1053 1165.4L1072.5 1168.4L1092 1171.2L1111.5 1173.8L1131.1 1176.2Z" fill="#a9d0e3" stroke="#246f9c" stroke-width="3" stroke-linejoin="round"/><g clip-path="url(#cm3)"><path d="M914.5 1257.1L926.4 1187.4M963.8 1141.1L960.3 1173.9M993.9 1147L973.4 1220.7M1004.7 1275L1014.2 1248.9M1034.9 1280L1040.7 1209M1084.5 1162.1L1077.3 1204.6M1114.9 1166.2L1102.1 1243.9M1125.9 1292.3L1126.3 1254.5M1156.4 1295.5L1175.6 1221.5" fill="none" stroke="#246f9c" stroke-width="20" stroke-linecap="round"/><path d="M914.5 1257.1L926.4 1187.4M963.8 1141.1L960.3 1173.9M993.9 1147L973.4 1220.7M1004.7 1275L1014.2 1248.9M1034.9 1280L1040.7 1209M1084.5 1162.1L1077.3 1204.6M1114.9 1166.2L1102.1 1243.9M1125.9 1292.3L1126.3 1254.5M1156.4 1295.5L1175.6 1221.5" fill="none" stroke="#5597c3" stroke-width="14" stroke-linecap="round"/><path d="M914.5 1257.1L926.4 1187.4M963.8 1141.1L960.3 1173.9M993.9 1147L973.4 1220.7M1004.7 1275L1014.2 1248.9M1034.9 1280L1040.7 1209M1084.5 1162.1L1077.3 1204.6M1114.9 1166.2L1102.1 1243.9M1125.9 1292.3L1126.3 1254.5M1156.4 1295.5L1175.6 1221.5" fill="none" stroke="#3f86b6" stroke-width="2" stroke-linecap="round" opacity="0.6"/><circle cx="1047.8" cy="1236" r="8" fill="none" stroke="#2f7fae" stroke-width="2.5" stroke-dasharray="3 1.5"/><circle cx="932" cy="1219" r="7.8" fill="none" stroke="#2f7fae" stroke-width="2.5" stroke-dasharray="3 1.5"/><circle cx="1000.8" cy="1171" r="8.6" fill="none" stroke="#2f7fae" stroke-width="2.5" stroke-dasharray="3 1.5"/></g><path d="M2056.2 925.5L2064 915.9L2073.2 907.9L2083.6 901.6L2094.8 897.4L2106.5 895.3L2118.5 895.4L2130.3 897.7L2141.5 902.2L2152 908.7L2161.2 917L2169 926.9L2175.2 938.1L2179.4 950.2L2181.7 962.9L2181.8 975.6L2179.8 988.2L2175.7 1000L2169.6 1010.9L2158.4 1027.2L2147 1043.5L2135.5 1059.6L2123.8 1075.5L2111.9 1091.4L2099.9 1107.2L2087.8 1122.8L2075.5 1138.3L2063.1 1153.8L2050.5 1169.1L2041.7 1177.9L2031.4 1185.1L2019.9 1190.5L2007.6 1193.9L1994.8 1195.2L1982 1194.5L1969.6 1191.6L1957.9 1186.9L1947.3 1180.2L1938.2 1172L1930.8 1162.4L1925.3 1151.7L1921.9 1140.3L1920.7 1128.4L1921.7 1116.5L1924.8 1104.8L1930 1093.7L1937.1 1083.6L1949.7 1068.3L1962.1 1052.9L1974.4 1037.4L1986.5 1021.7L1998.5 1006L2010.4 990.1L2022.1 974.1L2033.6 958L2045 941.8ZM2056.2 955.5L2064 945.9L2073.2 937.9L2083.6 931.6L2094.8 927.4L2106.5 925.3L2118.5 925.4L2130.3 927.7L2141.5 932.2L2152 938.7L2161.2 947L2169 956.9L2175.2 968.1L2179.4 980.2L2181.7 992.9L2181.8 1005.6L2179.8 1018.2L2175.7 1030L2169.6 1040.9L2158.4 1057.2L2147 1073.5L2135.5 1089.6L2123.8 1105.5L2111.9 1121.4L2099.9 1137.2L2087.8 1152.8L2075.5 1168.3L2063.1 1183.8L2050.5 1199.1L2041.7 1207.9L2031.4 1215.1L2019.9 1220.5L2007.6 1223.9L1994.8 1225.2L1982 1224.5L1969.6 1221.6L1957.9 1216.9L1947.3 1210.2L1938.2 1202L1930.8 1192.4L1925.3 1181.7L1921.9 1170.3L1920.7 1158.4L1921.7 1146.5L1924.8 1134.8L1930 1123.7L1937.1 1113.6L1949.7 1098.3L1962.1 1082.9L1974.4 1067.4L1986.5 1051.7L1998.5 1036L2010.4 1020.1L2022.1 1004.1L2033.6 988L2045 971.8Z" fill="none" stroke="#e6f5f7" stroke-width="11" stroke-linejoin="round" opacity="0.8"/><path d="M2056.2 955.5L2064 945.9L2073.2 937.9L2083.6 931.6L2094.8 927.4L2106.5 925.3L2118.5 925.4L2130.3 927.7L2141.5 932.2L2152 938.7L2161.2 947L2169 956.9L2175.2 968.1L2179.4 980.2L2181.7 992.9L2181.8 1005.6L2179.8 1018.2L2175.7 1030L2169.6 1040.9L2158.4 1057.2L2147 1073.5L2135.5 1089.6L2123.8 1105.5L2111.9 1121.4L2099.9 1137.2L2087.8 1152.8L2075.5 1168.3L2063.1 1183.8L2050.5 1199.1L2041.7 1207.9L2031.4 1215.1L2019.9 1220.5L2007.6 1223.9L1994.8 1225.2L1982 1224.5L1969.6 1221.6L1957.9 1216.9L1947.3 1210.2L1938.2 1202L1930.8 1192.4L1925.3 1181.7L1921.9 1170.3L1920.7 1158.4L1921.7 1146.5L1924.8 1134.8L1930 1123.7L1937.1 1113.6L1949.7 1098.3L1962.1 1082.9L1974.4 1067.4L1986.5 1051.7L1998.5 1036L2010.4 1020.1L2022.1 1004.1L2033.6 988L2045 971.8Z" fill="#4a8cba" stroke="#4a8cba" stroke-width="1"/><path d="M2056.2 952.5L2064 942.9L2073.2 934.9L2083.6 928.6L2094.8 924.4L2106.5 922.3L2118.5 922.4L2130.3 924.7L2141.5 929.2L2152 935.7L2161.2 944L2169 953.9L2175.2 965.1L2179.4 977.2L2181.7 989.9L2181.8 1002.6L2179.8 1015.2L2175.7 1027L2169.6 1037.9L2158.4 1054.2L2147 1070.5L2135.5 1086.6L2123.8 1102.5L2111.9 1118.4L2099.9 1134.2L2087.8 1149.8L2075.5 1165.3L2063.1 1180.8L2050.5 1196.1L2041.7 1204.9L2031.4 1212.1L2019.9 1217.5L2007.6 1220.9L1994.8 1222.2L1982 1221.5L1969.6 1218.6L1957.9 1213.9L1947.3 1207.2L1938.2 1199L1930.8 1189.4L1925.3 1178.7L1921.9 1167.3L1920.7 1155.4L1921.7 1143.5L1924.8 1131.8L1930 1120.7L1937.1 1110.6L1949.7 1095.3L1962.1 1079.9L1974.4 1064.4L1986.5 1048.7L1998.5 1033L2010.4 1017.1L2022.1 1001.1L2033.6 985L2045 968.8Z" fill="#4a8cba" stroke="#4a8cba" stroke-width="1"/><path d="M2056.2 949.5L2064 939.9L2073.2 931.9L2083.6 925.6L2094.8 921.4L2106.5 919.3L2118.5 919.4L2130.3 921.7L2141.5 926.2L2152 932.7L2161.2 941L2169 950.9L2175.2 962.1L2179.4 974.2L2181.7 986.9L2181.8 999.6L2179.8 1012.2L2175.7 1024L2169.6 1034.9L2158.4 1051.2L2147 1067.5L2135.5 1083.6L2123.8 1099.5L2111.9 1115.4L2099.9 1131.2L2087.8 1146.8L2075.5 1162.3L2063.1 1177.8L2050.5 1193.1L2041.7 1201.9L2031.4 1209.1L2019.9 1214.5L2007.6 1217.9L1994.8 1219.2L1982 1218.5L1969.6 1215.6L1957.9 1210.9L1947.3 1204.2L1938.2 1196L1930.8 1186.4L1925.3 1175.7L1921.9 1164.3L1920.7 1152.4L1921.7 1140.5L1924.8 1128.8L1930 1117.7L1937.1 1107.6L1949.7 1092.3L1962.1 1076.9L1974.4 1061.4L1986.5 1045.7L1998.5 1030L2010.4 1014.1L2022.1 998.1L2033.6 982L2045 965.8Z" fill="#4a8cba" stroke="#4a8cba" stroke-width="1"/><path d="M2056.2 946.5L2064 936.9L2073.2 928.9L2083.6 922.6L2094.8 918.4L2106.5 916.3L2118.5 916.4L2130.3 918.7L2141.5 923.2L2152 929.7L2161.2 938L2169 947.9L2175.2 959.1L2179.4 971.2L2181.7 983.9L2181.8 996.6L2179.8 1009.2L2175.7 1021L2169.6 1031.9L2158.4 1048.2L2147 1064.5L2135.5 1080.6L2123.8 1096.5L2111.9 1112.4L2099.9 1128.2L2087.8 1143.8L2075.5 1159.3L2063.1 1174.8L2050.5 1190.1L2041.7 1198.9L2031.4 1206.1L2019.9 1211.5L2007.6 1214.9L1994.8 1216.2L1982 1215.5L1969.6 1212.6L1957.9 1207.9L1947.3 1201.2L1938.2 1193L1930.8 1183.4L1925.3 1172.7L1921.9 1161.3L1920.7 1149.4L1921.7 1137.5L1924.8 1125.8L1930 1114.7L1937.1 1104.6L1949.7 1089.3L1962.1 1073.9L1974.4 1058.4L1986.5 1042.7L1998.5 1027L2010.4 1011.1L2022.1 995.1L2033.6 979L2045 962.8Z" fill="#4a8cba" stroke="#4a8cba" stroke-width="1"/><path d="M2056.2 943.5L2064 933.9L2073.2 925.9L2083.6 919.6L2094.8 915.4L2106.5 913.3L2118.5 913.4L2130.3 915.7L2141.5 920.2L2152 926.7L2161.2 935L2169 944.9L2175.2 956.1L2179.4 968.2L2181.7 980.9L2181.8 993.6L2179.8 1006.2L2175.7 1018L2169.6 1028.9L2158.4 1045.2L2147 1061.5L2135.5 1077.6L2123.8 1093.5L2111.9 1109.4L2099.9 1125.2L2087.8 1140.8L2075.5 1156.3L2063.1 1171.8L2050.5 1187.1L2041.7 1195.9L2031.4 1203.1L2019.9 1208.5L2007.6 1211.9L1994.8 1213.2L1982 1212.5L1969.6 1209.6L1957.9 1204.9L1947.3 1198.2L1938.2 1190L1930.8 1180.4L1925.3 1169.7L1921.9 1158.3L1920.7 1146.4L1921.7 1134.5L1924.8 1122.8L1930 1111.7L1937.1 1101.6L1949.7 1086.3L1962.1 1070.9L1974.4 1055.4L1986.5 1039.7L1998.5 1024L2010.4 1008.1L2022.1 992.1L2033.6 976L2045 959.8Z" fill="#4a8cba" stroke="#4a8cba" stroke-width="1"/><path d="M2056.2 940.5L2064 930.9L2073.2 922.9L2083.6 916.6L2094.8 912.4L2106.5 910.3L2118.5 910.4L2130.3 912.7L2141.5 917.2L2152 923.7L2161.2 932L2169 941.9L2175.2 953.1L2179.4 965.2L2181.7 977.9L2181.8 990.6L2179.8 1003.2L2175.7 1015L2169.6 1025.9L2158.4 1042.2L2147 1058.5L2135.5 1074.6L2123.8 1090.5L2111.9 1106.4L2099.9 1122.2L2087.8 1137.8L2075.5 1153.3L2063.1 1168.8L2050.5 1184.1L2041.7 1192.9L2031.4 1200.1L2019.9 1205.5L2007.6 1208.9L1994.8 1210.2L1982 1209.5L1969.6 1206.6L1957.9 1201.9L1947.3 1195.2L1938.2 1187L1930.8 1177.4L1925.3 1166.7L1921.9 1155.3L1920.7 1143.4L1921.7 1131.5L1924.8 1119.8L1930 1108.7L1937.1 1098.6L1949.7 1083.3L1962.1 1067.9L1974.4 1052.4L1986.5 1036.7L1998.5 1021L2010.4 1005.1L2022.1 989.1L2033.6 973L2045 956.8Z" fill="#4a8cba" stroke="#4a8cba" stroke-width="1"/><path d="M2056.2 937.5L2064 927.9L2073.2 919.9L2083.6 913.6L2094.8 909.4L2106.5 907.3L2118.5 907.4L2130.3 909.7L2141.5 914.2L2152 920.7L2161.2 929L2169 938.9L2175.2 950.1L2179.4 962.2L2181.7 974.9L2181.8 987.6L2179.8 1000.2L2175.7 1012L2169.6 1022.9L2158.4 1039.2L2147 1055.5L2135.5 1071.6L2123.8 1087.5L2111.9 1103.4L2099.9 1119.2L2087.8 1134.8L2075.5 1150.3L2063.1 1165.8L2050.5 1181.1L2041.7 1189.9L2031.4 1197.1L2019.9 1202.5L2007.6 1205.9L1994.8 1207.2L1982 1206.5L1969.6 1203.6L1957.9 1198.9L1947.3 1192.2L1938.2 1184L1930.8 1174.4L1925.3 1163.7L1921.9 1152.3L1920.7 1140.4L1921.7 1128.5L1924.8 1116.8L1930 1105.7L1937.1 1095.6L1949.7 1080.3L1962.1 1064.9L1974.4 1049.4L1986.5 1033.7L1998.5 1018L2010.4 1002.1L2022.1 986.1L2033.6 970L2045 953.8Z" fill="#4a8cba" stroke="#4a8cba" stroke-width="1"/><path d="M2056.2 934.5L2064 924.9L2073.2 916.9L2083.6 910.6L2094.8 906.4L2106.5 904.3L2118.5 904.4L2130.3 906.7L2141.5 911.2L2152 917.7L2161.2 926L2169 935.9L2175.2 947.1L2179.4 959.2L2181.7 971.9L2181.8 984.6L2179.8 997.2L2175.7 1009L2169.6 1019.9L2158.4 1036.2L2147 1052.5L2135.5 1068.6L2123.8 1084.5L2111.9 1100.4L2099.9 1116.2L2087.8 1131.8L2075.5 1147.3L2063.1 1162.8L2050.5 1178.1L2041.7 1186.9L2031.4 1194.1L2019.9 1199.5L2007.6 1202.9L1994.8 1204.2L1982 1203.5L1969.6 1200.6L1957.9 1195.9L1947.3 1189.2L1938.2 1181L1930.8 1171.4L1925.3 1160.7L1921.9 1149.3L1920.7 1137.4L1921.7 1125.5L1924.8 1113.8L1930 1102.7L1937.1 1092.6L1949.7 1077.3L1962.1 1061.9L1974.4 1046.4L1986.5 1030.7L1998.5 1015L2010.4 999.1L2022.1 983.1L2033.6 967L2045 950.8Z" fill="#4a8cba" stroke="#4a8cba" stroke-width="1"/><path d="M2056.2 931.5L2064 921.9L2073.2 913.9L2083.6 907.6L2094.8 903.4L2106.5 901.3L2118.5 901.4L2130.3 903.7L2141.5 908.2L2152 914.7L2161.2 923L2169 932.9L2175.2 944.1L2179.4 956.2L2181.7 968.9L2181.8 981.6L2179.8 994.2L2175.7 1006L2169.6 1016.9L2158.4 1033.2L2147 1049.5L2135.5 1065.6L2123.8 1081.5L2111.9 1097.4L2099.9 1113.2L2087.8 1128.8L2075.5 1144.3L2063.1 1159.8L2050.5 1175.1L2041.7 1183.9L2031.4 1191.1L2019.9 1196.5L2007.6 1199.9L1994.8 1201.2L1982 1200.5L1969.6 1197.6L1957.9 1192.9L1947.3 1186.2L1938.2 1178L1930.8 1168.4L1925.3 1157.7L1921.9 1146.3L1920.7 1134.4L1921.7 1122.5L1924.8 1110.8L1930 1099.7L1937.1 1089.6L1949.7 1074.3L1962.1 1058.9L1974.4 1043.4L1986.5 1027.7L1998.5 1012L2010.4 996.1L2022.1 980.1L2033.6 964L2045 947.8Z" fill="#4a8cba" stroke="#4a8cba" stroke-width="1"/><path d="M2056.2 928.5L2064 918.9L2073.2 910.9L2083.6 904.6L2094.8 900.4L2106.5 898.3L2118.5 898.4L2130.3 900.7L2141.5 905.2L2152 911.7L2161.2 920L2169 929.9L2175.2 941.1L2179.4 953.2L2181.7 965.9L2181.8 978.6L2179.8 991.2L2175.7 1003L2169.6 1013.9L2158.4 1030.2L2147 1046.5L2135.5 1062.6L2123.8 1078.5L2111.9 1094.4L2099.9 1110.2L2087.8 1125.8L2075.5 1141.3L2063.1 1156.8L2050.5 1172.1L2041.7 1180.9L2031.4 1188.1L2019.9 1193.5L2007.6 1196.9L1994.8 1198.2L1982 1197.5L1969.6 1194.6L1957.9 1189.9L1947.3 1183.2L1938.2 1175L1930.8 1165.4L1925.3 1154.7L1921.9 1143.3L1920.7 1131.4L1921.7 1119.5L1924.8 1107.8L1930 1096.7L1937.1 1086.6L1949.7 1071.3L1962.1 1055.9L1974.4 1040.4L1986.5 1024.7L1998.5 1009L2010.4 993.1L2022.1 977.1L2033.6 961L2045 944.8Z" fill="#4a8cba" stroke="#4a8cba" stroke-width="1"/><path d="M2056.2 955.5L2064 945.9L2073.2 937.9L2083.6 931.6L2094.8 927.4L2106.5 925.3L2118.5 925.4L2130.3 927.7L2141.5 932.2L2152 938.7L2161.2 947L2169 956.9L2175.2 968.1L2179.4 980.2L2181.7 992.9L2181.8 1005.6L2179.8 1018.2L2175.7 1030L2169.6 1040.9L2158.4 1057.2L2147 1073.5L2135.5 1089.6L2123.8 1105.5L2111.9 1121.4L2099.9 1137.2L2087.8 1152.8L2075.5 1168.3L2063.1 1183.8L2050.5 1199.1L2041.7 1207.9L2031.4 1215.1L2019.9 1220.5L2007.6 1223.9L1994.8 1225.2L1982 1224.5L1969.6 1221.6L1957.9 1216.9L1947.3 1210.2L1938.2 1202L1930.8 1192.4L1925.3 1181.7L1921.9 1170.3L1920.7 1158.4L1921.7 1146.5L1924.8 1134.8L1930 1123.7L1937.1 1113.6L1949.7 1098.3L1962.1 1082.9L1974.4 1067.4L1986.5 1051.7L1998.5 1036L2010.4 1020.1L2022.1 1004.1L2033.6 988L2045 971.8Z" fill="#4a8cba" stroke="#246f9c" stroke-width="3.5" stroke-linejoin="round"/><path d="M2056.2 951.5L2064 941.9L2073.2 933.9L2083.6 927.6L2094.8 923.4L2106.5 921.3L2118.5 921.4L2130.3 923.7L2141.5 928.2L2152 934.7L2161.2 943L2169 952.9L2175.2 964.1L2179.4 976.2L2181.7 988.9L2181.8 1001.6L2179.8 1014.2L2175.7 1026L2169.6 1036.9L2158.4 1053.2L2147 1069.5L2135.5 1085.6L2123.8 1101.5L2111.9 1117.4L2099.9 1133.2L2087.8 1148.8L2075.5 1164.3L2063.1 1179.8L2050.5 1195.1L2041.7 1203.9L2031.4 1211.1L2019.9 1216.5L2007.6 1219.9L1994.8 1221.2L1982 1220.5L1969.6 1217.6L1957.9 1212.9L1947.3 1206.2L1938.2 1198L1930.8 1188.4L1925.3 1177.7L1921.9 1166.3L1920.7 1154.4L1921.7 1142.5L1924.8 1130.8L1930 1119.7L1937.1 1109.6L1949.7 1094.3L1962.1 1078.9L1974.4 1063.4L1986.5 1047.7L1998.5 1032L2010.4 1016.1L2022.1 1000.1L2033.6 984L2045 967.8Z" fill="#4a8cba"/><path d="M2056.2 925.5L2064 915.9L2073.2 907.9L2083.6 901.6L2094.8 897.4L2106.5 895.3L2118.5 895.4L2130.3 897.7L2141.5 902.2L2152 908.7L2161.2 917L2169 926.9L2175.2 938.1L2179.4 950.2L2181.7 962.9L2181.8 975.6L2179.8 988.2L2175.7 1000L2169.6 1010.9L2158.4 1027.2L2147 1043.5L2135.5 1059.6L2123.8 1075.5L2111.9 1091.4L2099.9 1107.2L2087.8 1122.8L2075.5 1138.3L2063.1 1153.8L2050.5 1169.1L2041.7 1177.9L2031.4 1185.1L2019.9 1190.5L2007.6 1193.9L1994.8 1195.2L1982 1194.5L1969.6 1191.6L1957.9 1186.9L1947.3 1180.2L1938.2 1172L1930.8 1162.4L1925.3 1151.7L1921.9 1140.3L1920.7 1128.4L1921.7 1116.5L1924.8 1104.8L1930 1093.7L1937.1 1083.6L1949.7 1068.3L1962.1 1052.9L1974.4 1037.4L1986.5 1021.7L1998.5 1006L2010.4 990.1L2022.1 974.1L2033.6 958L2045 941.8Z" fill="#5a9bc6" stroke="#246f9c" stroke-width="3.5" stroke-linejoin="round"/><path d="M2061.8 929.7L2068.8 921L2077.1 913.8L2086.5 908.2L2096.6 904.4L2107.2 902.5L2118 902.6L2128.6 904.7L2138.8 908.8L2148.2 914.6L2156.5 922.1L2163.6 931.1L2169.1 941.1L2172.9 952L2174.9 963.4L2175 974.9L2173.2 986.2L2169.5 996.9L2164 1006.7L2152.8 1023L2141.4 1039.2L2129.9 1055.3L2118.2 1071.3L2106.3 1087.2L2094.4 1103L2082.2 1118.6L2069.9 1134.1L2057.5 1149.5L2044.9 1164.8L2037 1172.8L2027.7 1179.3L2017.3 1184.2L2006.3 1187.2L1994.8 1188.5L1983.2 1187.8L1972 1185.3L1961.5 1180.9L1952 1175L1943.8 1167.6L1937.1 1158.9L1932.1 1149.3L1929.1 1139L1927.9 1128.2L1928.8 1117.4L1931.6 1106.9L1936.3 1096.9L1942.6 1087.8L1955.2 1072.5L1967.7 1057.1L1980 1041.6L1992.1 1025.9L2004.1 1010.2L2016 994.3L2027.7 978.3L2039.2 962.2L2050.6 946Z" fill="none" stroke="#93c8e0" stroke-width="2.5"/><path d="M2068.2 934.5L2074.3 926.9L2081.6 920.6L2089.8 915.7L2098.7 912.4L2108 910.8L2117.4 910.9L2126.7 912.7L2135.6 916.3L2143.9 921.4L2151.2 928L2157.3 935.8L2162.2 944.6L2165.5 954.1L2167.2 964L2167.3 974.1L2165.7 984L2162.4 993.3L2157.6 1001.9L2146.4 1018.2L2135 1034.4L2123.5 1050.5L2111.8 1066.5L2100 1082.4L2088 1098.1L2075.8 1113.8L2063.5 1129.3L2051.1 1144.7L2038.5 1160L2031.6 1167L2023.5 1172.7L2014.4 1176.9L2004.7 1179.7L1994.7 1180.7L1984.6 1180.2L1974.8 1178L1965.6 1174.2L1957.3 1169L1950.1 1162.5L1944.2 1154.9L1939.9 1146.5L1937.2 1137.4L1936.2 1128L1937 1118.6L1939.4 1109.3L1943.5 1100.6L1949 1092.6L1961.6 1077.3L1974.1 1061.9L1986.4 1046.4L1998.5 1030.7L2010.5 1015L2022.4 999.1L2034 983.1L2045.6 967L2057 950.8Z" fill="#a9d0e3" stroke="#246f9c" stroke-width="3" stroke-linejoin="round"/><g clip-path="url(#cm4)"><path d="M2028.1 1184.8L1964.8 1147M1946 1083.8L1970.4 1109M1965.8 1059.5L2021.2 1103.8M2087.4 1112L2055.6 1082M2106.3 1087.2L2038.5 1043.1M2022.7 985.1L2050.2 1010.2M2041 959.7L2094.1 1009.6M2161.1 1011L2139.9 986.6M2178.6 985.1L2117.1 931.1" fill="none" stroke="#246f9c" stroke-width="20" stroke-linecap="round"/><path d="M2028.1 1184.8L1964.8 1147M1946 1083.8L1970.4 1109M1965.8 1059.5L2021.2 1103.8M2087.4 1112L2055.6 1082M2106.3 1087.2L2038.5 1043.1M2022.7 985.1L2050.2 1010.2M2041 959.7L2094.1 1009.6M2161.1 1011L2139.9 986.6M2178.6 985.1L2117.1 931.1" fill="none" stroke="#5597c3" stroke-width="14" stroke-linecap="round"/><path d="M2028.1 1184.8L1964.8 1147M1946 1083.8L1970.4 1109M1965.8 1059.5L2021.2 1103.8M2087.4 1112L2055.6 1082M2106.3 1087.2L2038.5 1043.1M2022.7 985.1L2050.2 1010.2M2041 959.7L2094.1 1009.6M2161.1 1011L2139.9 986.6M2178.6 985.1L2117.1 931.1" fill="none" stroke="#3f86b6" stroke-width="2" stroke-linecap="round" opacity="0.6"/><circle cx="2079.4" cy="969.1" r="6.9" fill="none" stroke="#2f7fae" stroke-width="2.5" stroke-dasharray="3 1.5"/><circle cx="2088.4" cy="1032.4" r="8.6" fill="none" stroke="#2f7fae" stroke-width="2.5" stroke-dasharray="3 1.5"/><circle cx="2084.7" cy="947.2" r="7.8" fill="none" stroke="#2f7fae" stroke-width="2.5" stroke-dasharray="3 1.5"/></g><text x="2045" y="109.5" font-size="52" text-anchor="start" textLength="188" lengthAdjust="spacingAndGlyphs">Nucleus</text><text x="2165" y="227.5" font-size="52" text-anchor="start" textLength="300" lengthAdjust="spacingAndGlyphs">Endoplasmic</text><text x="2165" y="286" font-size="52" text-anchor="start" textLength="232" lengthAdjust="spacingAndGlyphs">Reticulum</text><text x="2305" y="419" font-size="52" text-anchor="start" textLength="234" lengthAdjust="spacingAndGlyphs">Ribosome</text><text x="383" y="510" font-size="52" text-anchor="end">Golgi</text><text x="383" y="570.5" font-size="52" text-anchor="end">Apparatus</text><text x="148" y="1293.2" font-size="52" text-anchor="start" textLength="309.5" lengthAdjust="spacingAndGlyphs">Mitochondria</text><text x="2322" y="1238" font-size="52" text-anchor="start" textLength="240" lengthAdjust="spacingAndGlyphs">Lysosome</text><text x="2450" y="1454.5" font-size="52" text-anchor="start" textLength="147" lengthAdjust="spacingAndGlyphs">10 µm</text><rect x="2349" y="1475" width="346" height="11.5" fill="#111"/><polyline points="2029,91.6 1861,213" fill="none" stroke="#1a1a1a" stroke-width="4" stroke-linecap="round" stroke-linejoin="miter"/><polyline points="2148,210.6 1920,376" fill="none" stroke="#1a1a1a" stroke-width="4" stroke-linecap="round" stroke-linejoin="miter"/><polyline points="2287,401.4 2061.5,401.4" fill="none" stroke="#1a1a1a" stroke-width="4" stroke-linecap="round" stroke-linejoin="miter"/><circle cx="2061.5" cy="401.4" r="5.5" fill="#1a1a1a"/><polyline points="401,496.5 793,646" fill="none" stroke="#1a1a1a" stroke-width="4" stroke-linecap="round" stroke-linejoin="miter"/><polyline points="476.5,1272 651,1074" fill="none" stroke="#1a1a1a" stroke-width="4" stroke-linecap="round" stroke-linejoin="miter"/><polyline points="2306,1221 1931.5,1053.8 1552,1142" fill="none" stroke="#1a1a1a" stroke-width="4" stroke-linecap="round" stroke-linejoin="miter"/></svg></body></html>
